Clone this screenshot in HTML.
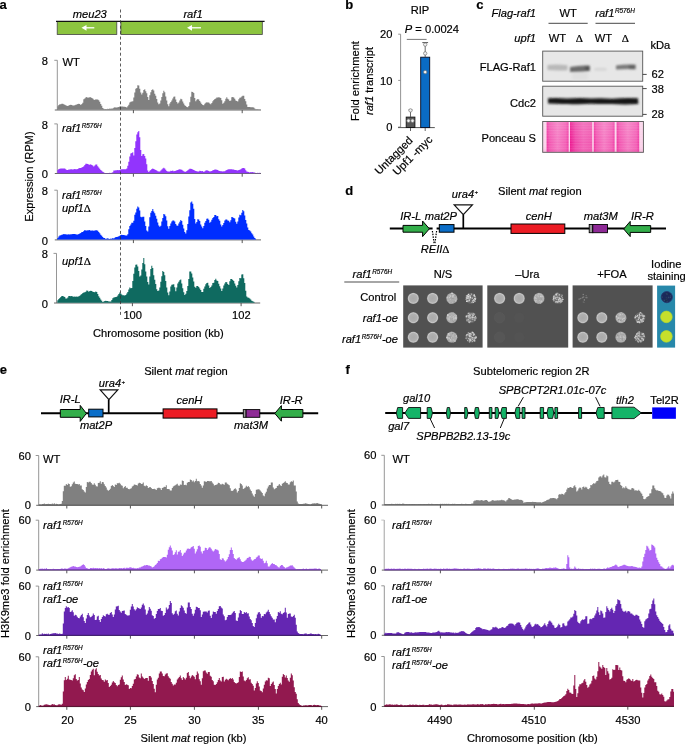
<!DOCTYPE html>
<html><head><meta charset="utf-8"><style>
html,body{margin:0;padding:0;background:#fff;width:685px;height:744px;overflow:hidden}
svg{display:block;font-family:"Liberation Sans", sans-serif;will-change:transform}
text{stroke:#000;stroke-width:0.18px}
</style></head><body>
<svg width="685" height="744" viewBox="0 0 685 744">
<rect width="685" height="744" fill="#fff"/>
<text x="-0.6" y="9.2" font-size="13" text-anchor="start" fill="#000" style="font-weight:bold;" >a</text>
<rect x="57.2" y="21.6" width="59.6" height="12.9" fill="#8cc43f" stroke="#444" stroke-width="0.8" />
<rect x="120.9" y="21.6" width="141.4" height="12.9" fill="#8cc43f" stroke="#444" stroke-width="0.8" />
<line x1="56" y1="21.3" x2="264.6" y2="21.3" stroke="#111" stroke-width="1.3" />
<text x="89.8" y="17.5" font-size="11.15" text-anchor="middle" fill="#000" style="font-style:italic;" >meu23</text>
<text x="193" y="17.5" font-size="11.15" text-anchor="middle" fill="#000" style="font-style:italic;" >raf1</text>
<line x1="84.5" y1="27.8" x2="94.3" y2="27.8" stroke="#fff" stroke-width="1.3" />
<path d="M81.5,27.8 L86.5,24.900000000000002 L86.5,30.7 Z" fill="#fff"/>
<line x1="190" y1="27.8" x2="201" y2="27.8" stroke="#fff" stroke-width="1.3" />
<path d="M187,27.8 L192,24.900000000000002 L192,30.7 Z" fill="#fff"/>
<line x1="57.3" y1="60.3" x2="57.3" y2="110.0" stroke="#8a8a8a" stroke-width="0.9" />
<line x1="54.3" y1="60.3" x2="57.3" y2="60.3" stroke="#8a8a8a" stroke-width="0.9" />
<line x1="54.8" y1="110.0" x2="261" y2="110.0" stroke="#666" stroke-width="1.0" />
<line x1="133.4" y1="110.0" x2="133.4" y2="113.2" stroke="#555" stroke-width="1.0" />
<line x1="242.2" y1="110.0" x2="242.2" y2="113.2" stroke="#555" stroke-width="1.0" />
<text x="48" y="64.89999999999999" font-size="11.15" text-anchor="end" fill="#000" style="" >8</text>
<path d="M57.3,109.7 L57.3,106.3 L58.3,106.3 L58.3,105.0 L59.3,105.0 L59.3,104.3 L60.3,104.3 L60.3,104.2 L61.3,104.2 L61.3,103.7 L62.3,103.7 L62.3,103.8 L63.3,103.8 L63.3,104.2 L64.3,104.2 L64.3,104.7 L65.3,104.7 L65.3,105.3 L66.3,105.3 L66.3,105.8 L67.3,105.8 L67.3,105.9 L68.3,105.9 L68.3,105.4 L69.3,105.4 L69.3,105.1 L70.3,105.1 L70.3,104.8 L71.3,104.8 L71.3,104.9 L72.3,104.9 L72.3,105.4 L73.3,105.4 L73.3,105.4 L74.3,105.4 L74.3,105.2 L75.3,105.2 L75.3,104.8 L76.3,104.8 L76.3,104.5 L77.3,104.5 L77.3,103.9 L78.3,103.9 L78.3,103.8 L79.3,103.8 L79.3,104.1 L80.3,104.1 L80.3,105.0 L81.3,105.0 L81.3,104.1 L82.3,104.1 L82.3,102.7 L83.3,102.7 L83.3,99.3 L84.3,99.3 L84.3,98.5 L85.3,98.5 L85.3,97.4 L86.3,97.4 L86.3,97.1 L87.3,97.1 L87.3,97.7 L88.3,97.7 L88.3,97.5 L89.3,97.5 L89.3,97.3 L90.3,97.3 L90.3,97.2 L91.3,97.2 L91.3,98.0 L92.3,98.0 L92.3,98.4 L93.3,98.4 L93.3,99.6 L94.3,99.6 L94.3,100.0 L95.3,100.0 L95.3,99.2 L96.3,99.2 L96.3,99.5 L97.3,99.5 L97.3,99.5 L98.3,99.5 L98.3,100.3 L99.3,100.3 L99.3,101.8 L100.3,101.8 L100.3,104.0 L101.3,104.0 L101.3,105.7 L102.3,105.7 L102.3,108.1 L103.3,108.1 L103.3,108.7 L104.3,108.7 L104.3,109.2 L105.3,109.2 L105.3,108.9 L106.3,108.9 L106.3,109.3 L107.3,109.3 L107.3,108.8 L108.3,108.8 L108.3,109.1 L109.3,109.1 L109.3,108.4 L110.3,108.4 L110.3,108.7 L111.3,108.7 L111.3,108.5 L112.3,108.5 L112.3,108.5 L113.3,108.5 L113.3,107.8 L114.3,107.8 L114.3,107.2 L115.3,107.2 L115.3,107.6 L116.3,107.6 L116.3,107.5 L117.3,107.5 L117.3,107.3 L118.3,107.3 L118.3,106.9 L119.3,106.9 L119.3,106.6 L120.3,106.6 L120.3,106.4 L121.3,106.4 L121.3,106.6 L122.3,106.6 L122.3,106.6 L123.3,106.6 L123.3,106.7 L124.3,106.7 L124.3,106.7 L125.3,106.7 L125.3,107.0 L126.3,107.0 L126.3,107.4 L127.3,107.4 L127.3,106.2 L128.3,106.2 L128.3,104.8 L129.3,104.8 L129.3,102.4 L130.3,102.4 L130.3,101.8 L131.3,101.8 L131.3,101.6 L132.3,101.6 L132.3,101.3 L133.3,101.3 L133.3,97.6 L134.3,97.6 L134.3,92.4 L135.3,92.4 L135.3,88.7 L136.3,88.7 L136.3,87.9 L137.3,87.9 L137.3,85.2 L138.3,85.2 L138.3,85.6 L139.3,85.6 L139.3,88.8 L140.3,88.8 L140.3,92.6 L141.3,92.6 L141.3,94.6 L142.3,94.6 L142.3,92.8 L143.3,92.8 L143.3,90.0 L144.3,90.0 L144.3,89.3 L145.3,89.3 L145.3,91.3 L146.3,91.3 L146.3,93.3 L147.3,93.3 L147.3,97.0 L148.3,97.0 L148.3,99.9 L149.3,99.9 L149.3,95.2 L150.3,95.2 L150.3,92.3 L151.3,92.3 L151.3,90.1 L152.3,90.1 L152.3,89.3 L153.3,89.3 L153.3,90.6 L154.3,90.6 L154.3,93.7 L155.3,93.7 L155.3,95.7 L156.3,95.7 L156.3,99.0 L157.3,99.0 L157.3,102.4 L158.3,102.4 L158.3,104.3 L159.3,104.3 L159.3,103.5 L160.3,103.5 L160.3,100.6 L161.3,100.6 L161.3,97.1 L162.3,97.1 L162.3,93.2 L163.3,93.2 L163.3,90.8 L164.3,90.8 L164.3,92.3 L165.3,92.3 L165.3,96.5 L166.3,96.5 L166.3,100.4 L167.3,100.4 L167.3,104.3 L168.3,104.3 L168.3,106.2 L169.3,106.2 L169.3,103.6 L170.3,103.6 L170.3,101.9 L171.3,101.9 L171.3,100.6 L172.3,100.6 L172.3,98.4 L173.3,98.4 L173.3,96.8 L174.3,96.8 L174.3,96.4 L175.3,96.4 L175.3,99.6 L176.3,99.6 L176.3,102.1 L177.3,102.1 L177.3,103.4 L178.3,103.4 L178.3,102.6 L179.3,102.6 L179.3,100.6 L180.3,100.6 L180.3,98.8 L181.3,98.8 L181.3,99.2 L182.3,99.2 L182.3,101.4 L183.3,101.4 L183.3,103.4 L184.3,103.4 L184.3,105.3 L185.3,105.3 L185.3,106.0 L186.3,106.0 L186.3,106.9 L187.3,106.9 L187.3,107.2 L188.3,107.2 L188.3,106.1 L189.3,106.1 L189.3,102.2 L190.3,102.2 L190.3,96.8 L191.3,96.8 L191.3,91.8 L192.3,91.8 L192.3,91.9 L193.3,91.9 L193.3,93.0 L194.3,93.0 L194.3,98.0 L195.3,98.0 L195.3,101.2 L196.3,101.2 L196.3,99.7 L197.3,99.7 L197.3,99.1 L198.3,99.1 L198.3,99.4 L199.3,99.4 L199.3,101.1 L200.3,101.1 L200.3,102.5 L201.3,102.5 L201.3,104.0 L202.3,104.0 L202.3,105.0 L203.3,105.0 L203.3,105.2 L204.3,105.2 L204.3,103.7 L205.3,103.7 L205.3,102.7 L206.3,102.7 L206.3,102.3 L207.3,102.3 L207.3,102.4 L208.3,102.4 L208.3,102.5 L209.3,102.5 L209.3,103.5 L210.3,103.5 L210.3,104.2 L211.3,104.2 L211.3,103.1 L212.3,103.1 L212.3,101.2 L213.3,101.2 L213.3,100.0 L214.3,100.0 L214.3,99.0 L215.3,99.0 L215.3,98.5 L216.3,98.5 L216.3,97.5 L217.3,97.5 L217.3,97.5 L218.3,97.5 L218.3,97.3 L219.3,97.3 L219.3,97.5 L220.3,97.5 L220.3,98.0 L221.3,98.0 L221.3,100.2 L222.3,100.2 L222.3,103.7 L223.3,103.7 L223.3,102.8 L224.3,102.8 L224.3,101.3 L225.3,101.3 L225.3,98.8 L226.3,98.8 L226.3,97.3 L227.3,97.3 L227.3,98.7 L228.3,98.7 L228.3,99.4 L229.3,99.4 L229.3,101.0 L230.3,101.0 L230.3,100.4 L231.3,100.4 L231.3,97.3 L232.3,97.3 L232.3,96.9 L233.3,96.9 L233.3,97.5 L234.3,97.5 L234.3,98.8 L235.3,98.8 L235.3,100.5 L236.3,100.5 L236.3,101.1 L237.3,101.1 L237.3,101.4 L238.3,101.4 L238.3,99.3 L239.3,99.3 L239.3,97.8 L240.3,97.8 L240.3,97.5 L241.3,97.5 L241.3,96.6 L242.3,96.6 L242.3,95.8 L243.3,95.8 L243.3,95.8 L244.3,95.8 L244.3,98.9 L245.3,98.9 L245.3,101.2 L246.3,101.2 L246.3,104.5 L247.3,104.5 L247.3,106.9 L248.3,106.9 L248.3,106.9 L249.3,106.9 L249.3,107.0 L250.3,107.0 L250.3,107.2 L251.3,107.2 L251.3,107.2 L252.3,107.2 L252.3,107.2 L253.3,107.2 L253.3,107.5 L254.3,107.5 L254.3,108.4 L255.3,108.4 L255.3,109.2 L256.3,109.2 L256.3,109.3 L257.3,109.3 L257.3,109.3 L258.3,109.3 L258.3,109.4 L259.3,109.4 L259.3,109.4 L260.3,109.4 L260.3,109.3 L260.4,109.3 L260.4,109.7 Z" fill="#808080" stroke="none"/>
<line x1="57.3" y1="123.9" x2="57.3" y2="173.5" stroke="#8a8a8a" stroke-width="0.9" />
<line x1="54.3" y1="123.9" x2="57.3" y2="123.9" stroke="#8a8a8a" stroke-width="0.9" />
<line x1="54.8" y1="173.5" x2="261" y2="173.5" stroke="#666" stroke-width="1.0" />
<line x1="133.4" y1="173.5" x2="133.4" y2="176.7" stroke="#555" stroke-width="1.0" />
<line x1="242.2" y1="173.5" x2="242.2" y2="176.7" stroke="#555" stroke-width="1.0" />
<text x="48" y="128.5" font-size="11.15" text-anchor="end" fill="#000" style="" >8</text>
<text x="48" y="178.1" font-size="11.15" text-anchor="end" fill="#000" style="" >0</text>
<path d="M57.3,173.2 L57.3,169.9 L58.3,169.9 L58.3,169.0 L59.3,169.0 L59.3,168.7 L60.3,168.7 L60.3,168.5 L61.3,168.5 L61.3,168.6 L62.3,168.6 L62.3,168.4 L63.3,168.4 L63.3,168.4 L64.3,168.4 L64.3,168.6 L65.3,168.6 L65.3,169.2 L66.3,169.2 L66.3,169.9 L67.3,169.9 L67.3,169.9 L68.3,169.9 L68.3,169.5 L69.3,169.5 L69.3,169.4 L70.3,169.4 L70.3,169.2 L71.3,169.2 L71.3,169.3 L72.3,169.3 L72.3,169.4 L73.3,169.4 L73.3,169.2 L74.3,169.2 L74.3,169.1 L75.3,169.1 L75.3,169.2 L76.3,169.2 L76.3,169.2 L77.3,169.2 L77.3,168.9 L78.3,168.9 L78.3,168.3 L79.3,168.3 L79.3,168.1 L80.3,168.1 L80.3,167.9 L81.3,167.9 L81.3,167.6 L82.3,167.6 L82.3,167.0 L83.3,167.0 L83.3,166.2 L84.3,166.2 L84.3,164.9 L85.3,164.9 L85.3,163.8 L86.3,163.8 L86.3,163.8 L87.3,163.8 L87.3,164.0 L88.3,164.0 L88.3,164.4 L89.3,164.4 L89.3,164.8 L90.3,164.8 L90.3,164.3 L91.3,164.3 L91.3,165.0 L92.3,165.0 L92.3,165.5 L93.3,165.5 L93.3,166.4 L94.3,166.4 L94.3,165.6 L95.3,165.6 L95.3,164.6 L96.3,164.6 L96.3,164.5 L97.3,164.5 L97.3,166.2 L98.3,166.2 L98.3,167.6 L99.3,167.6 L99.3,168.8 L100.3,168.8 L100.3,169.9 L101.3,169.9 L101.3,170.7 L102.3,170.7 L102.3,171.7 L103.3,171.7 L103.3,172.3 L104.3,172.3 L104.3,172.9 L105.3,172.9 L105.3,172.9 L106.3,172.9 L106.3,172.9 L107.3,172.9 L107.3,172.9 L108.3,172.9 L108.3,172.9 L109.3,172.9 L109.3,172.7 L110.3,172.7 L110.3,172.9 L111.3,172.9 L111.3,172.7 L112.3,172.7 L112.3,172.2 L113.3,172.2 L113.3,170.6 L114.3,170.6 L114.3,170.4 L115.3,170.4 L115.3,170.2 L116.3,170.2 L116.3,170.3 L117.3,170.3 L117.3,170.1 L118.3,170.1 L118.3,170.2 L119.3,170.2 L119.3,170.1 L120.3,170.1 L120.3,169.6 L121.3,169.6 L121.3,169.2 L122.3,169.2 L122.3,169.3 L123.3,169.3 L123.3,169.2 L124.3,169.2 L124.3,169.2 L125.3,169.2 L125.3,169.2 L126.3,169.2 L126.3,168.6 L127.3,168.6 L127.3,165.8 L128.3,165.8 L128.3,161.7 L129.3,161.7 L129.3,156.5 L130.3,156.5 L130.3,153.6 L131.3,153.6 L131.3,153.1 L132.3,153.1 L132.3,152.3 L133.3,152.3 L133.3,155.5 L134.3,155.5 L134.3,148.0 L135.3,148.0 L135.3,141.2 L136.3,141.2 L136.3,134.4 L137.3,134.4 L137.3,132.2 L138.3,132.2 L138.3,131.1 L139.3,131.1 L139.3,137.3 L140.3,137.3 L140.3,149.9 L141.3,149.9 L141.3,156.1 L142.3,156.1 L142.3,154.2 L143.3,154.2 L143.3,153.9 L144.3,153.9 L144.3,155.9 L145.3,155.9 L145.3,158.4 L146.3,158.4 L146.3,164.3 L147.3,164.3 L147.3,170.4 L148.3,170.4 L148.3,171.9 L149.3,171.9 L149.3,170.8 L150.3,170.8 L150.3,169.9 L151.3,169.9 L151.3,169.1 L152.3,169.1 L152.3,168.6 L153.3,168.6 L153.3,169.0 L154.3,169.0 L154.3,169.4 L155.3,169.4 L155.3,169.9 L156.3,169.9 L156.3,170.5 L157.3,170.5 L157.3,171.3 L158.3,171.3 L158.3,171.4 L159.3,171.4 L159.3,171.4 L160.3,171.4 L160.3,170.6 L161.3,170.6 L161.3,169.6 L162.3,169.6 L162.3,168.4 L163.3,168.4 L163.3,167.8 L164.3,167.8 L164.3,168.5 L165.3,168.5 L165.3,169.8 L166.3,169.8 L166.3,170.9 L167.3,170.9 L167.3,171.4 L168.3,171.4 L168.3,171.5 L169.3,171.5 L169.3,171.4 L170.3,171.4 L170.3,170.8 L171.3,170.8 L171.3,171.0 L172.3,171.0 L172.3,170.5 L173.3,170.5 L173.3,171.2 L174.3,171.2 L174.3,170.9 L175.3,170.9 L175.3,170.7 L176.3,170.7 L176.3,170.3 L177.3,170.3 L177.3,170.0 L178.3,170.0 L178.3,169.6 L179.3,169.6 L179.3,169.2 L180.3,169.2 L180.3,169.4 L181.3,169.4 L181.3,169.8 L182.3,169.8 L182.3,170.5 L183.3,170.5 L183.3,171.3 L184.3,171.3 L184.3,171.8 L185.3,171.8 L185.3,171.8 L186.3,171.8 L186.3,171.0 L187.3,171.0 L187.3,170.3 L188.3,170.3 L188.3,169.6 L189.3,169.6 L189.3,168.8 L190.3,168.8 L190.3,168.7 L191.3,168.7 L191.3,169.1 L192.3,169.1 L192.3,169.6 L193.3,169.6 L193.3,170.1 L194.3,170.1 L194.3,170.6 L195.3,170.6 L195.3,171.1 L196.3,171.1 L196.3,171.3 L197.3,171.3 L197.3,171.4 L198.3,171.4 L198.3,171.5 L199.3,171.5 L199.3,170.7 L200.3,170.7 L200.3,170.9 L201.3,170.9 L201.3,171.2 L202.3,171.2 L202.3,171.1 L203.3,171.1 L203.3,172.1 L204.3,172.1 L204.3,171.2 L205.3,171.2 L205.3,170.5 L206.3,170.5 L206.3,170.3 L207.3,170.3 L207.3,170.6 L208.3,170.6 L208.3,171.1 L209.3,171.1 L209.3,171.4 L210.3,171.4 L210.3,171.2 L211.3,171.2 L211.3,171.1 L212.3,171.1 L212.3,170.2 L213.3,170.2 L213.3,169.9 L214.3,169.9 L214.3,169.4 L215.3,169.4 L215.3,169.4 L216.3,169.4 L216.3,169.7 L217.3,169.7 L217.3,170.1 L218.3,170.1 L218.3,170.8 L219.3,170.8 L219.3,171.1 L220.3,171.1 L220.3,171.2 L221.3,171.2 L221.3,171.3 L222.3,171.3 L222.3,171.5 L223.3,171.5 L223.3,171.3 L224.3,171.3 L224.3,171.2 L225.3,171.2 L225.3,170.5 L226.3,170.5 L226.3,170.0 L227.3,170.0 L227.3,169.6 L228.3,169.6 L228.3,169.2 L229.3,169.2 L229.3,169.2 L230.3,169.2 L230.3,169.3 L231.3,169.3 L231.3,169.3 L232.3,169.3 L232.3,169.6 L233.3,169.6 L233.3,169.5 L234.3,169.5 L234.3,169.9 L235.3,169.9 L235.3,170.1 L236.3,170.1 L236.3,170.3 L237.3,170.3 L237.3,170.5 L238.3,170.5 L238.3,170.1 L239.3,170.1 L239.3,169.7 L240.3,169.7 L240.3,169.3 L241.3,169.3 L241.3,168.6 L242.3,168.6 L242.3,168.0 L243.3,168.0 L243.3,167.9 L244.3,167.9 L244.3,168.6 L245.3,168.6 L245.3,170.2 L246.3,170.2 L246.3,171.5 L247.3,171.5 L247.3,171.8 L248.3,171.8 L248.3,172.1 L249.3,172.1 L249.3,172.5 L250.3,172.5 L250.3,172.1 L251.3,172.1 L251.3,172.3 L252.3,172.3 L252.3,171.9 L253.3,171.9 L253.3,172.6 L254.3,172.6 L254.3,172.6 L255.3,172.6 L255.3,173.2 L256.3,173.2 L256.3,172.9 L257.3,172.9 L257.3,172.8 L258.3,172.8 L258.3,172.9 L259.3,172.9 L259.3,172.8 L260.3,172.8 L260.3,172.9 L260.4,172.9 L260.4,173.2 Z" fill="#9234fd" stroke="none"/>
<line x1="57.3" y1="190.2" x2="57.3" y2="239.9" stroke="#8a8a8a" stroke-width="0.9" />
<line x1="54.3" y1="190.2" x2="57.3" y2="190.2" stroke="#8a8a8a" stroke-width="0.9" />
<line x1="54.8" y1="239.9" x2="261" y2="239.9" stroke="#666" stroke-width="1.0" />
<line x1="133.4" y1="239.9" x2="133.4" y2="243.1" stroke="#555" stroke-width="1.0" />
<line x1="242.2" y1="239.9" x2="242.2" y2="243.1" stroke="#555" stroke-width="1.0" />
<text x="48" y="194.79999999999998" font-size="11.15" text-anchor="end" fill="#000" style="" >8</text>
<text x="48" y="244.5" font-size="11.15" text-anchor="end" fill="#000" style="" >0</text>
<path d="M57.3,239.6 L57.3,237.9 L58.3,237.9 L58.3,236.4 L59.3,236.4 L59.3,235.6 L60.3,235.6 L60.3,235.2 L61.3,235.2 L61.3,234.7 L62.3,234.7 L62.3,234.5 L63.3,234.5 L63.3,234.0 L64.3,234.0 L64.3,234.2 L65.3,234.2 L65.3,234.3 L66.3,234.3 L66.3,234.5 L67.3,234.5 L67.3,234.4 L68.3,234.4 L68.3,234.2 L69.3,234.2 L69.3,234.4 L70.3,234.4 L70.3,234.2 L71.3,234.2 L71.3,234.2 L72.3,234.2 L72.3,234.1 L73.3,234.1 L73.3,234.0 L74.3,234.0 L74.3,234.1 L75.3,234.1 L75.3,234.2 L76.3,234.2 L76.3,234.4 L77.3,234.4 L77.3,234.5 L78.3,234.5 L78.3,234.1 L79.3,234.1 L79.3,233.6 L80.3,233.6 L80.3,233.1 L81.3,233.1 L81.3,232.1 L82.3,232.1 L82.3,231.9 L83.3,231.9 L83.3,231.1 L84.3,231.1 L84.3,230.0 L85.3,230.0 L85.3,230.5 L86.3,230.5 L86.3,230.5 L87.3,230.5 L87.3,230.2 L88.3,230.2 L88.3,230.3 L89.3,230.3 L89.3,230.0 L90.3,230.0 L90.3,230.8 L91.3,230.8 L91.3,230.6 L92.3,230.6 L92.3,230.6 L93.3,230.6 L93.3,230.7 L94.3,230.7 L94.3,230.4 L95.3,230.4 L95.3,230.2 L96.3,230.2 L96.3,230.3 L97.3,230.3 L97.3,230.8 L98.3,230.8 L98.3,231.9 L99.3,231.9 L99.3,233.3 L100.3,233.3 L100.3,234.7 L101.3,234.7 L101.3,235.7 L102.3,235.7 L102.3,236.9 L103.3,236.9 L103.3,237.9 L104.3,237.9 L104.3,238.0 L105.3,238.0 L105.3,238.9 L106.3,238.9 L106.3,238.4 L107.3,238.4 L107.3,238.2 L108.3,238.2 L108.3,238.8 L109.3,238.8 L109.3,238.9 L110.3,238.9 L110.3,238.6 L111.3,238.6 L111.3,238.8 L112.3,238.8 L112.3,238.0 L113.3,238.0 L113.3,238.4 L114.3,238.4 L114.3,237.7 L115.3,237.7 L115.3,237.0 L116.3,237.0 L116.3,237.0 L117.3,237.0 L117.3,236.8 L118.3,236.8 L118.3,236.3 L119.3,236.3 L119.3,235.7 L120.3,235.7 L120.3,235.0 L121.3,235.0 L121.3,234.8 L122.3,234.8 L122.3,235.1 L123.3,235.1 L123.3,235.1 L124.3,235.1 L124.3,235.3 L125.3,235.3 L125.3,235.6 L126.3,235.6 L126.3,235.5 L127.3,235.5 L127.3,234.3 L128.3,234.3 L128.3,229.3 L129.3,229.3 L129.3,225.9 L130.3,225.9 L130.3,224.4 L131.3,224.4 L131.3,222.7 L132.3,222.7 L132.3,222.7 L133.3,222.7 L133.3,220.7 L134.3,220.7 L134.3,214.7 L135.3,214.7 L135.3,212.5 L136.3,212.5 L136.3,208.7 L137.3,208.7 L137.3,206.6 L138.3,206.6 L138.3,207.6 L139.3,207.6 L139.3,210.4 L140.3,210.4 L140.3,216.7 L141.3,216.7 L141.3,217.2 L142.3,217.2 L142.3,216.8 L143.3,216.8 L143.3,216.8 L144.3,216.8 L144.3,221.4 L145.3,221.4 L145.3,226.0 L146.3,226.0 L146.3,230.6 L147.3,230.6 L147.3,231.6 L148.3,231.6 L148.3,226.6 L149.3,226.6 L149.3,217.2 L150.3,217.2 L150.3,212.8 L151.3,212.8 L151.3,211.1 L152.3,211.1 L152.3,209.0 L153.3,209.0 L153.3,211.5 L154.3,211.5 L154.3,213.2 L155.3,213.2 L155.3,215.7 L156.3,215.7 L156.3,218.8 L157.3,218.8 L157.3,222.6 L158.3,222.6 L158.3,225.4 L159.3,225.4 L159.3,226.7 L160.3,226.7 L160.3,225.7 L161.3,225.7 L161.3,221.5 L162.3,221.5 L162.3,218.0 L163.3,218.0 L163.3,213.9 L164.3,213.9 L164.3,214.5 L165.3,214.5 L165.3,216.3 L166.3,216.3 L166.3,220.4 L167.3,220.4 L167.3,226.3 L168.3,226.3 L168.3,228.7 L169.3,228.7 L169.3,226.0 L170.3,226.0 L170.3,223.6 L171.3,223.6 L171.3,221.4 L172.3,221.4 L172.3,220.4 L173.3,220.4 L173.3,220.6 L174.3,220.6 L174.3,221.5 L175.3,221.5 L175.3,223.9 L176.3,223.9 L176.3,225.6 L177.3,225.6 L177.3,225.8 L178.3,225.8 L178.3,223.4 L179.3,223.4 L179.3,221.8 L180.3,221.8 L180.3,219.9 L181.3,219.9 L181.3,221.0 L182.3,221.0 L182.3,224.7 L183.3,224.7 L183.3,228.5 L184.3,228.5 L184.3,232.0 L185.3,232.0 L185.3,233.6 L186.3,233.6 L186.3,230.2 L187.3,230.2 L187.3,224.0 L188.3,224.0 L188.3,216.5 L189.3,216.5 L189.3,210.3 L190.3,210.3 L190.3,202.6 L191.3,202.6 L191.3,201.4 L192.3,201.4 L192.3,203.7 L193.3,203.7 L193.3,208.7 L194.3,208.7 L194.3,218.9 L195.3,218.9 L195.3,223.4 L196.3,223.4 L196.3,222.0 L197.3,222.0 L197.3,219.3 L198.3,219.3 L198.3,219.5 L199.3,219.5 L199.3,221.1 L200.3,221.1 L200.3,224.6 L201.3,224.6 L201.3,226.6 L202.3,226.6 L202.3,228.2 L203.3,228.2 L203.3,226.1 L204.3,226.1 L204.3,222.8 L205.3,222.8 L205.3,220.9 L206.3,220.9 L206.3,218.8 L207.3,218.8 L207.3,218.4 L208.3,218.4 L208.3,219.8 L209.3,219.8 L209.3,222.8 L210.3,222.8 L210.3,221.8 L211.3,221.8 L211.3,219.8 L212.3,219.8 L212.3,218.0 L213.3,218.0 L213.3,217.0 L214.3,217.0 L214.3,215.1 L215.3,215.1 L215.3,214.9 L216.3,214.9 L216.3,216.2 L217.3,216.2 L217.3,216.1 L218.3,216.1 L218.3,219.3 L219.3,219.3 L219.3,220.8 L220.3,220.8 L220.3,224.4 L221.3,224.4 L221.3,226.4 L222.3,226.4 L222.3,224.9 L223.3,224.9 L223.3,223.0 L224.3,223.0 L224.3,220.4 L225.3,220.4 L225.3,219.6 L226.3,219.6 L226.3,219.6 L227.3,219.6 L227.3,220.6 L228.3,220.6 L228.3,220.8 L229.3,220.8 L229.3,222.2 L230.3,222.2 L230.3,220.2 L231.3,220.2 L231.3,216.9 L232.3,216.9 L232.3,217.3 L233.3,217.3 L233.3,217.9 L234.3,217.9 L234.3,218.6 L235.3,218.6 L235.3,221.7 L236.3,221.7 L236.3,223.7 L237.3,223.7 L237.3,221.4 L238.3,221.4 L238.3,217.6 L239.3,217.6 L239.3,214.8 L240.3,214.8 L240.3,215.2 L241.3,215.2 L241.3,212.7 L242.3,212.7 L242.3,209.9 L243.3,209.9 L243.3,211.2 L244.3,211.2 L244.3,215.4 L245.3,215.4 L245.3,220.1 L246.3,220.1 L246.3,223.4 L247.3,223.4 L247.3,227.4 L248.3,227.4 L248.3,230.1 L249.3,230.1 L249.3,230.6 L250.3,230.6 L250.3,231.4 L251.3,231.4 L251.3,233.2 L252.3,233.2 L252.3,234.6 L253.3,234.6 L253.3,236.4 L254.3,236.4 L254.3,237.9 L255.3,237.9 L255.3,238.8 L256.0,238.8 L256.0,239.6 Z" fill="#002dff" stroke="none"/>
<line x1="56.5" y1="253.4" x2="56.5" y2="303.0" stroke="#8a8a8a" stroke-width="0.9" />
<line x1="53.5" y1="253.4" x2="56.5" y2="253.4" stroke="#8a8a8a" stroke-width="0.9" />
<line x1="54.0" y1="303.0" x2="260.2" y2="303.0" stroke="#666" stroke-width="1.0" />
<line x1="132.4" y1="303.0" x2="132.4" y2="306.2" stroke="#555" stroke-width="1.0" />
<line x1="241.1" y1="303.0" x2="241.1" y2="306.2" stroke="#555" stroke-width="1.0" />
<text x="48" y="258.0" font-size="11.15" text-anchor="end" fill="#000" style="" >8</text>
<text x="48" y="307.6" font-size="11.15" text-anchor="end" fill="#000" style="" >0</text>
<path d="M57.3,302.7 L57.3,300.2 L58.3,300.2 L58.3,298.9 L59.3,298.9 L59.3,297.9 L60.3,297.9 L60.3,296.9 L61.3,296.9 L61.3,296.1 L62.3,296.1 L62.3,295.9 L63.3,295.9 L63.3,296.6 L64.3,296.6 L64.3,297.0 L65.3,297.0 L65.3,298.4 L66.3,298.4 L66.3,298.5 L67.3,298.5 L67.3,297.5 L68.3,297.5 L68.3,296.0 L69.3,296.0 L69.3,296.1 L70.3,296.1 L70.3,296.3 L71.3,296.3 L71.3,296.1 L72.3,296.1 L72.3,296.4 L73.3,296.4 L73.3,296.7 L74.3,296.7 L74.3,296.6 L75.3,296.6 L75.3,296.7 L76.3,296.7 L76.3,296.6 L77.3,296.6 L77.3,296.7 L78.3,296.7 L78.3,296.3 L79.3,296.3 L79.3,295.7 L80.3,295.7 L80.3,294.8 L81.3,294.8 L81.3,294.0 L82.3,294.0 L82.3,292.9 L83.3,292.9 L83.3,292.4 L84.3,292.4 L84.3,292.3 L85.3,292.3 L85.3,291.7 L86.3,291.7 L86.3,290.4 L87.3,290.4 L87.3,290.7 L88.3,290.7 L88.3,291.7 L89.3,291.7 L89.3,291.1 L90.3,291.1 L90.3,290.8 L91.3,290.8 L91.3,291.1 L92.3,291.1 L92.3,291.7 L93.3,291.7 L93.3,292.0 L94.3,292.0 L94.3,292.2 L95.3,292.2 L95.3,291.6 L96.3,291.6 L96.3,292.0 L97.3,292.0 L97.3,293.9 L98.3,293.9 L98.3,296.2 L99.3,296.2 L99.3,297.8 L100.3,297.8 L100.3,299.6 L101.3,299.6 L101.3,300.8 L102.3,300.8 L102.3,302.1 L103.3,302.1 L103.3,301.4 L104.3,301.4 L104.3,301.1 L105.3,301.1 L105.3,300.8 L106.3,300.8 L106.3,301.0 L107.3,301.0 L107.3,301.1 L108.3,301.1 L108.3,301.4 L109.3,301.4 L109.3,301.5 L110.3,301.5 L110.3,301.4 L111.3,301.4 L111.3,300.1 L112.3,300.1 L112.3,298.3 L113.3,298.3 L113.3,297.6 L114.3,297.6 L114.3,297.3 L115.3,297.3 L115.3,297.0 L116.3,297.0 L116.3,296.7 L117.3,296.7 L117.3,295.5 L118.3,295.5 L118.3,293.9 L119.3,293.9 L119.3,292.6 L120.3,292.6 L120.3,293.6 L121.3,293.6 L121.3,294.6 L122.3,294.6 L122.3,295.3 L123.3,295.3 L123.3,295.3 L124.3,295.3 L124.3,295.4 L125.3,295.4 L125.3,294.9 L126.3,294.9 L126.3,293.6 L127.3,293.6 L127.3,292.1 L128.3,292.1 L128.3,289.4 L129.3,289.4 L129.3,287.4 L130.3,287.4 L130.3,288.2 L131.3,288.2 L131.3,288.1 L132.3,288.1 L132.3,281.0 L133.3,281.0 L133.3,273.7 L134.3,273.7 L134.3,267.5 L135.3,267.5 L135.3,264.8 L136.3,264.8 L136.3,264.5 L137.3,264.5 L137.3,266.5 L138.3,266.5 L138.3,271.1 L139.3,271.1 L139.3,276.4 L140.3,276.4 L140.3,275.5 L141.3,275.5 L141.3,269.4 L142.3,269.4 L142.3,263.0 L143.3,263.0 L143.3,257.9 L144.3,257.9 L144.3,264.3 L145.3,264.3 L145.3,271.4 L146.3,271.4 L146.3,276.5 L147.3,276.5 L147.3,282.1 L148.3,282.1 L148.3,284.5 L149.3,284.5 L149.3,276.4 L150.3,276.4 L150.3,269.0 L151.3,269.0 L151.3,265.8 L152.3,265.8 L152.3,268.0 L153.3,268.0 L153.3,275.3 L154.3,275.3 L154.3,279.7 L155.3,279.7 L155.3,284.1 L156.3,284.1 L156.3,289.3 L157.3,289.3 L157.3,291.1 L158.3,291.1 L158.3,290.5 L159.3,290.5 L159.3,287.5 L160.3,287.5 L160.3,281.8 L161.3,281.8 L161.3,276.2 L162.3,276.2 L162.3,271.0 L163.3,271.0 L163.3,271.9 L164.3,271.9 L164.3,275.3 L165.3,275.3 L165.3,281.0 L166.3,281.0 L166.3,287.5 L167.3,287.5 L167.3,292.5 L168.3,292.5 L168.3,295.2 L169.3,295.2 L169.3,291.5 L170.3,291.5 L170.3,286.5 L171.3,286.5 L171.3,284.7 L172.3,284.7 L172.3,284.5 L173.3,284.5 L173.3,284.3 L174.3,284.3 L174.3,287.2 L175.3,287.2 L175.3,291.2 L176.3,291.2 L176.3,287.6 L177.3,287.6 L177.3,283.5 L178.3,283.5 L178.3,281.8 L179.3,281.8 L179.3,280.3 L180.3,280.3 L180.3,279.6 L181.3,279.6 L181.3,283.5 L182.3,283.5 L182.3,288.3 L183.3,288.3 L183.3,292.3 L184.3,292.3 L184.3,294.9 L185.3,294.9 L185.3,293.8 L186.3,293.8 L186.3,290.9 L187.3,290.9 L187.3,285.9 L188.3,285.9 L188.3,279.1 L189.3,279.1 L189.3,271.4 L190.3,271.4 L190.3,271.5 L191.3,271.5 L191.3,273.6 L192.3,273.6 L192.3,277.4 L193.3,277.4 L193.3,281.6 L194.3,281.6 L194.3,286.7 L195.3,286.7 L195.3,287.8 L196.3,287.8 L196.3,286.1 L197.3,286.1 L197.3,286.1 L198.3,286.1 L198.3,286.9 L199.3,286.9 L199.3,288.5 L200.3,288.5 L200.3,290.1 L201.3,290.1 L201.3,292.0 L202.3,292.0 L202.3,292.1 L203.3,292.1 L203.3,288.8 L204.3,288.8 L204.3,286.4 L205.3,286.4 L205.3,284.3 L206.3,284.3 L206.3,282.9 L207.3,282.9 L207.3,282.8 L208.3,282.8 L208.3,285.4 L209.3,285.4 L209.3,288.1 L210.3,288.1 L210.3,287.0 L211.3,287.0 L211.3,285.4 L212.3,285.4 L212.3,283.1 L213.3,283.1 L213.3,282.8 L214.3,282.8 L214.3,279.9 L215.3,279.9 L215.3,278.8 L216.3,278.8 L216.3,280.5 L217.3,280.5 L217.3,281.0 L218.3,281.0 L218.3,283.7 L219.3,283.7 L219.3,286.3 L220.3,286.3 L220.3,288.4 L221.3,288.4 L221.3,291.0 L222.3,291.0 L222.3,288.4 L223.3,288.4 L223.3,285.4 L224.3,285.4 L224.3,283.5 L225.3,283.5 L225.3,282.0 L226.3,282.0 L226.3,282.3 L227.3,282.3 L227.3,284.1 L228.3,284.1 L228.3,284.9 L229.3,284.9 L229.3,281.3 L230.3,281.3 L230.3,279.0 L231.3,279.0 L231.3,279.0 L232.3,279.0 L232.3,280.1 L233.3,280.1 L233.3,280.9 L234.3,280.9 L234.3,283.4 L235.3,283.4 L235.3,285.8 L236.3,285.8 L236.3,287.4 L237.3,287.4 L237.3,284.9 L238.3,284.9 L238.3,281.2 L239.3,281.2 L239.3,277.9 L240.3,277.9 L240.3,278.2 L241.3,278.2 L241.3,274.6 L242.3,274.6 L242.3,274.3 L243.3,274.3 L243.3,278.3 L244.3,278.3 L244.3,283.1 L245.3,283.1 L245.3,290.7 L246.3,290.7 L246.3,296.6 L247.3,296.6 L247.3,297.4 L248.3,297.4 L248.3,297.7 L249.3,297.7 L249.3,298.5 L250.3,298.5 L250.3,299.5 L251.3,299.5 L251.3,300.7 L252.3,300.7 L252.3,301.2 L253.3,301.2 L253.3,301.8 L254.3,301.8 L254.3,302.4 L255.1,302.4 L255.1,302.7 Z" fill="#0f6a60" stroke="none"/>
<line x1="120.5" y1="9.5" x2="120.5" y2="316" stroke="#333" stroke-width="0.8" stroke-dasharray="3,2.4"/>
<text x="62.5" y="66.2" font-size="11.15" text-anchor="start" fill="#000" style="" >WT</text>
<text x="62" y="131.6" font-size="11.15" text-anchor="start" fill="#000" style="font-style:italic;">raf1<tspan font-size="6.4" dx="0.5" dy="-3.8">R576H</tspan></text>
<text x="62" y="198.6" font-size="11.15" text-anchor="start" fill="#000" style="font-style:italic;">raf1<tspan font-size="6.4" dx="0.5" dy="-3.8">R576H</tspan></text>
<text x="62" y="211.8" font-size="11.15" text-anchor="start" fill="#000" style="font-style:italic;" >upf1<tspan style="font-family:&quot;Liberation Serif&quot;,serif;font-style:normal">Δ</tspan></text>
<text x="62" y="264.9" font-size="11.15" text-anchor="start" fill="#000" style="font-style:italic;" >upf1<tspan style="font-family:&quot;Liberation Serif&quot;,serif;font-style:normal">Δ</tspan></text>
<text x="132.7" y="318.9" font-size="11.15" text-anchor="middle" fill="#000" style="" >100</text>
<text x="241.3" y="318.9" font-size="11.15" text-anchor="middle" fill="#000" style="" >102</text>
<text x="158.4" y="337.0" font-size="11.15" text-anchor="middle" fill="#000" style="" >Chromosome position (kb)</text>
<text x="0" y="0" font-size="11.15" text-anchor="middle" fill="#000" style="" transform="translate(32.8,176.6) rotate(-90)">Expression (RPM)</text>
<text x="345.2" y="9.0" font-size="13" text-anchor="start" fill="#000" style="font-weight:bold;" >b</text>
<text x="420" y="14.3" font-size="11.15" text-anchor="middle" fill="#000" style="" >RIP</text>
<text x="404.8" y="33.2" font-size="11.15" fill="#000"><tspan style="font-style:italic">P</tspan> = 0.0024</text>
<line x1="406.8" y1="39.4" x2="426.6" y2="39.4" stroke="#555" stroke-width="0.8" />
<line x1="400.6" y1="34.2" x2="400.6" y2="127.5" stroke="#888" stroke-width="0.9" />
<line x1="398.2" y1="34.2" x2="400.6" y2="34.2" stroke="#888" stroke-width="0.9" />
<text x="392.5" y="38.300000000000004" font-size="11.15" text-anchor="end" fill="#000" style="" >20</text>
<line x1="398.2" y1="80.4" x2="400.6" y2="80.4" stroke="#888" stroke-width="0.9" />
<text x="392.5" y="84.5" font-size="11.15" text-anchor="end" fill="#000" style="" >10</text>
<line x1="398.2" y1="127.0" x2="400.6" y2="127.0" stroke="#888" stroke-width="0.9" />
<text x="392.5" y="131.1" font-size="11.15" text-anchor="end" fill="#000" style="" >0</text>
<line x1="398" y1="127.6" x2="434.8" y2="127.6" stroke="#555" stroke-width="1.0" />
<line x1="410.5" y1="127.6" x2="410.5" y2="131.0" stroke="#555" stroke-width="0.9" />
<line x1="425.2" y1="127.6" x2="425.2" y2="131.0" stroke="#555" stroke-width="0.9" />
<rect x="406.2" y="117.1" width="8.7" height="10.4" fill="#575757" stroke="#111" stroke-width="0.9" />
<rect x="420.7" y="57.2" width="9.0" height="70.4" fill="#0a6bc4" stroke="#050a20" stroke-width="0.9" />
<line x1="410.5" y1="117.1" x2="410.5" y2="110" stroke="#444" stroke-width="0.8" />
<line x1="408.6" y1="109.9" x2="412.4" y2="109.9" stroke="#444" stroke-width="0.8" />
<line x1="425.2" y1="57.2" x2="425.2" y2="42.6" stroke="#444" stroke-width="0.8" />
<line x1="422.3" y1="42.6" x2="428.1" y2="42.6" stroke="#444" stroke-width="0.9" />
<circle cx="410.5" cy="110.4" r="1.7" fill="#f2f2f2" stroke="#777" stroke-width="0.7"/>
<circle cx="408.5" cy="120.8" r="1.7" fill="#f2f2f2" stroke="#777" stroke-width="0.7"/>
<circle cx="412.5" cy="120.8" r="1.7" fill="#f2f2f2" stroke="#777" stroke-width="0.7"/>
<circle cx="425.2" cy="44.6" r="1.7" fill="#f2f2f2" stroke="#777" stroke-width="0.7"/>
<circle cx="425.2" cy="53.4" r="1.7" fill="#f2f2f2" stroke="#777" stroke-width="0.7"/>
<circle cx="425.2" cy="72.1" r="1.7" fill="#f2f2f2" stroke="#777" stroke-width="0.7"/>
<text x="0" y="0" font-size="11.15" text-anchor="middle" fill="#000" style="" transform="translate(359.3,81) rotate(-90)">Fold enrichment</text>
<text font-size="11.15" text-anchor="middle" fill="#000" transform="translate(373.4,81) rotate(-90)"><tspan style="font-style:italic">raf1</tspan> transcript</text>
<text x="0" y="0" font-size="11.15" text-anchor="end" fill="#000" style="" transform="translate(413.5,141.2) rotate(-45)">Untagged</text>
<text x="0" y="0" font-size="11.15" text-anchor="end" fill="#000" style="" transform="translate(433.2,140.2) rotate(-45)">Upf1 -myc</text>
<text x="476.2" y="9.2" font-size="13" text-anchor="start" fill="#000" style="font-weight:bold;" >c</text>
<text x="536" y="17" font-size="11.15" text-anchor="end" fill="#000" style="font-style:italic;" >Flag-raf1</text>
<text x="568.2" y="17" font-size="11.15" text-anchor="middle" fill="#000" style="" >WT</text>
<line x1="548.5" y1="23.3" x2="587.7" y2="23.3" stroke="#333" stroke-width="0.9" />
<text x="615" y="17" font-size="11.15" text-anchor="middle" fill="#000" style="font-style:italic;">raf1<tspan font-size="6.4" dx="0.5" dy="-3.8">R576H</tspan></text>
<line x1="595.5" y1="23.3" x2="635" y2="23.3" stroke="#333" stroke-width="0.9" />
<text x="536" y="41.5" font-size="11.15" text-anchor="end" fill="#000" style="font-style:italic;" >upf1</text>
<text x="557.3" y="41.5" font-size="11.15" text-anchor="middle" fill="#000" style="" >WT</text>
<text x="579.4" y="41.5" font-size="11.15" text-anchor="middle" fill="#000" style="" ><tspan style="font-family:&quot;Liberation Serif&quot;,serif;font-style:normal">Δ</tspan></text>
<text x="603.4" y="41.5" font-size="11.15" text-anchor="middle" fill="#000" style="" >WT</text>
<text x="625.3" y="41.5" font-size="11.15" text-anchor="middle" fill="#000" style="" ><tspan style="font-family:&quot;Liberation Serif&quot;,serif;font-style:normal">Δ</tspan></text>
<text x="650.5" y="48.9" font-size="11.15" text-anchor="start" fill="#000" style="" >kDa</text>
<defs>
<linearGradient id="b1" x1="0" y1="0" x2="0" y2="1"><stop offset="0" stop-color="#e9e9e9"/><stop offset="1" stop-color="#e2e2e2"/></linearGradient>
<filter id="blur1" x="-20%" y="-50%" width="140%" height="200%"><feGaussianBlur stdDeviation="1.1"/></filter>
<filter id="blur2" x="-20%" y="-50%" width="140%" height="200%"><feGaussianBlur stdDeviation="0.95"/></filter>
</defs>
<rect x="542.7" y="51.1" width="100" height="30.1" fill="#e7e7e7" stroke="#555" stroke-width="0.9" />
<g filter="url(#blur1)">
<path d="M547.5,65 Q557,63.8 567.5,65.2 L567.5,70.2 Q557,70.8 547.5,70 Z" fill="#b0b0b0" opacity="0.85"/>
<path d="M570,67 Q580,65 589.5,65.6 L589.5,71 Q580,72.4 570,72 Z" fill="#666" opacity="0.95"/>
<path d="M585,66 L590,66 L590,70.5 L585,70.5 Z" fill="#444" opacity="0.6"/>
<rect x="594.5" y="67.8" width="12" height="3" fill="#d2d2d2" opacity="0.8"/>
<path d="M616,65.6 Q626,63.8 635.5,64.8 L635.5,69.2 Q626,68.8 616,69.6 Z" fill="#747474" opacity="0.95"/>
<path d="M629,64.8 L635.5,64.8 L635.5,69.2 L629,69.2 Z" fill="#505050" opacity="0.6"/>
<rect x="572" y="72.5" width="16" height="7" fill="#dcdcdc" opacity="0.6"/>
</g>
<text x="536" y="70.8" font-size="11.15" text-anchor="end" fill="#000" style="" >FLAG-Raf1</text>
<line x1="642.7" y1="74.4" x2="646.7" y2="74.4" stroke="#333" stroke-width="0.9" />
<text x="651.6" y="78.3" font-size="11.15" text-anchor="start" fill="#000" style="" >62</text>
<rect x="542.7" y="86.2" width="100" height="30.0" fill="#e6e6e6" stroke="#555" stroke-width="0.9" />
<g filter="url(#blur2)">
<path d="M548,98.3 Q558,97.6 567,98.6 Q580,97.4 591,98.5 Q602,97.8 612,98.7 Q625,97.5 638,98.2 L638.3,104 Q625,104.8 612,104 Q602,104.3 591,103.8 Q580,104.6 567,104 Q558,104.2 548,103.6 Z" fill="#141414"/>
</g>
<text x="536" y="107" font-size="11.15" text-anchor="end" fill="#000" style="" >Cdc2</text>
<line x1="642.7" y1="88.6" x2="646.7" y2="88.6" stroke="#333" stroke-width="0.9" />
<line x1="642.7" y1="114.4" x2="646.7" y2="114.4" stroke="#333" stroke-width="0.9" />
<text x="651.6" y="92.5" font-size="11.15" text-anchor="start" fill="#000" style="" >38</text>
<text x="651.6" y="118.3" font-size="11.15" text-anchor="start" fill="#000" style="" >28</text>
<defs>
<linearGradient id="lane" x1="0" y1="0" x2="1" y2="0">
<stop offset="0" stop-color="#ee2f9e"/><stop offset="0.12" stop-color="#f254b0"/><stop offset="0.5" stop-color="#f57ac2"/><stop offset="0.88" stop-color="#f35cb4"/><stop offset="1" stop-color="#ee38a3"/></linearGradient>
<linearGradient id="lane2" x1="0" y1="0" x2="1" y2="0">
<stop offset="0" stop-color="#ec168f"/><stop offset="0.25" stop-color="#f046a9"/><stop offset="0.6" stop-color="#f262b6"/><stop offset="1" stop-color="#f054ae"/></linearGradient>
<linearGradient id="vfade" x1="0" y1="0" x2="0" y2="1"><stop offset="0" stop-color="#fff" stop-opacity="0.12"/><stop offset="0.75" stop-color="#fff" stop-opacity="0"/><stop offset="1" stop-color="#d00070" stop-opacity="0.12"/></linearGradient>
<pattern id="stri" width="4" height="2.6" patternUnits="userSpaceOnUse"><rect width="4" height="1.1" fill="#fff" opacity="0.10"/></pattern>
</defs>
<rect x="542.7" y="121.5" width="100.7" height="30.8" fill="#fbd3ea" stroke="none" stroke-width="0.8" />
<rect x="546.6" y="121.9" width="22.0" height="30.0" fill="url(#lane)" stroke="none" stroke-width="0.8" />
<rect x="570.0" y="121.9" width="22.200000000000045" height="30.0" fill="url(#lane2)" stroke="none" stroke-width="0.8" />
<rect x="593.8" y="121.9" width="20.800000000000068" height="30.0" fill="url(#lane)" stroke="none" stroke-width="0.8" />
<rect x="616.6" y="121.9" width="22.600000000000023" height="30.0" fill="url(#lane)" stroke="none" stroke-width="0.8" />
<rect x="542.7" y="121.5" width="100.7" height="30.8" fill="url(#stri)" stroke="none" stroke-width="0.8" />
<rect x="542.7" y="121.5" width="100.7" height="30.8" fill="url(#vfade)" stroke="none" stroke-width="0.8" />
<rect x="542.7" y="121.5" width="100.7" height="30.8" fill="none" stroke="#555" stroke-width="0.9" />
<text x="536" y="142" font-size="11.15" text-anchor="end" fill="#000" style="" >Ponceau S</text>
<text x="345.2" y="194.7" font-size="13" text-anchor="start" fill="#000" style="font-weight:bold;" >d</text>
<text x="498" y="194.8" font-size="11.15" fill="#000">Silent <tspan style="font-style:italic">mat</tspan> region</text>
<line x1="389.8" y1="228.4" x2="432.6" y2="228.4" stroke="#000" stroke-width="2.0" />
<line x1="436.6" y1="228.4" x2="666" y2="228.4" stroke="#000" stroke-width="2.0" />
<path d="M403,225.4 L422.6,225.4 L422.6,221.0 L429.4,228.8 L422.6,236.60000000000002 L422.6,232.20000000000002 L403,232.20000000000002 Z" fill="#33ae4a" stroke="#000" stroke-width="1.0"/>
<rect x="439.3" y="224.6" width="14.7" height="7.6" fill="#0b6ec8" stroke="#000" stroke-width="1.0" />
<path d="M454.2,204.8 L472.4,204.8 L463.3,214.6 Z" fill="#fff" stroke="#111" stroke-width="1.2"/>
<line x1="463.3" y1="214.6" x2="463.3" y2="228.4" stroke="#000" stroke-width="1.7" />
<rect x="511" y="224" width="53.8" height="9.4" fill="#ec1c24" stroke="#000" stroke-width="1.0" />
<rect x="589.2" y="224.5" width="3.6" height="8.2" fill="#999" stroke="#000" stroke-width="0.9" />
<rect x="592.8" y="224.5" width="14.7" height="8.2" fill="#8e2a96" stroke="#000" stroke-width="0.9" />
<path d="M650.7,225.6 L630.2,225.6 L630.2,221.4 L623.7,229 L630.2,236.6 L630.2,232.4 L650.7,232.4 Z" fill="#33ae4a" stroke="#000" stroke-width="1.0"/>
<line x1="432.4" y1="231" x2="434.1" y2="243.5" stroke="#000" stroke-width="1.2" stroke-dasharray="1.5,1.2"/>
<line x1="436.6" y1="231" x2="434.9" y2="243.5" stroke="#000" stroke-width="1.2" stroke-dasharray="1.5,1.2"/>
<text x="451.8" y="198.1" font-size="11.15" text-anchor="start" fill="#000" style="font-style:italic;">ura4<tspan font-size="6" dx="0.5" dy="-3.8">+</tspan></text>
<text x="410.7" y="219.6" font-size="11.15" text-anchor="middle" fill="#000" style="font-style:italic;" >IR-L</text>
<text x="440.9" y="219.6" font-size="11.15" text-anchor="middle" fill="#000" style="font-style:italic;" >mat2P</text>
<text x="538.7" y="219.6" font-size="11.15" text-anchor="middle" fill="#000" style="font-style:italic;" >cenH</text>
<text x="600.8" y="219.6" font-size="11.15" text-anchor="middle" fill="#000" style="font-style:italic;" >mat3M</text>
<text x="642.4" y="219.6" font-size="11.15" text-anchor="middle" fill="#000" style="font-style:italic;" >IR-R</text>
<text x="435.1" y="253.1" font-size="11.15" text-anchor="middle" fill="#000" style="font-style:italic;" >REII<tspan style="font-family:&quot;Liberation Serif&quot;,serif;font-style:normal">Δ</tspan></text>
<text x="352.5" y="277.7" font-size="11.15" text-anchor="start" fill="#000" style="font-style:italic;">raf1<tspan font-size="6.4" dx="0.5" dy="-3.8">R576H</tspan></text>
<line x1="344.3" y1="282" x2="399.2" y2="282" stroke="#888" stroke-width="1.4" />
<text x="443" y="277.7" font-size="11.15" text-anchor="middle" fill="#000" style="" >N/S</text>
<text x="527.4" y="277.7" font-size="11.15" text-anchor="middle" fill="#000" style="" >–Ura</text>
<text x="612" y="277.7" font-size="11.15" text-anchor="middle" fill="#000" style="" >+FOA</text>
<text x="666.3" y="267.7" font-size="11.15" text-anchor="middle" fill="#000" style="" >Iodine</text>
<text x="666.6" y="279.8" font-size="11.15" text-anchor="middle" fill="#000" style="" >staining</text>
<text x="396.2" y="301" font-size="11.15" text-anchor="end" fill="#000" style="" >Control</text>
<text x="398.0" y="321.6" font-size="11.15" text-anchor="end" fill="#000" style="font-style:italic;" >raf1-oe</text>
<text x="398.0" y="342.9" font-size="11.15" text-anchor="end" fill="#000" style="font-style:italic;">raf1<tspan font-size="6.4" dx="0.5" dy="-3.8">R576H</tspan><tspan dx="0.3" dy="3.8">-oe</tspan></text>
<defs>
<radialGradient id="spot" cx="0.5" cy="0.5" r="0.5"><stop offset="0" stop-color="#a9a9a9"/><stop offset="0.65" stop-color="#b0b0b0"/><stop offset="0.86" stop-color="#c5c5c5"/><stop offset="1" stop-color="#8a8a8a"/></radialGradient>
<radialGradient id="spot2" cx="0.5" cy="0.5" r="0.5"><stop offset="0" stop-color="#a9a9a9"/><stop offset="0.85" stop-color="#b1b1b1"/><stop offset="1" stop-color="#8a8a8a"/></radialGradient>
<radialGradient id="spotf" cx="0.5" cy="0.5" r="0.5"><stop offset="0" stop-color="#5a5a5a"/><stop offset="1" stop-color="#525252"/></radialGradient>
<pattern id="speck" width="3" height="3" patternUnits="userSpaceOnUse"><rect width="3" height="3" fill="#bdbdbd"/><rect x="0" y="0" width="1.4" height="1.4" fill="#e0e0e0"/><rect x="1.6" y="1.6" width="1.2" height="1.2" fill="#8a8a8a"/></pattern>
</defs>
<rect x="403.2" y="285.4" width="79.40000000000003" height="62.200000000000045" fill="#515151" stroke="none" stroke-width="0.8" />
<circle cx="413.3" cy="298.4" r="5.7" fill="url(#spot)"/>
<circle cx="432.6" cy="298.4" r="5.7" fill="url(#spot)"/>
<circle cx="451.8" cy="298.4" r="5.6" fill="url(#spot2)"/>
<circle cx="451.8" cy="298.4" r="5.2" fill="#9a9a9a" opacity="0.0"/>
<rect x="452.21" y="295.19" width="0.94" height="0.94" fill="rgb(180,180,180)"/>
<rect x="453.88" y="296.94" width="0.90" height="0.90" fill="rgb(180,180,180)"/>
<rect x="448.96" y="295.38" width="0.82" height="0.82" fill="rgb(185,185,185)"/>
<rect x="453.24" y="297.27" width="1.16" height="1.16" fill="rgb(174,174,174)"/>
<rect x="452.47" y="296.11" width="0.88" height="0.88" fill="rgb(191,191,191)"/>
<rect x="448.89" y="297.12" width="0.94" height="0.94" fill="rgb(210,210,210)"/>
<rect x="451.67" y="299.10" width="1.29" height="1.29" fill="rgb(175,175,175)"/>
<rect x="454.53" y="295.70" width="0.87" height="0.87" fill="rgb(159,159,159)"/>
<rect x="452.49" y="293.72" width="1.32" height="1.32" fill="rgb(177,177,177)"/>
<rect x="452.02" y="296.45" width="1.38" height="1.38" fill="rgb(209,209,209)"/>
<rect x="455.18" y="295.68" width="0.99" height="0.99" fill="rgb(163,163,163)"/>
<rect x="447.90" y="294.41" width="1.05" height="1.05" fill="rgb(165,165,165)"/>
<rect x="446.63" y="296.88" width="1.33" height="1.33" fill="rgb(201,201,201)"/>
<rect x="454.66" y="296.57" width="1.20" height="1.20" fill="rgb(178,178,178)"/>
<rect x="449.86" y="299.07" width="0.81" height="0.81" fill="rgb(199,199,199)"/>
<rect x="452.29" y="297.63" width="1.32" height="1.32" fill="rgb(155,155,155)"/>
<rect x="451.27" y="294.34" width="1.49" height="1.49" fill="rgb(182,182,182)"/>
<rect x="454.64" y="295.42" width="1.26" height="1.26" fill="rgb(157,157,157)"/>
<rect x="453.09" y="294.23" width="1.01" height="1.01" fill="rgb(168,168,168)"/>
<rect x="454.96" y="300.20" width="1.45" height="1.45" fill="rgb(195,195,195)"/>
<rect x="451.14" y="293.90" width="1.36" height="1.36" fill="rgb(157,157,157)"/>
<rect x="453.94" y="301.41" width="1.29" height="1.29" fill="rgb(153,153,153)"/>
<rect x="451.62" y="302.07" width="0.88" height="0.88" fill="rgb(209,209,209)"/>
<rect x="448.63" y="300.13" width="0.97" height="0.97" fill="rgb(167,167,167)"/>
<rect x="452.49" y="302.41" width="0.91" height="0.91" fill="rgb(170,170,170)"/>
<rect x="456.04" y="298.54" width="1.27" height="1.27" fill="rgb(179,179,179)"/>
<rect x="451.84" y="292.91" width="1.14" height="1.14" fill="rgb(203,203,203)"/>
<rect x="450.72" y="302.43" width="1.13" height="1.13" fill="rgb(163,163,163)"/>
<rect x="448.05" y="299.73" width="1.12" height="1.12" fill="rgb(186,186,186)"/>
<rect x="452.84" y="301.59" width="0.82" height="0.82" fill="rgb(159,159,159)"/>
<rect x="451.18" y="297.35" width="1.16" height="1.16" fill="rgb(163,163,163)"/>
<rect x="449.43" y="293.95" width="0.88" height="0.88" fill="rgb(171,171,171)"/>
<rect x="449.83" y="295.51" width="1.17" height="1.17" fill="rgb(212,212,212)"/>
<rect x="452.43" y="294.79" width="1.39" height="1.39" fill="rgb(204,204,204)"/>
<rect x="450.10" y="302.38" width="1.40" height="1.40" fill="rgb(161,161,161)"/>
<rect x="448.91" y="301.98" width="1.48" height="1.48" fill="rgb(185,185,185)"/>
<rect x="451.21" y="292.61" width="1.49" height="1.49" fill="rgb(211,211,211)"/>
<circle cx="471" cy="298.4" r="5.4" fill="#9a9a9a" opacity="0.35"/>
<rect x="470.89" y="293.61" width="1.15" height="1.15" fill="rgb(190,190,190)"/>
<rect x="466.30" y="300.52" width="1.48" height="1.48" fill="rgb(189,189,189)"/>
<rect x="473.90" y="294.50" width="1.02" height="1.02" fill="rgb(207,207,207)"/>
<rect x="474.34" y="300.00" width="0.90" height="0.90" fill="rgb(174,174,174)"/>
<rect x="474.23" y="295.81" width="1.44" height="1.44" fill="rgb(178,178,178)"/>
<rect x="467.07" y="295.72" width="1.21" height="1.21" fill="rgb(208,208,208)"/>
<rect x="465.79" y="297.12" width="0.88" height="0.88" fill="rgb(202,202,202)"/>
<rect x="469.87" y="296.19" width="0.91" height="0.91" fill="rgb(215,215,215)"/>
<rect x="471.61" y="297.49" width="1.31" height="1.31" fill="rgb(198,198,198)"/>
<rect x="467.56" y="296.15" width="1.29" height="1.29" fill="rgb(221,221,221)"/>
<rect x="473.45" y="299.42" width="1.32" height="1.32" fill="rgb(204,204,204)"/>
<rect x="474.06" y="298.06" width="0.90" height="0.90" fill="rgb(218,218,218)"/>
<rect x="466.03" y="300.64" width="1.37" height="1.37" fill="rgb(219,219,219)"/>
<rect x="468.76" y="298.47" width="1.35" height="1.35" fill="rgb(189,189,189)"/>
<rect x="475.02" y="299.02" width="0.98" height="0.98" fill="rgb(216,216,216)"/>
<rect x="468.16" y="296.17" width="1.38" height="1.38" fill="rgb(223,223,223)"/>
<rect x="466.46" y="296.84" width="0.83" height="0.83" fill="rgb(169,169,169)"/>
<rect x="474.82" y="297.72" width="1.30" height="1.30" fill="rgb(197,197,197)"/>
<rect x="471.98" y="301.07" width="1.20" height="1.20" fill="rgb(199,199,199)"/>
<rect x="470.30" y="294.96" width="0.93" height="0.93" fill="rgb(179,179,179)"/>
<rect x="465.85" y="295.37" width="1.32" height="1.32" fill="rgb(189,189,189)"/>
<rect x="473.56" y="294.40" width="1.29" height="1.29" fill="rgb(190,190,190)"/>
<rect x="471.47" y="301.88" width="1.01" height="1.01" fill="rgb(206,206,206)"/>
<rect x="468.96" y="295.19" width="1.10" height="1.10" fill="rgb(206,206,206)"/>
<rect x="467.41" y="297.86" width="0.95" height="0.95" fill="rgb(206,206,206)"/>
<rect x="468.96" y="299.85" width="1.04" height="1.04" fill="rgb(175,175,175)"/>
<rect x="472.14" y="300.03" width="1.00" height="1.00" fill="rgb(193,193,193)"/>
<rect x="466.07" y="298.03" width="1.14" height="1.14" fill="rgb(171,171,171)"/>
<rect x="469.11" y="295.15" width="1.48" height="1.48" fill="rgb(176,176,176)"/>
<rect x="473.79" y="295.67" width="1.16" height="1.16" fill="rgb(192,192,192)"/>
<rect x="467.08" y="294.80" width="1.37" height="1.37" fill="rgb(221,221,221)"/>
<rect x="473.19" y="299.89" width="1.18" height="1.18" fill="rgb(220,220,220)"/>
<rect x="465.60" y="298.79" width="0.92" height="0.92" fill="rgb(222,222,222)"/>
<rect x="467.36" y="300.25" width="1.33" height="1.33" fill="rgb(204,204,204)"/>
<rect x="474.49" y="298.51" width="1.00" height="1.00" fill="rgb(225,225,225)"/>
<rect x="467.12" y="297.75" width="0.81" height="0.81" fill="rgb(201,201,201)"/>
<rect x="473.04" y="299.16" width="1.26" height="1.26" fill="rgb(188,188,188)"/>
<rect x="466.51" y="295.08" width="1.05" height="1.05" fill="rgb(187,187,187)"/>
<rect x="473.67" y="301.00" width="0.92" height="0.92" fill="rgb(174,174,174)"/>
<rect x="467.43" y="297.80" width="1.46" height="1.46" fill="rgb(187,187,187)"/>
<rect x="473.48" y="294.86" width="1.35" height="1.35" fill="rgb(214,214,214)"/>
<rect x="472.03" y="300.86" width="1.13" height="1.13" fill="rgb(166,166,166)"/>
<rect x="473.89" y="300.40" width="0.94" height="0.94" fill="rgb(179,179,179)"/>
<rect x="469.64" y="296.92" width="1.45" height="1.45" fill="rgb(224,224,224)"/>
<rect x="474.68" y="301.25" width="0.82" height="0.82" fill="rgb(223,223,223)"/>
<rect x="474.82" y="298.67" width="1.13" height="1.13" fill="rgb(196,196,196)"/>
<rect x="469.22" y="298.63" width="1.16" height="1.16" fill="rgb(177,177,177)"/>
<rect x="466.38" y="297.29" width="1.29" height="1.29" fill="rgb(220,220,220)"/>
<rect x="467.92" y="293.77" width="1.30" height="1.30" fill="rgb(225,225,225)"/>
<rect x="472.96" y="302.03" width="0.95" height="0.95" fill="rgb(215,215,215)"/>
<rect x="468.70" y="300.14" width="1.18" height="1.18" fill="rgb(212,212,212)"/>
<circle cx="413.3" cy="317.7" r="5.7" fill="url(#spot)"/>
<circle cx="432.6" cy="317.7" r="5.7" fill="url(#spot)"/>
<circle cx="451.8" cy="317.7" r="5.6" fill="url(#spot2)"/>
<circle cx="451.8" cy="317.7" r="5.2" fill="#9a9a9a" opacity="0.0"/>
<rect x="453.03" y="318.19" width="1.29" height="1.29" fill="rgb(207,207,207)"/>
<rect x="448.77" y="317.47" width="1.11" height="1.11" fill="rgb(211,211,211)"/>
<rect x="448.96" y="319.42" width="0.87" height="0.87" fill="rgb(209,209,209)"/>
<rect x="453.29" y="320.71" width="1.00" height="1.00" fill="rgb(179,179,179)"/>
<rect x="452.60" y="312.43" width="1.03" height="1.03" fill="rgb(183,183,183)"/>
<rect x="446.79" y="317.62" width="1.43" height="1.43" fill="rgb(179,179,179)"/>
<rect x="451.94" y="317.18" width="1.34" height="1.34" fill="rgb(181,181,181)"/>
<rect x="447.35" y="314.25" width="1.40" height="1.40" fill="rgb(204,204,204)"/>
<rect x="455.41" y="315.86" width="0.96" height="0.96" fill="rgb(204,204,204)"/>
<rect x="446.84" y="317.55" width="1.03" height="1.03" fill="rgb(189,189,189)"/>
<rect x="455.70" y="314.85" width="1.14" height="1.14" fill="rgb(192,192,192)"/>
<rect x="449.33" y="316.13" width="1.14" height="1.14" fill="rgb(201,201,201)"/>
<rect x="449.55" y="318.46" width="0.83" height="0.83" fill="rgb(154,154,154)"/>
<rect x="454.34" y="317.52" width="0.98" height="0.98" fill="rgb(212,212,212)"/>
<rect x="449.76" y="317.46" width="1.10" height="1.10" fill="rgb(185,185,185)"/>
<rect x="454.43" y="315.14" width="0.83" height="0.83" fill="rgb(209,209,209)"/>
<rect x="454.42" y="315.72" width="0.87" height="0.87" fill="rgb(173,173,173)"/>
<rect x="453.10" y="320.26" width="1.33" height="1.33" fill="rgb(184,184,184)"/>
<rect x="452.58" y="316.17" width="1.47" height="1.47" fill="rgb(197,197,197)"/>
<rect x="450.69" y="317.12" width="0.99" height="0.99" fill="rgb(187,187,187)"/>
<rect x="451.77" y="319.74" width="0.92" height="0.92" fill="rgb(193,193,193)"/>
<rect x="455.19" y="317.17" width="1.40" height="1.40" fill="rgb(211,211,211)"/>
<rect x="452.88" y="321.19" width="1.36" height="1.36" fill="rgb(154,154,154)"/>
<rect x="455.33" y="317.87" width="1.25" height="1.25" fill="rgb(205,205,205)"/>
<rect x="451.84" y="320.06" width="1.44" height="1.44" fill="rgb(165,165,165)"/>
<rect x="453.07" y="312.96" width="0.95" height="0.95" fill="rgb(189,189,189)"/>
<rect x="447.17" y="314.40" width="1.28" height="1.28" fill="rgb(184,184,184)"/>
<rect x="454.62" y="319.78" width="0.88" height="0.88" fill="rgb(153,153,153)"/>
<rect x="449.75" y="316.31" width="0.88" height="0.88" fill="rgb(203,203,203)"/>
<rect x="450.85" y="318.82" width="1.34" height="1.34" fill="rgb(169,169,169)"/>
<rect x="452.72" y="313.09" width="1.34" height="1.34" fill="rgb(178,178,178)"/>
<rect x="448.23" y="318.25" width="1.49" height="1.49" fill="rgb(200,200,200)"/>
<rect x="451.56" y="318.09" width="1.07" height="1.07" fill="rgb(176,176,176)"/>
<rect x="449.82" y="317.81" width="1.17" height="1.17" fill="rgb(169,169,169)"/>
<rect x="447.03" y="314.57" width="1.20" height="1.20" fill="rgb(214,214,214)"/>
<rect x="451.23" y="315.17" width="1.12" height="1.12" fill="rgb(188,188,188)"/>
<rect x="452.22" y="318.27" width="0.85" height="0.85" fill="rgb(158,158,158)"/>
<circle cx="471" cy="317.7" r="5.4" fill="#9a9a9a" opacity="0.35"/>
<rect x="466.46" y="319.58" width="0.99" height="0.99" fill="rgb(224,224,224)"/>
<rect x="468.95" y="321.85" width="1.31" height="1.31" fill="rgb(179,179,179)"/>
<rect x="469.80" y="317.33" width="1.12" height="1.12" fill="rgb(219,219,219)"/>
<rect x="467.70" y="318.77" width="1.42" height="1.42" fill="rgb(210,210,210)"/>
<rect x="475.12" y="318.39" width="1.02" height="1.02" fill="rgb(179,179,179)"/>
<rect x="465.73" y="316.17" width="1.37" height="1.37" fill="rgb(184,184,184)"/>
<rect x="474.10" y="319.56" width="1.39" height="1.39" fill="rgb(178,178,178)"/>
<rect x="468.39" y="321.73" width="1.10" height="1.10" fill="rgb(183,183,183)"/>
<rect x="472.53" y="315.24" width="1.01" height="1.01" fill="rgb(166,166,166)"/>
<rect x="468.51" y="314.38" width="1.45" height="1.45" fill="rgb(177,177,177)"/>
<rect x="469.92" y="316.62" width="1.13" height="1.13" fill="rgb(197,197,197)"/>
<rect x="469.16" y="314.11" width="1.45" height="1.45" fill="rgb(189,189,189)"/>
<rect x="471.53" y="316.45" width="1.20" height="1.20" fill="rgb(212,212,212)"/>
<rect x="472.57" y="312.82" width="1.27" height="1.27" fill="rgb(180,180,180)"/>
<rect x="473.47" y="313.95" width="0.95" height="0.95" fill="rgb(202,202,202)"/>
<rect x="466.49" y="320.36" width="1.10" height="1.10" fill="rgb(167,167,167)"/>
<rect x="467.68" y="312.78" width="1.24" height="1.24" fill="rgb(188,188,188)"/>
<rect x="470.06" y="318.13" width="1.17" height="1.17" fill="rgb(166,166,166)"/>
<rect x="472.74" y="314.86" width="1.00" height="1.00" fill="rgb(220,220,220)"/>
<rect x="473.64" y="317.26" width="1.28" height="1.28" fill="rgb(194,194,194)"/>
<rect x="472.00" y="314.51" width="1.08" height="1.08" fill="rgb(212,212,212)"/>
<rect x="472.54" y="314.02" width="1.09" height="1.09" fill="rgb(166,166,166)"/>
<rect x="468.50" y="312.67" width="1.11" height="1.11" fill="rgb(192,192,192)"/>
<rect x="475.16" y="317.23" width="1.46" height="1.46" fill="rgb(168,168,168)"/>
<rect x="473.49" y="319.17" width="1.04" height="1.04" fill="rgb(177,177,177)"/>
<rect x="470.02" y="320.78" width="0.92" height="0.92" fill="rgb(215,215,215)"/>
<rect x="475.02" y="316.35" width="1.05" height="1.05" fill="rgb(188,188,188)"/>
<rect x="471.59" y="316.45" width="0.89" height="0.89" fill="rgb(191,191,191)"/>
<rect x="467.90" y="319.30" width="1.35" height="1.35" fill="rgb(167,167,167)"/>
<rect x="465.75" y="315.46" width="1.45" height="1.45" fill="rgb(216,216,216)"/>
<rect x="467.49" y="315.16" width="1.33" height="1.33" fill="rgb(215,215,215)"/>
<rect x="471.48" y="321.06" width="0.89" height="0.89" fill="rgb(175,175,175)"/>
<rect x="472.24" y="317.03" width="1.16" height="1.16" fill="rgb(174,174,174)"/>
<rect x="469.66" y="315.07" width="0.97" height="0.97" fill="rgb(214,214,214)"/>
<rect x="471.55" y="317.22" width="1.26" height="1.26" fill="rgb(219,219,219)"/>
<rect x="470.54" y="313.46" width="1.16" height="1.16" fill="rgb(195,195,195)"/>
<rect x="468.75" y="317.29" width="1.02" height="1.02" fill="rgb(201,201,201)"/>
<rect x="469.67" y="317.14" width="1.32" height="1.32" fill="rgb(171,171,171)"/>
<rect x="472.09" y="313.94" width="1.06" height="1.06" fill="rgb(172,172,172)"/>
<rect x="474.92" y="316.27" width="0.81" height="0.81" fill="rgb(223,223,223)"/>
<rect x="468.95" y="315.87" width="1.14" height="1.14" fill="rgb(172,172,172)"/>
<rect x="468.05" y="315.52" width="1.46" height="1.46" fill="rgb(191,191,191)"/>
<rect x="468.52" y="321.02" width="1.32" height="1.32" fill="rgb(207,207,207)"/>
<rect x="474.23" y="313.52" width="0.88" height="0.88" fill="rgb(206,206,206)"/>
<rect x="472.09" y="314.85" width="0.82" height="0.82" fill="rgb(165,165,165)"/>
<rect x="468.97" y="317.57" width="0.97" height="0.97" fill="rgb(193,193,193)"/>
<rect x="473.27" y="316.88" width="1.16" height="1.16" fill="rgb(193,193,193)"/>
<rect x="468.79" y="320.51" width="1.32" height="1.32" fill="rgb(167,167,167)"/>
<rect x="471.71" y="318.94" width="1.19" height="1.19" fill="rgb(173,173,173)"/>
<rect x="467.87" y="316.54" width="1.47" height="1.47" fill="rgb(170,170,170)"/>
<rect x="471.91" y="315.31" width="1.42" height="1.42" fill="rgb(185,185,185)"/>
<circle cx="413.3" cy="337.2" r="5.7" fill="url(#spot)"/>
<circle cx="432.6" cy="337.2" r="5.7" fill="url(#spot)"/>
<circle cx="451.8" cy="337.2" r="5.6" fill="url(#spot2)"/>
<circle cx="451.8" cy="337.2" r="5.2" fill="#9a9a9a" opacity="0.0"/>
<rect x="450.29" y="339.81" width="1.06" height="1.06" fill="rgb(199,199,199)"/>
<rect x="452.71" y="336.21" width="1.34" height="1.34" fill="rgb(179,179,179)"/>
<rect x="447.89" y="333.10" width="1.11" height="1.11" fill="rgb(197,197,197)"/>
<rect x="453.06" y="341.33" width="1.06" height="1.06" fill="rgb(159,159,159)"/>
<rect x="452.39" y="336.15" width="0.83" height="0.83" fill="rgb(150,150,150)"/>
<rect x="448.23" y="335.60" width="1.41" height="1.41" fill="rgb(156,156,156)"/>
<rect x="452.71" y="339.12" width="1.47" height="1.47" fill="rgb(188,188,188)"/>
<rect x="456.09" y="336.54" width="0.98" height="0.98" fill="rgb(163,163,163)"/>
<rect x="446.25" y="336.78" width="1.49" height="1.49" fill="rgb(211,211,211)"/>
<rect x="449.29" y="335.79" width="1.40" height="1.40" fill="rgb(154,154,154)"/>
<rect x="447.93" y="339.42" width="1.44" height="1.44" fill="rgb(162,162,162)"/>
<rect x="446.56" y="337.25" width="0.92" height="0.92" fill="rgb(209,209,209)"/>
<rect x="448.42" y="337.19" width="1.05" height="1.05" fill="rgb(185,185,185)"/>
<rect x="448.53" y="334.77" width="1.27" height="1.27" fill="rgb(206,206,206)"/>
<rect x="453.88" y="334.06" width="1.11" height="1.11" fill="rgb(172,172,172)"/>
<rect x="447.58" y="333.45" width="1.20" height="1.20" fill="rgb(166,166,166)"/>
<rect x="450.16" y="339.12" width="0.92" height="0.92" fill="rgb(207,207,207)"/>
<rect x="448.83" y="335.48" width="0.87" height="0.87" fill="rgb(152,152,152)"/>
<rect x="448.63" y="333.99" width="1.22" height="1.22" fill="rgb(179,179,179)"/>
<rect x="454.66" y="335.03" width="1.13" height="1.13" fill="rgb(161,161,161)"/>
<rect x="455.64" y="337.19" width="0.81" height="0.81" fill="rgb(166,166,166)"/>
<rect x="452.18" y="333.78" width="1.46" height="1.46" fill="rgb(209,209,209)"/>
<rect x="448.50" y="337.81" width="1.43" height="1.43" fill="rgb(196,196,196)"/>
<rect x="452.02" y="333.24" width="1.39" height="1.39" fill="rgb(207,207,207)"/>
<rect x="456.38" y="336.96" width="0.81" height="0.81" fill="rgb(193,193,193)"/>
<rect x="447.93" y="333.24" width="1.46" height="1.46" fill="rgb(210,210,210)"/>
<rect x="450.87" y="331.87" width="1.16" height="1.16" fill="rgb(183,183,183)"/>
<rect x="451.77" y="340.79" width="0.84" height="0.84" fill="rgb(158,158,158)"/>
<rect x="452.27" y="333.51" width="1.28" height="1.28" fill="rgb(176,176,176)"/>
<rect x="451.98" y="333.00" width="1.43" height="1.43" fill="rgb(154,154,154)"/>
<rect x="454.47" y="340.68" width="0.91" height="0.91" fill="rgb(208,208,208)"/>
<rect x="450.10" y="337.45" width="0.93" height="0.93" fill="rgb(151,151,151)"/>
<rect x="449.28" y="335.11" width="0.89" height="0.89" fill="rgb(194,194,194)"/>
<rect x="455.55" y="335.38" width="1.46" height="1.46" fill="rgb(199,199,199)"/>
<rect x="454.15" y="340.27" width="1.46" height="1.46" fill="rgb(191,191,191)"/>
<rect x="451.03" y="337.46" width="0.85" height="0.85" fill="rgb(212,212,212)"/>
<rect x="452.18" y="335.53" width="1.48" height="1.48" fill="rgb(187,187,187)"/>
<circle cx="471" cy="337.2" r="5.4" fill="#9a9a9a" opacity="0.35"/>
<rect x="469.54" y="340.11" width="1.46" height="1.46" fill="rgb(171,171,171)"/>
<rect x="469.83" y="338.29" width="0.81" height="0.81" fill="rgb(180,180,180)"/>
<rect x="474.08" y="340.23" width="1.27" height="1.27" fill="rgb(224,224,224)"/>
<rect x="468.78" y="333.27" width="1.24" height="1.24" fill="rgb(200,200,200)"/>
<rect x="473.47" y="334.81" width="0.87" height="0.87" fill="rgb(189,189,189)"/>
<rect x="472.85" y="334.76" width="0.96" height="0.96" fill="rgb(213,213,213)"/>
<rect x="472.08" y="338.70" width="0.89" height="0.89" fill="rgb(172,172,172)"/>
<rect x="469.20" y="335.42" width="1.08" height="1.08" fill="rgb(187,187,187)"/>
<rect x="468.82" y="333.34" width="1.08" height="1.08" fill="rgb(199,199,199)"/>
<rect x="469.42" y="333.02" width="1.01" height="1.01" fill="rgb(218,218,218)"/>
<rect x="468.97" y="340.59" width="0.82" height="0.82" fill="rgb(204,204,204)"/>
<rect x="468.85" y="341.35" width="1.20" height="1.20" fill="rgb(176,176,176)"/>
<rect x="471.69" y="340.81" width="1.29" height="1.29" fill="rgb(169,169,169)"/>
<rect x="473.39" y="333.64" width="1.26" height="1.26" fill="rgb(210,210,210)"/>
<rect x="469.06" y="339.84" width="0.96" height="0.96" fill="rgb(181,181,181)"/>
<rect x="468.78" y="335.41" width="0.87" height="0.87" fill="rgb(218,218,218)"/>
<rect x="469.16" y="338.68" width="1.48" height="1.48" fill="rgb(198,198,198)"/>
<rect x="471.81" y="339.03" width="0.92" height="0.92" fill="rgb(203,203,203)"/>
<rect x="471.21" y="337.47" width="1.27" height="1.27" fill="rgb(175,175,175)"/>
<rect x="471.63" y="331.67" width="1.42" height="1.42" fill="rgb(210,210,210)"/>
<rect x="465.75" y="335.02" width="1.25" height="1.25" fill="rgb(187,187,187)"/>
<rect x="473.51" y="339.27" width="1.46" height="1.46" fill="rgb(183,183,183)"/>
<rect x="466.32" y="334.86" width="1.01" height="1.01" fill="rgb(171,171,171)"/>
<rect x="475.61" y="336.13" width="0.94" height="0.94" fill="rgb(181,181,181)"/>
<rect x="467.08" y="340.06" width="1.10" height="1.10" fill="rgb(182,182,182)"/>
<rect x="467.70" y="332.26" width="1.29" height="1.29" fill="rgb(167,167,167)"/>
<rect x="474.49" y="337.24" width="1.44" height="1.44" fill="rgb(210,210,210)"/>
<rect x="467.06" y="333.97" width="0.82" height="0.82" fill="rgb(220,220,220)"/>
<rect x="470.32" y="335.57" width="1.39" height="1.39" fill="rgb(172,172,172)"/>
<rect x="466.44" y="337.47" width="0.91" height="0.91" fill="rgb(167,167,167)"/>
<rect x="470.73" y="337.57" width="1.01" height="1.01" fill="rgb(168,168,168)"/>
<rect x="470.22" y="339.80" width="1.22" height="1.22" fill="rgb(193,193,193)"/>
<rect x="472.21" y="336.98" width="1.20" height="1.20" fill="rgb(220,220,220)"/>
<rect x="470.61" y="333.54" width="1.25" height="1.25" fill="rgb(186,186,186)"/>
<rect x="473.46" y="333.85" width="1.26" height="1.26" fill="rgb(203,203,203)"/>
<rect x="475.64" y="337.50" width="0.82" height="0.82" fill="rgb(206,206,206)"/>
<rect x="465.45" y="337.71" width="1.11" height="1.11" fill="rgb(182,182,182)"/>
<rect x="472.58" y="332.32" width="1.37" height="1.37" fill="rgb(203,203,203)"/>
<rect x="469.17" y="335.25" width="1.47" height="1.47" fill="rgb(223,223,223)"/>
<rect x="473.45" y="339.73" width="1.47" height="1.47" fill="rgb(197,197,197)"/>
<rect x="469.73" y="333.21" width="1.42" height="1.42" fill="rgb(207,207,207)"/>
<rect x="470.05" y="339.37" width="1.18" height="1.18" fill="rgb(219,219,219)"/>
<rect x="468.13" y="337.96" width="1.32" height="1.32" fill="rgb(190,190,190)"/>
<rect x="475.47" y="336.78" width="1.43" height="1.43" fill="rgb(194,194,194)"/>
<rect x="472.54" y="337.75" width="1.05" height="1.05" fill="rgb(181,181,181)"/>
<rect x="468.86" y="335.85" width="1.45" height="1.45" fill="rgb(206,206,206)"/>
<rect x="466.19" y="334.21" width="1.02" height="1.02" fill="rgb(214,214,214)"/>
<rect x="475.31" y="336.59" width="0.87" height="0.87" fill="rgb(204,204,204)"/>
<rect x="467.75" y="334.42" width="1.10" height="1.10" fill="rgb(204,204,204)"/>
<rect x="470.62" y="336.44" width="0.98" height="0.98" fill="rgb(202,202,202)"/>
<rect x="474.30" y="337.45" width="1.07" height="1.07" fill="rgb(218,218,218)"/>
<rect x="487.3" y="285.4" width="80.90000000000003" height="62.200000000000045" fill="#515151" stroke="none" stroke-width="0.8" />
<circle cx="499.6" cy="298.4" r="5.7" fill="url(#spot)"/>
<circle cx="519.2" cy="298.4" r="5.7" fill="url(#spot)"/>
<circle cx="539" cy="298.4" r="5.6" fill="url(#spot2)"/>
<circle cx="539" cy="298.4" r="5.2" fill="#9a9a9a" opacity="0.0"/>
<rect x="541.03" y="298.90" width="1.00" height="1.00" fill="rgb(165,165,165)"/>
<rect x="535.07" y="301.38" width="1.06" height="1.06" fill="rgb(186,186,186)"/>
<rect x="540.31" y="297.88" width="0.89" height="0.89" fill="rgb(165,165,165)"/>
<rect x="537.65" y="295.72" width="1.48" height="1.48" fill="rgb(197,197,197)"/>
<rect x="537.22" y="299.37" width="0.89" height="0.89" fill="rgb(165,165,165)"/>
<rect x="540.78" y="296.36" width="1.26" height="1.26" fill="rgb(199,199,199)"/>
<rect x="535.18" y="294.66" width="0.89" height="0.89" fill="rgb(211,211,211)"/>
<rect x="540.26" y="297.72" width="1.38" height="1.38" fill="rgb(158,158,158)"/>
<rect x="537.16" y="294.98" width="1.29" height="1.29" fill="rgb(185,185,185)"/>
<rect x="537.60" y="301.25" width="0.92" height="0.92" fill="rgb(178,178,178)"/>
<rect x="540.18" y="294.22" width="1.29" height="1.29" fill="rgb(207,207,207)"/>
<rect x="542.15" y="295.85" width="0.86" height="0.86" fill="rgb(208,208,208)"/>
<rect x="536.82" y="297.23" width="1.26" height="1.26" fill="rgb(168,168,168)"/>
<rect x="540.19" y="293.11" width="1.18" height="1.18" fill="rgb(153,153,153)"/>
<rect x="538.03" y="293.48" width="1.16" height="1.16" fill="rgb(197,197,197)"/>
<rect x="539.47" y="294.57" width="0.91" height="0.91" fill="rgb(157,157,157)"/>
<rect x="538.76" y="295.22" width="1.09" height="1.09" fill="rgb(176,176,176)"/>
<rect x="539.69" y="297.38" width="1.09" height="1.09" fill="rgb(178,178,178)"/>
<rect x="538.86" y="299.97" width="1.07" height="1.07" fill="rgb(190,190,190)"/>
<rect x="539.30" y="293.68" width="1.15" height="1.15" fill="rgb(193,193,193)"/>
<rect x="535.76" y="297.92" width="0.98" height="0.98" fill="rgb(203,203,203)"/>
<rect x="535.90" y="300.00" width="1.27" height="1.27" fill="rgb(175,175,175)"/>
<rect x="540.57" y="296.52" width="1.05" height="1.05" fill="rgb(154,154,154)"/>
<rect x="540.28" y="296.04" width="1.13" height="1.13" fill="rgb(215,215,215)"/>
<rect x="540.31" y="298.05" width="1.02" height="1.02" fill="rgb(168,168,168)"/>
<rect x="537.60" y="302.50" width="1.14" height="1.14" fill="rgb(163,163,163)"/>
<rect x="535.91" y="299.87" width="0.98" height="0.98" fill="rgb(198,198,198)"/>
<rect x="540.22" y="302.66" width="0.97" height="0.97" fill="rgb(206,206,206)"/>
<rect x="537.40" y="296.59" width="1.33" height="1.33" fill="rgb(179,179,179)"/>
<rect x="534.62" y="299.66" width="1.44" height="1.44" fill="rgb(191,191,191)"/>
<rect x="534.53" y="297.35" width="1.24" height="1.24" fill="rgb(214,214,214)"/>
<rect x="535.78" y="301.33" width="1.21" height="1.21" fill="rgb(167,167,167)"/>
<rect x="540.57" y="300.65" width="1.44" height="1.44" fill="rgb(199,199,199)"/>
<rect x="535.20" y="300.70" width="1.26" height="1.26" fill="rgb(195,195,195)"/>
<rect x="538.25" y="299.25" width="1.02" height="1.02" fill="rgb(163,163,163)"/>
<rect x="536.96" y="296.73" width="1.30" height="1.30" fill="rgb(171,171,171)"/>
<rect x="535.30" y="298.75" width="1.36" height="1.36" fill="rgb(172,172,172)"/>
<circle cx="558" cy="298.4" r="5.4" fill="#9a9a9a" opacity="0.35"/>
<rect x="557.53" y="292.78" width="0.86" height="0.86" fill="rgb(167,167,167)"/>
<rect x="557.13" y="301.07" width="1.45" height="1.45" fill="rgb(221,221,221)"/>
<rect x="552.67" y="299.09" width="0.96" height="0.96" fill="rgb(208,208,208)"/>
<rect x="552.95" y="297.07" width="0.91" height="0.91" fill="rgb(192,192,192)"/>
<rect x="558.68" y="295.23" width="0.97" height="0.97" fill="rgb(181,181,181)"/>
<rect x="561.73" y="297.24" width="1.06" height="1.06" fill="rgb(179,179,179)"/>
<rect x="556.57" y="296.78" width="1.38" height="1.38" fill="rgb(172,172,172)"/>
<rect x="561.58" y="300.74" width="0.82" height="0.82" fill="rgb(177,177,177)"/>
<rect x="560.43" y="301.51" width="1.04" height="1.04" fill="rgb(225,225,225)"/>
<rect x="555.99" y="296.84" width="1.49" height="1.49" fill="rgb(171,171,171)"/>
<rect x="558.72" y="294.15" width="1.00" height="1.00" fill="rgb(222,222,222)"/>
<rect x="556.83" y="296.54" width="1.31" height="1.31" fill="rgb(169,169,169)"/>
<rect x="561.67" y="298.64" width="1.27" height="1.27" fill="rgb(176,176,176)"/>
<rect x="558.59" y="300.54" width="0.98" height="0.98" fill="rgb(218,218,218)"/>
<rect x="559.22" y="300.83" width="1.26" height="1.26" fill="rgb(212,212,212)"/>
<rect x="559.77" y="302.15" width="1.06" height="1.06" fill="rgb(172,172,172)"/>
<rect x="554.56" y="298.09" width="1.22" height="1.22" fill="rgb(211,211,211)"/>
<rect x="555.46" y="300.92" width="1.38" height="1.38" fill="rgb(223,223,223)"/>
<rect x="556.16" y="299.11" width="0.91" height="0.91" fill="rgb(183,183,183)"/>
<rect x="555.23" y="302.05" width="1.04" height="1.04" fill="rgb(167,167,167)"/>
<rect x="561.30" y="301.52" width="0.81" height="0.81" fill="rgb(171,171,171)"/>
<rect x="559.12" y="298.46" width="1.14" height="1.14" fill="rgb(197,197,197)"/>
<rect x="556.42" y="292.74" width="1.24" height="1.24" fill="rgb(183,183,183)"/>
<rect x="561.35" y="300.79" width="1.11" height="1.11" fill="rgb(197,197,197)"/>
<rect x="560.26" y="299.96" width="1.32" height="1.32" fill="rgb(216,216,216)"/>
<rect x="562.56" y="299.02" width="1.00" height="1.00" fill="rgb(212,212,212)"/>
<rect x="553.29" y="295.63" width="0.91" height="0.91" fill="rgb(205,205,205)"/>
<rect x="556.19" y="294.38" width="1.07" height="1.07" fill="rgb(224,224,224)"/>
<rect x="558.37" y="299.23" width="1.09" height="1.09" fill="rgb(182,182,182)"/>
<rect x="555.43" y="293.57" width="1.24" height="1.24" fill="rgb(207,207,207)"/>
<rect x="557.89" y="299.72" width="1.40" height="1.40" fill="rgb(166,166,166)"/>
<rect x="553.05" y="298.02" width="1.29" height="1.29" fill="rgb(216,216,216)"/>
<rect x="554.58" y="295.35" width="0.90" height="0.90" fill="rgb(187,187,187)"/>
<rect x="556.32" y="301.30" width="1.27" height="1.27" fill="rgb(168,168,168)"/>
<rect x="562.15" y="299.00" width="0.92" height="0.92" fill="rgb(206,206,206)"/>
<rect x="558.58" y="297.11" width="1.01" height="1.01" fill="rgb(219,219,219)"/>
<rect x="558.32" y="300.79" width="0.84" height="0.84" fill="rgb(202,202,202)"/>
<rect x="561.44" y="299.05" width="1.36" height="1.36" fill="rgb(197,197,197)"/>
<rect x="561.56" y="294.67" width="1.13" height="1.13" fill="rgb(181,181,181)"/>
<rect x="553.63" y="299.93" width="0.85" height="0.85" fill="rgb(190,190,190)"/>
<rect x="555.54" y="293.90" width="1.36" height="1.36" fill="rgb(211,211,211)"/>
<rect x="554.02" y="295.78" width="1.21" height="1.21" fill="rgb(168,168,168)"/>
<rect x="554.70" y="297.11" width="1.38" height="1.38" fill="rgb(187,187,187)"/>
<rect x="553.89" y="296.84" width="1.01" height="1.01" fill="rgb(167,167,167)"/>
<rect x="557.72" y="298.78" width="1.45" height="1.45" fill="rgb(203,203,203)"/>
<rect x="558.81" y="297.66" width="1.23" height="1.23" fill="rgb(208,208,208)"/>
<rect x="561.08" y="296.06" width="0.82" height="0.82" fill="rgb(195,195,195)"/>
<rect x="559.78" y="298.29" width="1.24" height="1.24" fill="rgb(223,223,223)"/>
<rect x="552.94" y="296.14" width="1.38" height="1.38" fill="rgb(193,193,193)"/>
<rect x="556.81" y="301.74" width="1.31" height="1.31" fill="rgb(179,179,179)"/>
<rect x="552.95" y="300.32" width="0.91" height="0.91" fill="rgb(168,168,168)"/>
<circle cx="499.6" cy="317.7" r="5.2" fill="#565656" stroke="#5b5b5b" stroke-width="0.6"/>
<circle cx="519.2" cy="317.7" r="5.2" fill="#535353"/>
<circle cx="499.6" cy="337.2" r="5.2" fill="#565656" stroke="#5b5b5b" stroke-width="0.6"/>
<circle cx="519.2" cy="337.2" r="5.2" fill="#535353"/>
<rect x="572.6" y="285.4" width="80.0" height="62.200000000000045" fill="#515151" stroke="none" stroke-width="0.8" />
<circle cx="582.8" cy="298.4" r="4.6" fill="#9a9a9a" opacity="0.0"/>
<rect x="582.77" y="301.50" width="0.98" height="0.98" fill="rgb(123,123,123)"/>
<rect x="583.69" y="301.91" width="0.80" height="0.80" fill="rgb(125,125,125)"/>
<rect x="578.59" y="298.60" width="1.03" height="1.03" fill="rgb(155,155,155)"/>
<rect x="582.21" y="296.79" width="1.29" height="1.29" fill="rgb(142,142,142)"/>
<rect x="586.03" y="296.87" width="1.45" height="1.45" fill="rgb(123,123,123)"/>
<rect x="583.77" y="299.37" width="1.13" height="1.13" fill="rgb(157,157,157)"/>
<rect x="583.24" y="296.39" width="0.99" height="0.99" fill="rgb(138,138,138)"/>
<rect x="579.76" y="297.91" width="1.33" height="1.33" fill="rgb(122,122,122)"/>
<rect x="585.68" y="295.18" width="1.00" height="1.00" fill="rgb(132,132,132)"/>
<rect x="582.63" y="293.88" width="1.24" height="1.24" fill="rgb(135,135,135)"/>
<rect x="584.91" y="297.25" width="0.92" height="0.92" fill="rgb(122,122,122)"/>
<rect x="581.36" y="297.57" width="1.21" height="1.21" fill="rgb(110,110,110)"/>
<circle cx="582.8" cy="317.7" r="5.7" fill="url(#spot)"/>
<circle cx="601.8" cy="317.7" r="5.7" fill="url(#spot)"/>
<circle cx="620.9" cy="317.7" r="5.6" fill="url(#spot2)"/>
<circle cx="620.9" cy="317.7" r="5.2" fill="#9a9a9a" opacity="0.0"/>
<rect x="619.33" y="321.25" width="0.92" height="0.92" fill="rgb(194,194,194)"/>
<rect x="617.04" y="318.50" width="0.98" height="0.98" fill="rgb(197,197,197)"/>
<rect x="621.81" y="317.63" width="0.93" height="0.93" fill="rgb(166,166,166)"/>
<rect x="622.20" y="318.47" width="1.41" height="1.41" fill="rgb(207,207,207)"/>
<rect x="617.04" y="315.81" width="0.91" height="0.91" fill="rgb(212,212,212)"/>
<rect x="618.80" y="320.88" width="1.18" height="1.18" fill="rgb(193,193,193)"/>
<rect x="616.19" y="318.26" width="0.89" height="0.89" fill="rgb(167,167,167)"/>
<rect x="624.15" y="317.65" width="1.20" height="1.20" fill="rgb(203,203,203)"/>
<rect x="618.75" y="315.09" width="1.06" height="1.06" fill="rgb(200,200,200)"/>
<rect x="615.81" y="315.76" width="1.46" height="1.46" fill="rgb(209,209,209)"/>
<rect x="619.35" y="320.43" width="1.15" height="1.15" fill="rgb(207,207,207)"/>
<rect x="618.40" y="317.45" width="1.17" height="1.17" fill="rgb(197,197,197)"/>
<rect x="622.37" y="316.06" width="1.46" height="1.46" fill="rgb(169,169,169)"/>
<rect x="620.95" y="312.43" width="1.02" height="1.02" fill="rgb(179,179,179)"/>
<rect x="620.02" y="319.37" width="1.21" height="1.21" fill="rgb(194,194,194)"/>
<rect x="621.44" y="317.12" width="0.86" height="0.86" fill="rgb(177,177,177)"/>
<rect x="623.16" y="320.30" width="1.12" height="1.12" fill="rgb(161,161,161)"/>
<rect x="623.36" y="318.28" width="0.96" height="0.96" fill="rgb(210,210,210)"/>
<rect x="623.18" y="319.16" width="1.06" height="1.06" fill="rgb(166,166,166)"/>
<rect x="623.92" y="315.85" width="0.82" height="0.82" fill="rgb(163,163,163)"/>
<rect x="619.43" y="313.67" width="1.44" height="1.44" fill="rgb(204,204,204)"/>
<rect x="620.03" y="319.46" width="1.41" height="1.41" fill="rgb(150,150,150)"/>
<rect x="617.71" y="317.47" width="1.48" height="1.48" fill="rgb(205,205,205)"/>
<rect x="619.74" y="314.98" width="1.06" height="1.06" fill="rgb(185,185,185)"/>
<rect x="617.08" y="318.88" width="0.98" height="0.98" fill="rgb(196,196,196)"/>
<rect x="616.98" y="315.25" width="1.25" height="1.25" fill="rgb(155,155,155)"/>
<rect x="623.47" y="320.07" width="1.49" height="1.49" fill="rgb(193,193,193)"/>
<rect x="620.40" y="318.23" width="0.94" height="0.94" fill="rgb(213,213,213)"/>
<rect x="620.68" y="312.04" width="1.47" height="1.47" fill="rgb(170,170,170)"/>
<rect x="618.09" y="314.35" width="1.45" height="1.45" fill="rgb(177,177,177)"/>
<rect x="620.47" y="312.35" width="1.29" height="1.29" fill="rgb(166,166,166)"/>
<rect x="624.92" y="317.72" width="1.32" height="1.32" fill="rgb(167,167,167)"/>
<rect x="617.84" y="318.89" width="1.28" height="1.28" fill="rgb(150,150,150)"/>
<rect x="622.36" y="314.41" width="1.13" height="1.13" fill="rgb(162,162,162)"/>
<rect x="622.32" y="313.94" width="0.86" height="0.86" fill="rgb(205,205,205)"/>
<rect x="620.02" y="317.11" width="1.40" height="1.40" fill="rgb(182,182,182)"/>
<rect x="617.38" y="315.76" width="1.09" height="1.09" fill="rgb(167,167,167)"/>
<circle cx="640.0" cy="317.7" r="5.4" fill="#9a9a9a" opacity="0.35"/>
<rect x="641.36" y="314.89" width="0.99" height="0.99" fill="rgb(206,206,206)"/>
<rect x="641.10" y="321.16" width="1.08" height="1.08" fill="rgb(196,196,196)"/>
<rect x="642.29" y="319.40" width="1.01" height="1.01" fill="rgb(199,199,199)"/>
<rect x="640.03" y="318.85" width="1.21" height="1.21" fill="rgb(206,206,206)"/>
<rect x="640.26" y="319.66" width="1.22" height="1.22" fill="rgb(196,196,196)"/>
<rect x="637.36" y="321.43" width="1.30" height="1.30" fill="rgb(222,222,222)"/>
<rect x="642.20" y="317.77" width="1.46" height="1.46" fill="rgb(189,189,189)"/>
<rect x="641.83" y="315.35" width="1.16" height="1.16" fill="rgb(194,194,194)"/>
<rect x="641.48" y="321.73" width="1.05" height="1.05" fill="rgb(172,172,172)"/>
<rect x="639.48" y="320.59" width="0.94" height="0.94" fill="rgb(192,192,192)"/>
<rect x="637.22" y="315.82" width="0.97" height="0.97" fill="rgb(197,197,197)"/>
<rect x="644.07" y="315.51" width="1.10" height="1.10" fill="rgb(189,189,189)"/>
<rect x="638.31" y="317.34" width="1.41" height="1.41" fill="rgb(216,216,216)"/>
<rect x="640.12" y="311.97" width="1.12" height="1.12" fill="rgb(204,204,204)"/>
<rect x="642.68" y="320.65" width="1.33" height="1.33" fill="rgb(186,186,186)"/>
<rect x="641.38" y="319.51" width="1.36" height="1.36" fill="rgb(215,215,215)"/>
<rect x="635.03" y="315.42" width="1.01" height="1.01" fill="rgb(192,192,192)"/>
<rect x="640.70" y="320.16" width="1.42" height="1.42" fill="rgb(175,175,175)"/>
<rect x="642.27" y="315.40" width="1.10" height="1.10" fill="rgb(171,171,171)"/>
<rect x="636.68" y="321.47" width="1.23" height="1.23" fill="rgb(212,212,212)"/>
<rect x="639.01" y="322.06" width="0.88" height="0.88" fill="rgb(209,209,209)"/>
<rect x="640.47" y="319.77" width="0.91" height="0.91" fill="rgb(169,169,169)"/>
<rect x="638.72" y="314.83" width="1.47" height="1.47" fill="rgb(172,172,172)"/>
<rect x="643.10" y="315.48" width="1.33" height="1.33" fill="rgb(223,223,223)"/>
<rect x="643.14" y="317.25" width="0.92" height="0.92" fill="rgb(180,180,180)"/>
<rect x="636.86" y="314.88" width="0.84" height="0.84" fill="rgb(220,220,220)"/>
<rect x="637.30" y="321.09" width="1.43" height="1.43" fill="rgb(204,204,204)"/>
<rect x="639.92" y="315.00" width="1.14" height="1.14" fill="rgb(170,170,170)"/>
<rect x="642.48" y="315.34" width="1.07" height="1.07" fill="rgb(196,196,196)"/>
<rect x="643.08" y="318.02" width="1.26" height="1.26" fill="rgb(204,204,204)"/>
<rect x="636.63" y="321.26" width="0.82" height="0.82" fill="rgb(183,183,183)"/>
<rect x="638.76" y="314.11" width="1.28" height="1.28" fill="rgb(212,212,212)"/>
<rect x="634.42" y="317.42" width="1.21" height="1.21" fill="rgb(174,174,174)"/>
<rect x="641.19" y="319.50" width="1.43" height="1.43" fill="rgb(209,209,209)"/>
<rect x="641.75" y="320.09" width="1.43" height="1.43" fill="rgb(211,211,211)"/>
<rect x="638.94" y="321.81" width="1.45" height="1.45" fill="rgb(211,211,211)"/>
<rect x="639.71" y="312.92" width="0.92" height="0.92" fill="rgb(167,167,167)"/>
<rect x="636.99" y="315.01" width="1.06" height="1.06" fill="rgb(205,205,205)"/>
<rect x="638.46" y="321.04" width="1.20" height="1.20" fill="rgb(198,198,198)"/>
<rect x="638.94" y="316.35" width="1.16" height="1.16" fill="rgb(202,202,202)"/>
<rect x="637.86" y="317.03" width="1.16" height="1.16" fill="rgb(178,178,178)"/>
<rect x="641.54" y="319.66" width="1.36" height="1.36" fill="rgb(172,172,172)"/>
<rect x="637.68" y="319.18" width="1.16" height="1.16" fill="rgb(169,169,169)"/>
<rect x="640.89" y="313.20" width="1.02" height="1.02" fill="rgb(169,169,169)"/>
<rect x="634.60" y="316.50" width="1.47" height="1.47" fill="rgb(208,208,208)"/>
<rect x="636.18" y="319.59" width="1.23" height="1.23" fill="rgb(166,166,166)"/>
<rect x="637.83" y="318.84" width="1.05" height="1.05" fill="rgb(206,206,206)"/>
<rect x="639.27" y="312.66" width="0.91" height="0.91" fill="rgb(216,216,216)"/>
<rect x="636.21" y="316.07" width="1.06" height="1.06" fill="rgb(211,211,211)"/>
<rect x="642.56" y="315.14" width="0.90" height="0.90" fill="rgb(190,190,190)"/>
<rect x="641.74" y="313.78" width="0.86" height="0.86" fill="rgb(209,209,209)"/>
<circle cx="582.8" cy="337.2" r="5.7" fill="url(#spot)"/>
<circle cx="601.8" cy="337.2" r="5.7" fill="url(#spot)"/>
<circle cx="620.9" cy="337.2" r="5.6" fill="url(#spot2)"/>
<circle cx="620.9" cy="337.2" r="5.2" fill="#9a9a9a" opacity="0.0"/>
<rect x="620.29" y="331.87" width="0.81" height="0.81" fill="rgb(161,161,161)"/>
<rect x="621.54" y="338.92" width="0.88" height="0.88" fill="rgb(193,193,193)"/>
<rect x="620.54" y="337.31" width="1.34" height="1.34" fill="rgb(188,188,188)"/>
<rect x="619.21" y="339.48" width="0.82" height="0.82" fill="rgb(173,173,173)"/>
<rect x="624.23" y="337.51" width="1.36" height="1.36" fill="rgb(191,191,191)"/>
<rect x="616.53" y="337.27" width="0.83" height="0.83" fill="rgb(191,191,191)"/>
<rect x="616.50" y="335.60" width="1.12" height="1.12" fill="rgb(198,198,198)"/>
<rect x="622.63" y="337.18" width="0.82" height="0.82" fill="rgb(176,176,176)"/>
<rect x="615.85" y="335.63" width="1.01" height="1.01" fill="rgb(166,166,166)"/>
<rect x="617.60" y="336.99" width="1.02" height="1.02" fill="rgb(160,160,160)"/>
<rect x="620.00" y="338.04" width="1.00" height="1.00" fill="rgb(164,164,164)"/>
<rect x="617.26" y="335.06" width="1.40" height="1.40" fill="rgb(161,161,161)"/>
<rect x="618.29" y="333.53" width="1.03" height="1.03" fill="rgb(169,169,169)"/>
<rect x="623.14" y="334.26" width="0.88" height="0.88" fill="rgb(164,164,164)"/>
<rect x="620.00" y="334.70" width="1.14" height="1.14" fill="rgb(183,183,183)"/>
<rect x="624.72" y="338.18" width="1.24" height="1.24" fill="rgb(198,198,198)"/>
<rect x="623.42" y="338.56" width="1.32" height="1.32" fill="rgb(183,183,183)"/>
<rect x="619.74" y="336.43" width="1.22" height="1.22" fill="rgb(206,206,206)"/>
<rect x="618.65" y="333.13" width="0.92" height="0.92" fill="rgb(164,164,164)"/>
<rect x="615.89" y="338.03" width="1.37" height="1.37" fill="rgb(172,172,172)"/>
<rect x="620.97" y="332.63" width="1.25" height="1.25" fill="rgb(205,205,205)"/>
<rect x="622.33" y="340.26" width="0.81" height="0.81" fill="rgb(150,150,150)"/>
<rect x="623.32" y="336.71" width="1.24" height="1.24" fill="rgb(201,201,201)"/>
<rect x="616.84" y="334.56" width="1.20" height="1.20" fill="rgb(152,152,152)"/>
<rect x="622.96" y="335.90" width="0.93" height="0.93" fill="rgb(196,196,196)"/>
<rect x="620.54" y="333.46" width="1.25" height="1.25" fill="rgb(157,157,157)"/>
<rect x="621.68" y="333.47" width="1.11" height="1.11" fill="rgb(205,205,205)"/>
<rect x="624.23" y="338.40" width="1.45" height="1.45" fill="rgb(169,169,169)"/>
<rect x="621.63" y="337.66" width="0.97" height="0.97" fill="rgb(172,172,172)"/>
<rect x="622.24" y="334.10" width="1.03" height="1.03" fill="rgb(166,166,166)"/>
<rect x="617.32" y="336.88" width="1.01" height="1.01" fill="rgb(204,204,204)"/>
<rect x="619.81" y="338.90" width="1.28" height="1.28" fill="rgb(187,187,187)"/>
<rect x="621.65" y="338.65" width="0.85" height="0.85" fill="rgb(157,157,157)"/>
<rect x="618.59" y="333.24" width="1.15" height="1.15" fill="rgb(191,191,191)"/>
<rect x="621.51" y="333.47" width="1.12" height="1.12" fill="rgb(156,156,156)"/>
<rect x="621.78" y="338.75" width="1.21" height="1.21" fill="rgb(167,167,167)"/>
<rect x="621.60" y="338.26" width="1.21" height="1.21" fill="rgb(150,150,150)"/>
<circle cx="640.0" cy="337.2" r="5.4" fill="#9a9a9a" opacity="0.35"/>
<rect x="638.38" y="331.38" width="1.45" height="1.45" fill="rgb(189,189,189)"/>
<rect x="639.39" y="336.51" width="1.25" height="1.25" fill="rgb(167,167,167)"/>
<rect x="634.41" y="336.99" width="0.96" height="0.96" fill="rgb(223,223,223)"/>
<rect x="637.40" y="335.09" width="1.49" height="1.49" fill="rgb(196,196,196)"/>
<rect x="636.11" y="333.35" width="1.49" height="1.49" fill="rgb(214,214,214)"/>
<rect x="638.44" y="333.40" width="1.11" height="1.11" fill="rgb(177,177,177)"/>
<rect x="639.84" y="340.31" width="1.48" height="1.48" fill="rgb(199,199,199)"/>
<rect x="636.31" y="339.17" width="0.82" height="0.82" fill="rgb(196,196,196)"/>
<rect x="641.98" y="333.65" width="1.09" height="1.09" fill="rgb(220,220,220)"/>
<rect x="642.91" y="333.19" width="1.21" height="1.21" fill="rgb(190,190,190)"/>
<rect x="637.09" y="337.22" width="1.02" height="1.02" fill="rgb(186,186,186)"/>
<rect x="634.67" y="337.60" width="1.14" height="1.14" fill="rgb(214,214,214)"/>
<rect x="639.43" y="339.96" width="0.88" height="0.88" fill="rgb(221,221,221)"/>
<rect x="640.84" y="333.55" width="1.10" height="1.10" fill="rgb(167,167,167)"/>
<rect x="639.98" y="335.85" width="1.00" height="1.00" fill="rgb(170,170,170)"/>
<rect x="639.22" y="331.67" width="0.85" height="0.85" fill="rgb(176,176,176)"/>
<rect x="641.38" y="336.20" width="1.10" height="1.10" fill="rgb(185,185,185)"/>
<rect x="641.85" y="333.59" width="1.09" height="1.09" fill="rgb(187,187,187)"/>
<rect x="643.36" y="335.63" width="1.44" height="1.44" fill="rgb(199,199,199)"/>
<rect x="638.33" y="332.78" width="0.93" height="0.93" fill="rgb(179,179,179)"/>
<rect x="641.02" y="337.66" width="1.43" height="1.43" fill="rgb(208,208,208)"/>
<rect x="637.61" y="341.16" width="1.41" height="1.41" fill="rgb(175,175,175)"/>
<rect x="642.61" y="333.67" width="0.93" height="0.93" fill="rgb(202,202,202)"/>
<rect x="638.47" y="338.91" width="0.92" height="0.92" fill="rgb(214,214,214)"/>
<rect x="638.28" y="335.21" width="0.94" height="0.94" fill="rgb(202,202,202)"/>
<rect x="635.01" y="335.87" width="1.04" height="1.04" fill="rgb(187,187,187)"/>
<rect x="636.64" y="338.17" width="1.08" height="1.08" fill="rgb(184,184,184)"/>
<rect x="634.67" y="336.50" width="1.13" height="1.13" fill="rgb(194,194,194)"/>
<rect x="641.78" y="337.92" width="1.04" height="1.04" fill="rgb(204,204,204)"/>
<rect x="641.17" y="340.56" width="0.95" height="0.95" fill="rgb(191,191,191)"/>
<rect x="638.26" y="338.58" width="1.05" height="1.05" fill="rgb(210,210,210)"/>
<rect x="642.68" y="332.89" width="0.91" height="0.91" fill="rgb(199,199,199)"/>
<rect x="643.56" y="334.56" width="0.88" height="0.88" fill="rgb(213,213,213)"/>
<rect x="642.49" y="338.10" width="0.98" height="0.98" fill="rgb(208,208,208)"/>
<rect x="635.45" y="337.44" width="1.21" height="1.21" fill="rgb(178,178,178)"/>
<rect x="635.19" y="335.40" width="1.46" height="1.46" fill="rgb(215,215,215)"/>
<rect x="637.14" y="340.48" width="1.01" height="1.01" fill="rgb(205,205,205)"/>
<rect x="641.18" y="338.27" width="1.17" height="1.17" fill="rgb(171,171,171)"/>
<rect x="639.70" y="340.26" width="0.91" height="0.91" fill="rgb(185,185,185)"/>
<rect x="638.45" y="333.08" width="1.30" height="1.30" fill="rgb(186,186,186)"/>
<rect x="640.40" y="341.70" width="0.89" height="0.89" fill="rgb(180,180,180)"/>
<rect x="642.50" y="339.22" width="1.44" height="1.44" fill="rgb(225,225,225)"/>
<rect x="639.03" y="335.73" width="0.99" height="0.99" fill="rgb(193,193,193)"/>
<rect x="635.36" y="339.63" width="0.93" height="0.93" fill="rgb(195,195,195)"/>
<rect x="636.36" y="336.05" width="1.07" height="1.07" fill="rgb(203,203,203)"/>
<rect x="636.58" y="332.95" width="1.06" height="1.06" fill="rgb(171,171,171)"/>
<rect x="638.91" y="334.63" width="0.83" height="0.83" fill="rgb(217,217,217)"/>
<rect x="638.83" y="340.13" width="1.11" height="1.11" fill="rgb(173,173,173)"/>
<rect x="642.70" y="335.56" width="1.15" height="1.15" fill="rgb(176,176,176)"/>
<rect x="637.20" y="332.55" width="0.90" height="0.90" fill="rgb(218,218,218)"/>
<rect x="637.71" y="337.83" width="0.98" height="0.98" fill="rgb(223,223,223)"/>
<rect x="657.1" y="285.6" width="18.0" height="62.0" fill="#2788aa" stroke="none" stroke-width="0.8" />
<circle cx="666.8" cy="297.1" r="5.6" fill="#1b2a5a" stroke="#24386e" stroke-width="0.8"/>
<circle cx="666.8" cy="297.1" r="4.6" fill="#9a9a9a" opacity="0.0"/>
<rect x="670.03" y="295.42" width="1.08" height="1.08" fill="rgb(48,70,108)"/>
<rect x="665.72" y="298.61" width="1.44" height="1.44" fill="rgb(40,59,91)"/>
<rect x="663.37" y="299.48" width="1.46" height="1.46" fill="rgb(31,44,69)"/>
<rect x="668.32" y="293.71" width="1.13" height="1.13" fill="rgb(30,44,68)"/>
<rect x="666.16" y="299.70" width="0.89" height="0.89" fill="rgb(31,45,70)"/>
<rect x="667.14" y="298.10" width="1.02" height="1.02" fill="rgb(35,51,79)"/>
<rect x="665.21" y="300.30" width="0.83" height="0.83" fill="rgb(27,39,60)"/>
<rect x="665.98" y="293.09" width="1.44" height="1.44" fill="rgb(45,65,100)"/>
<rect x="663.55" y="299.65" width="1.49" height="1.49" fill="rgb(48,69,107)"/>
<rect x="665.72" y="296.82" width="1.25" height="1.25" fill="rgb(40,58,90)"/>
<rect x="664.95" y="299.73" width="0.95" height="0.95" fill="rgb(35,51,79)"/>
<rect x="669.87" y="296.92" width="1.09" height="1.09" fill="rgb(48,69,107)"/>
<rect x="661.76" y="296.46" width="1.25" height="1.25" fill="rgb(44,64,99)"/>
<rect x="667.90" y="296.71" width="1.46" height="1.46" fill="rgb(48,70,108)"/>
<rect x="666.45" y="300.75" width="1.48" height="1.48" fill="rgb(42,61,95)"/>
<rect x="666.59" y="293.88" width="0.93" height="0.93" fill="rgb(35,50,78)"/>
<rect x="665.57" y="292.80" width="0.96" height="0.96" fill="rgb(40,58,90)"/>
<rect x="666.48" y="293.73" width="1.14" height="1.14" fill="rgb(45,65,101)"/>
<circle cx="666.4" cy="316.9" r="5.8" fill="#c6df2c" stroke="#b5dc2a" stroke-width="0.7"/>
<circle cx="666.4" cy="336.4" r="5.8" fill="#c6df2c" stroke="#b5dc2a" stroke-width="0.7"/>
<text x="-0.3" y="374.3" font-size="13" text-anchor="start" fill="#000" style="font-weight:bold;" >e</text>
<text x="186" y="374.8" font-size="11.15" text-anchor="middle" fill="#000">Silent <tspan style="font-style:italic">mat</tspan> region</text>
<line x1="41" y1="413.3" x2="318.2" y2="413.3" stroke="#000" stroke-width="2.0" />
<path d="M60.3,409.5 L80.2,409.5 L80.2,405.4 L86.4,413.4 L80.2,421.4 L80.2,417.29999999999995 L60.3,417.29999999999995 Z" fill="#33ae4a" stroke="#000" stroke-width="1.0"/>
<rect x="88.7" y="409.2" width="14.3" height="7.7" fill="#0b6ec8" stroke="#000" stroke-width="1.0" />
<path d="M100.2,389.8 L117.8,389.8 L108.9,399.7 Z" fill="#fff" stroke="#111" stroke-width="1.2"/>
<line x1="108.7" y1="399.7" x2="108.7" y2="413.3" stroke="#000" stroke-width="1.7" />
<rect x="163.1" y="408.9" width="53.9" height="9.2" fill="#ec1c24" stroke="#000" stroke-width="1.0" />
<rect x="243.3" y="409.6" width="2.8" height="7.7" fill="#999" stroke="#000" stroke-width="0.9" />
<rect x="246.1" y="409.6" width="13.7" height="7.7" fill="#8e2a96" stroke="#000" stroke-width="0.9" />
<path d="M302.9,409.5 L281.4,409.5 L281.4,405.59999999999997 L274.8,413.4 L281.4,421.2 L281.4,417.29999999999995 L302.9,417.29999999999995 Z" fill="#33ae4a" stroke="#000" stroke-width="1.0"/>
<text x="98.8" y="387.3" font-size="11.15" text-anchor="start" fill="#000" style="font-style:italic;">ura4<tspan font-size="6" dx="0.5" dy="-3.8">+</tspan></text>
<text x="70.2" y="402.7" font-size="11.15" text-anchor="middle" fill="#000" style="font-style:italic;" >IR-L</text>
<text x="96" y="428.7" font-size="11.15" text-anchor="middle" fill="#000" style="font-style:italic;" >mat2P</text>
<text x="189.4" y="404.4" font-size="11.15" text-anchor="middle" fill="#000" style="font-style:italic;" >cenH</text>
<text x="251" y="428.6" font-size="11.15" text-anchor="middle" fill="#000" style="font-style:italic;" >mat3M</text>
<text x="291.2" y="403.6" font-size="11.15" text-anchor="middle" fill="#000" style="font-style:italic;" >IR-R</text>
<line x1="38.7" y1="455.5" x2="38.7" y2="505.3" stroke="#8a8a8a" stroke-width="0.9" />
<line x1="35.7" y1="455.5" x2="38.7" y2="455.5" stroke="#8a8a8a" stroke-width="0.9" />
<line x1="36.2" y1="505.3" x2="328" y2="505.3" stroke="#666" stroke-width="1.0" />
<line x1="66.8" y1="505.3" x2="66.8" y2="508.5" stroke="#555" stroke-width="1.0" />
<line x1="130.4" y1="505.3" x2="130.4" y2="508.5" stroke="#555" stroke-width="1.0" />
<line x1="194.4" y1="505.3" x2="194.4" y2="508.5" stroke="#555" stroke-width="1.0" />
<line x1="258.4" y1="505.3" x2="258.4" y2="508.5" stroke="#555" stroke-width="1.0" />
<line x1="321.7" y1="505.3" x2="321.7" y2="508.5" stroke="#555" stroke-width="1.0" />
<text x="31" y="459.6" font-size="11.15" text-anchor="end" fill="#000" style="" >60</text>
<text x="31" y="509.40000000000003" font-size="11.15" text-anchor="end" fill="#000" style="" >0</text>
<path d="M38.8,505.1 L38.8,504.6 L39.8,504.6 L39.8,504.6 L40.8,504.6 L40.8,504.7 L41.8,504.7 L41.8,503.9 L42.8,503.9 L42.8,504.0 L43.8,504.0 L43.8,503.6 L44.8,503.6 L44.8,504.3 L45.8,504.3 L45.8,503.9 L46.8,503.9 L46.8,504.0 L47.8,504.0 L47.8,503.8 L48.8,503.8 L48.8,503.9 L49.8,503.9 L49.8,504.0 L50.8,504.0 L50.8,504.2 L51.8,504.2 L51.8,503.6 L52.8,503.6 L52.8,504.2 L53.8,504.2 L53.8,503.3 L54.8,503.3 L54.8,504.4 L55.8,504.4 L55.8,503.8 L56.8,503.8 L56.8,504.1 L57.8,504.1 L57.8,504.6 L58.8,504.6 L58.8,504.2 L59.8,504.2 L59.8,504.1 L60.8,504.1 L60.8,503.7 L61.8,503.7 L61.8,501.1 L62.8,501.1 L62.8,491.3 L63.8,491.3 L63.8,485.7 L64.8,485.7 L64.8,485.7 L65.8,485.7 L65.8,484.1 L66.8,484.1 L66.8,485.1 L67.8,485.1 L67.8,483.5 L68.8,483.5 L68.8,484.0 L69.8,484.0 L69.8,486.8 L70.8,486.8 L70.8,486.2 L71.8,486.2 L71.8,484.3 L72.8,484.3 L72.8,482.6 L73.8,482.6 L73.8,481.6 L74.8,481.6 L74.8,483.8 L75.8,483.8 L75.8,484.0 L76.8,484.0 L76.8,484.0 L77.8,484.0 L77.8,484.5 L78.8,484.5 L78.8,484.0 L79.8,484.0 L79.8,485.5 L80.8,485.5 L80.8,485.4 L81.8,485.4 L81.8,489.3 L82.8,489.3 L82.8,489.9 L83.8,489.9 L83.8,491.6 L84.8,491.6 L84.8,492.4 L85.8,492.4 L85.8,487.0 L86.8,487.0 L86.8,481.9 L87.8,481.9 L87.8,482.5 L88.8,482.5 L88.8,481.7 L89.8,481.7 L89.8,481.8 L90.8,481.8 L90.8,483.0 L91.8,483.0 L91.8,484.4 L92.8,484.4 L92.8,484.7 L93.8,484.7 L93.8,483.3 L94.8,483.3 L94.8,484.8 L95.8,484.8 L95.8,486.2 L96.8,486.2 L96.8,486.4 L97.8,486.4 L97.8,483.1 L98.8,483.1 L98.8,482.7 L99.8,482.7 L99.8,481.2 L100.8,481.2 L100.8,483.8 L101.8,483.8 L101.8,482.0 L102.8,482.0 L102.8,482.3 L103.8,482.3 L103.8,484.3 L104.8,484.3 L104.8,486.0 L105.8,486.0 L105.8,487.6 L106.8,487.6 L106.8,489.7 L107.8,489.7 L107.8,490.8 L108.8,490.8 L108.8,490.0 L109.8,490.0 L109.8,488.7 L110.8,488.7 L110.8,486.0 L111.8,486.0 L111.8,485.1 L112.8,485.1 L112.8,486.0 L113.8,486.0 L113.8,487.0 L114.8,487.0 L114.8,484.6 L115.8,484.6 L115.8,485.0 L116.8,485.0 L116.8,483.2 L117.8,483.2 L117.8,483.3 L118.8,483.3 L118.8,482.7 L119.8,482.7 L119.8,483.7 L120.8,483.7 L120.8,485.3 L121.8,485.3 L121.8,485.7 L122.8,485.7 L122.8,488.3 L123.8,488.3 L123.8,486.9 L124.8,486.9 L124.8,486.0 L125.8,486.0 L125.8,487.7 L126.8,487.7 L126.8,487.8 L127.8,487.8 L127.8,489.1 L128.8,489.1 L128.8,489.2 L129.8,489.2 L129.8,488.7 L130.8,488.7 L130.8,488.2 L131.8,488.2 L131.8,486.5 L132.8,486.5 L132.8,485.7 L133.8,485.7 L133.8,484.4 L134.8,484.4 L134.8,484.7 L135.8,484.7 L135.8,485.1 L136.8,485.1 L136.8,485.4 L137.8,485.4 L137.8,483.4 L138.8,483.4 L138.8,482.7 L139.8,482.7 L139.8,483.1 L140.8,483.1 L140.8,484.0 L141.8,484.0 L141.8,483.8 L142.8,483.8 L142.8,482.5 L143.8,482.5 L143.8,485.7 L144.8,485.7 L144.8,486.2 L145.8,486.2 L145.8,485.3 L146.8,485.3 L146.8,485.9 L147.8,485.9 L147.8,487.9 L148.8,487.9 L148.8,487.3 L149.8,487.3 L149.8,487.0 L150.8,487.0 L150.8,488.0 L151.8,488.0 L151.8,488.9 L152.8,488.9 L152.8,489.0 L153.8,489.0 L153.8,488.8 L154.8,488.8 L154.8,489.3 L155.8,489.3 L155.8,489.9 L156.8,489.9 L156.8,488.3 L157.8,488.3 L157.8,487.8 L158.8,487.8 L158.8,487.7 L159.8,487.7 L159.8,488.3 L160.8,488.3 L160.8,490.0 L161.8,490.0 L161.8,488.1 L162.8,488.1 L162.8,487.4 L163.8,487.4 L163.8,486.7 L164.8,486.7 L164.8,486.9 L165.8,486.9 L165.8,485.3 L166.8,485.3 L166.8,488.9 L167.8,488.9 L167.8,488.9 L168.8,488.9 L168.8,489.2 L169.8,489.2 L169.8,490.4 L170.8,490.4 L170.8,490.5 L171.8,490.5 L171.8,488.0 L172.8,488.0 L172.8,486.5 L173.8,486.5 L173.8,485.7 L174.8,485.7 L174.8,485.3 L175.8,485.3 L175.8,484.6 L176.8,484.6 L176.8,483.8 L177.8,483.8 L177.8,485.4 L178.8,485.4 L178.8,485.7 L179.8,485.7 L179.8,484.4 L180.8,484.4 L180.8,484.8 L181.8,484.8 L181.8,480.4 L182.8,480.4 L182.8,481.1 L183.8,481.1 L183.8,484.9 L184.8,484.9 L184.8,484.8 L185.8,484.8 L185.8,485.2 L186.8,485.2 L186.8,482.8 L187.8,482.8 L187.8,481.9 L188.8,481.9 L188.8,481.9 L189.8,481.9 L189.8,479.5 L190.8,479.5 L190.8,480.0 L191.8,480.0 L191.8,481.5 L192.8,481.5 L192.8,480.4 L193.8,480.4 L193.8,482.2 L194.8,482.2 L194.8,480.9 L195.8,480.9 L195.8,478.7 L196.8,478.7 L196.8,481.2 L197.8,481.2 L197.8,481.1 L198.8,481.1 L198.8,481.5 L199.8,481.5 L199.8,484.0 L200.8,484.0 L200.8,485.6 L201.8,485.6 L201.8,487.8 L202.8,487.8 L202.8,485.6 L203.8,485.6 L203.8,481.2 L204.8,481.2 L204.8,481.4 L205.8,481.4 L205.8,481.9 L206.8,481.9 L206.8,481.0 L207.8,481.0 L207.8,481.1 L208.8,481.1 L208.8,481.3 L209.8,481.3 L209.8,481.2 L210.8,481.2 L210.8,480.9 L211.8,480.9 L211.8,482.4 L212.8,482.4 L212.8,483.8 L213.8,483.8 L213.8,485.5 L214.8,485.5 L214.8,485.1 L215.8,485.1 L215.8,484.8 L216.8,484.8 L216.8,484.2 L217.8,484.2 L217.8,482.8 L218.8,482.8 L218.8,482.9 L219.8,482.9 L219.8,484.2 L220.8,484.2 L220.8,484.4 L221.8,484.4 L221.8,483.8 L222.8,483.8 L222.8,484.3 L223.8,484.3 L223.8,484.7 L224.8,484.7 L224.8,482.4 L225.8,482.4 L225.8,482.5 L226.8,482.5 L226.8,483.7 L227.8,483.7 L227.8,484.4 L228.8,484.4 L228.8,485.3 L229.8,485.3 L229.8,488.3 L230.8,488.3 L230.8,490.7 L231.8,490.7 L231.8,491.0 L232.8,491.0 L232.8,490.2 L233.8,490.2 L233.8,489.1 L234.8,489.1 L234.8,488.2 L235.8,488.2 L235.8,489.4 L236.8,489.4 L236.8,492.5 L237.8,492.5 L237.8,491.1 L238.8,491.1 L238.8,488.1 L239.8,488.1 L239.8,483.2 L240.8,483.2 L240.8,484.1 L241.8,484.1 L241.8,485.5 L242.8,485.5 L242.8,488.9 L243.8,488.9 L243.8,488.2 L244.8,488.2 L244.8,487.6 L245.8,487.6 L245.8,485.8 L246.8,485.8 L246.8,487.1 L247.8,487.1 L247.8,485.9 L248.8,485.9 L248.8,487.3 L249.8,487.3 L249.8,489.6 L250.8,489.6 L250.8,491.0 L251.8,491.0 L251.8,493.4 L252.8,493.4 L252.8,495.5 L253.8,495.5 L253.8,496.8 L254.8,496.8 L254.8,493.9 L255.8,493.9 L255.8,489.7 L256.8,489.7 L256.8,489.5 L257.8,489.5 L257.8,489.2 L258.8,489.2 L258.8,489.4 L259.8,489.4 L259.8,490.6 L260.8,490.6 L260.8,491.8 L261.8,491.8 L261.8,493.0 L262.8,493.0 L262.8,495.5 L263.8,495.5 L263.8,496.2 L264.8,496.2 L264.8,493.4 L265.8,493.4 L265.8,491.7 L266.8,491.7 L266.8,488.6 L267.8,488.6 L267.8,486.4 L268.8,486.4 L268.8,485.1 L269.8,485.1 L269.8,484.9 L270.8,484.9 L270.8,482.4 L271.8,482.4 L271.8,482.4 L272.8,482.4 L272.8,487.6 L273.8,487.6 L273.8,489.3 L274.8,489.3 L274.8,488.6 L275.8,488.6 L275.8,488.0 L276.8,488.0 L276.8,486.0 L277.8,486.0 L277.8,485.6 L278.8,485.6 L278.8,484.1 L279.8,484.1 L279.8,485.2 L280.8,485.2 L280.8,486.0 L281.8,486.0 L281.8,483.8 L282.8,483.8 L282.8,483.1 L283.8,483.1 L283.8,482.3 L284.8,482.3 L284.8,481.2 L285.8,481.2 L285.8,482.7 L286.8,482.7 L286.8,483.1 L287.8,483.1 L287.8,484.4 L288.8,484.4 L288.8,484.5 L289.8,484.5 L289.8,482.2 L290.8,482.2 L290.8,481.3 L291.8,481.3 L291.8,481.7 L292.8,481.7 L292.8,480.6 L293.8,480.6 L293.8,485.4 L294.8,485.4 L294.8,485.6 L295.8,485.6 L295.8,491.5 L296.8,491.5 L296.8,501.6 L297.8,501.6 L297.8,503.6 L298.8,503.6 L298.8,504.1 L299.8,504.1 L299.8,503.9 L300.8,503.9 L300.8,504.1 L301.8,504.1 L301.8,504.1 L302.8,504.1 L302.8,503.8 L303.8,503.8 L303.8,503.8 L304.8,503.8 L304.8,503.3 L305.8,503.3 L305.8,503.4 L306.8,503.4 L306.8,503.7 L307.8,503.7 L307.8,504.1 L308.8,504.1 L308.8,504.3 L309.8,504.3 L309.8,504.4 L310.8,504.4 L310.8,503.9 L311.8,503.9 L311.8,503.5 L312.8,503.5 L312.8,503.6 L313.8,503.6 L313.8,503.2 L314.8,503.2 L314.8,503.4 L315.8,503.4 L315.8,503.3 L316.8,503.3 L316.8,502.9 L317.8,502.9 L317.8,503.5 L318.8,503.5 L318.8,503.8 L319.8,503.8 L319.8,504.0 L320.8,504.0 L320.8,504.5 L321.8,504.5 L321.8,505.1 L322.0,505.1 L322.0,505.1 Z" fill="#808080" stroke="none"/>
<line x1="38.8" y1="505.1" x2="322" y2="505.1" stroke="#5c5c5c" stroke-width="1.0" />
<line x1="38.7" y1="520.2" x2="38.7" y2="570.1" stroke="#8a8a8a" stroke-width="0.9" />
<line x1="35.7" y1="520.2" x2="38.7" y2="520.2" stroke="#8a8a8a" stroke-width="0.9" />
<line x1="36.2" y1="570.1" x2="328" y2="570.1" stroke="#666" stroke-width="1.0" />
<line x1="66.8" y1="570.1" x2="66.8" y2="573.3000000000001" stroke="#555" stroke-width="1.0" />
<line x1="130.4" y1="570.1" x2="130.4" y2="573.3000000000001" stroke="#555" stroke-width="1.0" />
<line x1="194.4" y1="570.1" x2="194.4" y2="573.3000000000001" stroke="#555" stroke-width="1.0" />
<line x1="258.4" y1="570.1" x2="258.4" y2="573.3000000000001" stroke="#555" stroke-width="1.0" />
<line x1="321.7" y1="570.1" x2="321.7" y2="573.3000000000001" stroke="#555" stroke-width="1.0" />
<text x="31" y="524.3000000000001" font-size="11.15" text-anchor="end" fill="#000" style="" >60</text>
<text x="31" y="574.2" font-size="11.15" text-anchor="end" fill="#000" style="" >0</text>
<path d="M38.8,569.9 L38.8,568.9 L39.8,568.9 L39.8,568.8 L40.8,568.8 L40.8,568.8 L41.8,568.8 L41.8,568.5 L42.8,568.5 L42.8,569.0 L43.8,569.0 L43.8,568.6 L44.8,568.6 L44.8,568.9 L45.8,568.9 L45.8,568.1 L46.8,568.1 L46.8,569.3 L47.8,569.3 L47.8,569.0 L48.8,569.0 L48.8,569.6 L49.8,569.6 L49.8,569.1 L50.8,569.1 L50.8,569.4 L51.8,569.4 L51.8,569.2 L52.8,569.2 L52.8,568.8 L53.8,568.8 L53.8,569.0 L54.8,569.0 L54.8,569.2 L55.8,569.2 L55.8,569.2 L56.8,569.2 L56.8,569.0 L57.8,569.0 L57.8,569.0 L58.8,569.0 L58.8,569.2 L59.8,569.2 L59.8,569.0 L60.8,569.0 L60.8,568.6 L61.8,568.6 L61.8,568.4 L62.8,568.4 L62.8,569.0 L63.8,569.0 L63.8,568.5 L64.8,568.5 L64.8,568.6 L65.8,568.6 L65.8,568.8 L66.8,568.8 L66.8,568.8 L67.8,568.8 L67.8,568.2 L68.8,568.2 L68.8,567.7 L69.8,567.7 L69.8,567.3 L70.8,567.3 L70.8,566.7 L71.8,566.7 L71.8,566.4 L72.8,566.4 L72.8,566.1 L73.8,566.1 L73.8,566.4 L74.8,566.4 L74.8,566.6 L75.8,566.6 L75.8,567.0 L76.8,567.0 L76.8,567.3 L77.8,567.3 L77.8,567.0 L78.8,567.0 L78.8,566.7 L79.8,566.7 L79.8,566.5 L80.8,566.5 L80.8,565.7 L81.8,565.7 L81.8,564.9 L82.8,564.9 L82.8,564.2 L83.8,564.2 L83.8,564.9 L84.8,564.9 L84.8,566.4 L85.8,566.4 L85.8,568.1 L86.8,568.1 L86.8,568.2 L87.8,568.2 L87.8,568.7 L88.8,568.7 L88.8,568.9 L89.8,568.9 L89.8,568.0 L90.8,568.0 L90.8,568.1 L91.8,568.1 L91.8,568.3 L92.8,568.3 L92.8,567.7 L93.8,567.7 L93.8,568.3 L94.8,568.3 L94.8,567.9 L95.8,567.9 L95.8,568.3 L96.8,568.3 L96.8,567.9 L97.8,567.9 L97.8,568.4 L98.8,568.4 L98.8,568.0 L99.8,568.0 L99.8,568.5 L100.8,568.5 L100.8,568.1 L101.8,568.1 L101.8,568.8 L102.8,568.8 L102.8,568.0 L103.8,568.0 L103.8,568.5 L104.8,568.5 L104.8,568.9 L105.8,568.9 L105.8,569.1 L106.8,569.1 L106.8,568.5 L107.8,568.5 L107.8,568.3 L108.8,568.3 L108.8,568.4 L109.8,568.4 L109.8,568.7 L110.8,568.7 L110.8,568.5 L111.8,568.5 L111.8,568.3 L112.8,568.3 L112.8,568.2 L113.8,568.2 L113.8,568.5 L114.8,568.5 L114.8,568.3 L115.8,568.3 L115.8,568.2 L116.8,568.2 L116.8,568.4 L117.8,568.4 L117.8,568.4 L118.8,568.4 L118.8,568.1 L119.8,568.1 L119.8,568.3 L120.8,568.3 L120.8,568.1 L121.8,568.1 L121.8,568.5 L122.8,568.5 L122.8,567.9 L123.8,567.9 L123.8,567.8 L124.8,567.8 L124.8,568.4 L125.8,568.4 L125.8,567.7 L126.8,567.7 L126.8,567.8 L127.8,567.8 L127.8,567.9 L128.8,567.9 L128.8,567.4 L129.8,567.4 L129.8,567.3 L130.8,567.3 L130.8,567.5 L131.8,567.5 L131.8,568.1 L132.8,568.1 L132.8,567.8 L133.8,567.8 L133.8,568.3 L134.8,568.3 L134.8,568.3 L135.8,568.3 L135.8,568.6 L136.8,568.6 L136.8,568.1 L137.8,568.1 L137.8,568.2 L138.8,568.2 L138.8,567.4 L139.8,567.4 L139.8,567.4 L140.8,567.4 L140.8,566.8 L141.8,566.8 L141.8,566.4 L142.8,566.4 L142.8,565.9 L143.8,565.9 L143.8,565.3 L144.8,565.3 L144.8,565.6 L145.8,565.6 L145.8,565.1 L146.8,565.1 L146.8,565.0 L147.8,565.0 L147.8,565.4 L148.8,565.4 L148.8,565.4 L149.8,565.4 L149.8,566.1 L150.8,566.1 L150.8,566.5 L151.8,566.5 L151.8,567.6 L152.8,567.6 L152.8,567.0 L153.8,567.0 L153.8,566.2 L154.8,566.2 L154.8,565.0 L155.8,565.0 L155.8,564.2 L156.8,564.2 L156.8,562.9 L157.8,562.9 L157.8,560.8 L158.8,560.8 L158.8,560.9 L159.8,560.9 L159.8,559.2 L160.8,559.2 L160.8,558.8 L161.8,558.8 L161.8,557.7 L162.8,557.7 L162.8,557.0 L163.8,557.0 L163.8,556.9 L164.8,556.9 L164.8,557.1 L165.8,557.1 L165.8,557.6 L166.8,557.6 L166.8,554.7 L167.8,554.7 L167.8,549.8 L168.8,549.8 L168.8,547.3 L169.8,547.3 L169.8,545.5 L170.8,545.5 L170.8,547.7 L171.8,547.7 L171.8,550.6 L172.8,550.6 L172.8,555.0 L173.8,555.0 L173.8,554.2 L174.8,554.2 L174.8,552.2 L175.8,552.2 L175.8,550.3 L176.8,550.3 L176.8,554.5 L177.8,554.5 L177.8,551.8 L178.8,551.8 L178.8,551.6 L179.8,551.6 L179.8,549.9 L180.8,549.9 L180.8,552.8 L181.8,552.8 L181.8,556.0 L182.8,556.0 L182.8,554.4 L183.8,554.4 L183.8,552.7 L184.8,552.7 L184.8,552.6 L185.8,552.6 L185.8,550.6 L186.8,550.6 L186.8,548.7 L187.8,548.7 L187.8,548.5 L188.8,548.5 L188.8,549.0 L189.8,549.0 L189.8,548.5 L190.8,548.5 L190.8,547.2 L191.8,547.2 L191.8,546.8 L192.8,546.8 L192.8,546.0 L193.8,546.0 L193.8,548.8 L194.8,548.8 L194.8,553.5 L195.8,553.5 L195.8,551.5 L196.8,551.5 L196.8,549.3 L197.8,549.3 L197.8,545.9 L198.8,545.9 L198.8,545.4 L199.8,545.4 L199.8,546.7 L200.8,546.7 L200.8,551.6 L201.8,551.6 L201.8,553.6 L202.8,553.6 L202.8,551.1 L203.8,551.1 L203.8,550.5 L204.8,550.5 L204.8,547.7 L205.8,547.7 L205.8,548.1 L206.8,548.1 L206.8,549.9 L207.8,549.9 L207.8,548.6 L208.8,548.6 L208.8,547.3 L209.8,547.3 L209.8,547.4 L210.8,547.4 L210.8,548.7 L211.8,548.7 L211.8,550.6 L212.8,550.6 L212.8,551.5 L213.8,551.5 L213.8,550.5 L214.8,550.5 L214.8,548.9 L215.8,548.9 L215.8,549.5 L216.8,549.5 L216.8,549.7 L217.8,549.7 L217.8,550.6 L218.8,550.6 L218.8,553.9 L219.8,553.9 L219.8,559.2 L220.8,559.2 L220.8,559.9 L221.8,559.9 L221.8,558.2 L222.8,558.2 L222.8,558.4 L223.8,558.4 L223.8,560.3 L224.8,560.3 L224.8,561.5 L225.8,561.5 L225.8,560.5 L226.8,560.5 L226.8,559.2 L227.8,559.2 L227.8,556.9 L228.8,556.9 L228.8,554.3 L229.8,554.3 L229.8,549.9 L230.8,549.9 L230.8,547.5 L231.8,547.5 L231.8,550.0 L232.8,550.0 L232.8,554.0 L233.8,554.0 L233.8,558.1 L234.8,558.1 L234.8,558.9 L235.8,558.9 L235.8,559.8 L236.8,559.8 L236.8,558.5 L237.8,558.5 L237.8,557.7 L238.8,557.7 L238.8,557.2 L239.8,557.2 L239.8,559.2 L240.8,559.2 L240.8,561.2 L241.8,561.2 L241.8,562.0 L242.8,562.0 L242.8,562.0 L243.8,562.0 L243.8,561.3 L244.8,561.3 L244.8,560.4 L245.8,560.4 L245.8,559.5 L246.8,559.5 L246.8,558.0 L247.8,558.0 L247.8,557.7 L248.8,557.7 L248.8,556.7 L249.8,556.7 L249.8,557.1 L250.8,557.1 L250.8,559.6 L251.8,559.6 L251.8,560.8 L252.8,560.8 L252.8,560.3 L253.8,560.3 L253.8,559.2 L254.8,559.2 L254.8,558.9 L255.8,558.9 L255.8,557.6 L256.8,557.6 L256.8,556.8 L257.8,556.8 L257.8,555.4 L258.8,555.4 L258.8,555.4 L259.8,555.4 L259.8,558.3 L260.8,558.3 L260.8,558.9 L261.8,558.9 L261.8,558.5 L262.8,558.5 L262.8,560.7 L263.8,560.7 L263.8,563.2 L264.8,563.2 L264.8,562.7 L265.8,562.7 L265.8,560.8 L266.8,560.8 L266.8,563.2 L267.8,563.2 L267.8,566.4 L268.8,566.4 L268.8,566.5 L269.8,566.5 L269.8,565.3 L270.8,565.3 L270.8,564.0 L271.8,564.0 L271.8,563.0 L272.8,563.0 L272.8,563.9 L273.8,563.9 L273.8,564.1 L274.8,564.1 L274.8,565.0 L275.8,565.0 L275.8,565.3 L276.8,565.3 L276.8,566.2 L277.8,566.2 L277.8,567.3 L278.8,567.3 L278.8,567.5 L279.8,567.5 L279.8,565.9 L280.8,565.9 L280.8,565.1 L281.8,565.1 L281.8,565.1 L282.8,565.1 L282.8,566.2 L283.8,566.2 L283.8,567.0 L284.8,567.0 L284.8,568.2 L285.8,568.2 L285.8,567.4 L286.8,567.4 L286.8,567.2 L287.8,567.2 L287.8,566.8 L288.8,566.8 L288.8,566.3 L289.8,566.3 L289.8,565.5 L290.8,565.5 L290.8,565.4 L291.8,565.4 L291.8,565.2 L292.8,565.2 L292.8,566.6 L293.8,566.6 L293.8,567.6 L294.8,567.6 L294.8,568.5 L295.8,568.5 L295.8,569.6 L296.8,569.6 L296.8,569.2 L297.8,569.2 L297.8,569.3 L298.8,569.3 L298.8,569.1 L299.8,569.1 L299.8,569.2 L300.8,569.2 L300.8,569.4 L301.8,569.4 L301.8,569.0 L302.8,569.0 L302.8,568.5 L303.8,568.5 L303.8,569.3 L304.8,569.3 L304.8,569.1 L305.8,569.1 L305.8,568.5 L306.8,568.5 L306.8,569.3 L307.8,569.3 L307.8,569.2 L308.8,569.2 L308.8,568.8 L309.8,568.8 L309.8,568.8 L310.8,568.8 L310.8,568.7 L311.8,568.7 L311.8,568.7 L312.8,568.7 L312.8,568.8 L313.8,568.8 L313.8,568.5 L314.8,568.5 L314.8,568.4 L315.8,568.4 L315.8,568.6 L316.8,568.6 L316.8,569.2 L317.8,569.2 L317.8,568.7 L318.8,568.7 L318.8,568.6 L319.8,568.6 L319.8,569.1 L320.8,569.1 L320.8,569.9 L321.0,569.9 L321.0,569.9 Z" fill="#b066f6" stroke="none"/>
<line x1="38.8" y1="569.9" x2="321" y2="569.9" stroke="#5d2d8e" stroke-width="1.0" />
<line x1="38.7" y1="586.1" x2="38.7" y2="635.5" stroke="#8a8a8a" stroke-width="0.9" />
<line x1="35.7" y1="586.1" x2="38.7" y2="586.1" stroke="#8a8a8a" stroke-width="0.9" />
<line x1="36.2" y1="635.5" x2="328" y2="635.5" stroke="#666" stroke-width="1.0" />
<line x1="66.8" y1="635.5" x2="66.8" y2="638.7" stroke="#555" stroke-width="1.0" />
<line x1="130.4" y1="635.5" x2="130.4" y2="638.7" stroke="#555" stroke-width="1.0" />
<line x1="194.4" y1="635.5" x2="194.4" y2="638.7" stroke="#555" stroke-width="1.0" />
<line x1="258.4" y1="635.5" x2="258.4" y2="638.7" stroke="#555" stroke-width="1.0" />
<line x1="321.7" y1="635.5" x2="321.7" y2="638.7" stroke="#555" stroke-width="1.0" />
<text x="31" y="590.2" font-size="11.15" text-anchor="end" fill="#000" style="" >60</text>
<text x="31" y="639.6" font-size="11.15" text-anchor="end" fill="#000" style="" >0</text>
<path d="M38.8,635.3 L38.8,634.8 L39.8,634.8 L39.8,634.5 L40.8,634.5 L40.8,634.6 L41.8,634.6 L41.8,633.3 L42.8,633.3 L42.8,634.2 L43.8,634.2 L43.8,633.8 L44.8,633.8 L44.8,633.9 L45.8,633.9 L45.8,633.8 L46.8,633.8 L46.8,634.2 L47.8,634.2 L47.8,633.6 L48.8,633.6 L48.8,634.4 L49.8,634.4 L49.8,634.1 L50.8,634.1 L50.8,633.7 L51.8,633.7 L51.8,633.6 L52.8,633.6 L52.8,633.2 L53.8,633.2 L53.8,633.2 L54.8,633.2 L54.8,633.1 L55.8,633.1 L55.8,633.6 L56.8,633.6 L56.8,633.4 L57.8,633.4 L57.8,633.9 L58.8,633.9 L58.8,633.4 L59.8,633.4 L59.8,633.7 L60.8,633.7 L60.8,634.1 L61.8,634.1 L61.8,633.7 L62.8,633.7 L62.8,623.5 L63.8,623.5 L63.8,611.4 L64.8,611.4 L64.8,608.0 L65.8,608.0 L65.8,606.2 L66.8,606.2 L66.8,607.5 L67.8,607.5 L67.8,606.9 L68.8,606.9 L68.8,608.1 L69.8,608.1 L69.8,612.1 L70.8,612.1 L70.8,611.5 L71.8,611.5 L71.8,610.3 L72.8,610.3 L72.8,612.3 L73.8,612.3 L73.8,615.7 L74.8,615.7 L74.8,614.8 L75.8,614.8 L75.8,615.2 L76.8,615.2 L76.8,616.8 L77.8,616.8 L77.8,618.0 L78.8,618.0 L78.8,618.2 L79.8,618.2 L79.8,616.5 L80.8,616.5 L80.8,614.9 L81.8,614.9 L81.8,613.7 L82.8,613.7 L82.8,617.2 L83.8,617.2 L83.8,621.0 L84.8,621.0 L84.8,622.9 L85.8,622.9 L85.8,618.6 L86.8,618.6 L86.8,615.0 L87.8,615.0 L87.8,613.0 L88.8,613.0 L88.8,615.4 L89.8,615.4 L89.8,617.3 L90.8,617.3 L90.8,616.8 L91.8,616.8 L91.8,615.8 L92.8,615.8 L92.8,613.4 L93.8,613.4 L93.8,615.1 L94.8,615.1 L94.8,620.0 L95.8,620.0 L95.8,619.7 L96.8,619.7 L96.8,616.6 L97.8,616.6 L97.8,615.7 L98.8,615.7 L98.8,620.1 L99.8,620.1 L99.8,621.9 L100.8,621.9 L100.8,618.9 L101.8,618.9 L101.8,617.0 L102.8,617.0 L102.8,615.2 L103.8,615.2 L103.8,616.0 L104.8,616.0 L104.8,616.5 L105.8,616.5 L105.8,614.3 L106.8,614.3 L106.8,613.7 L107.8,613.7 L107.8,614.7 L108.8,614.7 L108.8,614.7 L109.8,614.7 L109.8,612.9 L110.8,612.9 L110.8,611.9 L111.8,611.9 L111.8,614.5 L112.8,614.5 L112.8,616.9 L113.8,616.9 L113.8,614.6 L114.8,614.6 L114.8,609.6 L115.8,609.6 L115.8,606.5 L116.8,606.5 L116.8,606.2 L117.8,606.2 L117.8,605.7 L118.8,605.7 L118.8,610.0 L119.8,610.0 L119.8,611.4 L120.8,611.4 L120.8,612.8 L121.8,612.8 L121.8,611.1 L122.8,611.1 L122.8,610.8 L123.8,610.8 L123.8,610.5 L124.8,610.5 L124.8,613.9 L125.8,613.9 L125.8,614.8 L126.8,614.8 L126.8,615.5 L127.8,615.5 L127.8,615.6 L128.8,615.6 L128.8,615.3 L129.8,615.3 L129.8,609.7 L130.8,609.7 L130.8,606.5 L131.8,606.5 L131.8,604.1 L132.8,604.1 L132.8,606.5 L133.8,606.5 L133.8,609.2 L134.8,609.2 L134.8,610.4 L135.8,610.4 L135.8,609.3 L136.8,609.3 L136.8,607.2 L137.8,607.2 L137.8,608.1 L138.8,608.1 L138.8,608.4 L139.8,608.4 L139.8,608.9 L140.8,608.9 L140.8,607.6 L141.8,607.6 L141.8,604.7 L142.8,604.7 L142.8,603.6 L143.8,603.6 L143.8,605.5 L144.8,605.5 L144.8,609.4 L145.8,609.4 L145.8,614.7 L146.8,614.7 L146.8,613.5 L147.8,613.5 L147.8,610.6 L148.8,610.6 L148.8,607.1 L149.8,607.1 L149.8,608.8 L150.8,608.8 L150.8,610.8 L151.8,610.8 L151.8,615.2 L152.8,615.2 L152.8,616.0 L153.8,616.0 L153.8,618.8 L154.8,618.8 L154.8,617.9 L155.8,617.9 L155.8,614.1 L156.8,614.1 L156.8,611.0 L157.8,611.0 L157.8,608.9 L158.8,608.9 L158.8,608.9 L159.8,608.9 L159.8,607.9 L160.8,607.9 L160.8,610.8 L161.8,610.8 L161.8,610.9 L162.8,610.9 L162.8,615.8 L163.8,615.8 L163.8,615.1 L164.8,615.1 L164.8,612.9 L165.8,612.9 L165.8,607.5 L166.8,607.5 L166.8,609.6 L167.8,609.6 L167.8,608.4 L168.8,608.4 L168.8,605.0 L169.8,605.0 L169.8,601.1 L170.8,601.1 L170.8,603.0 L171.8,603.0 L171.8,613.3 L172.8,613.3 L172.8,614.7 L173.8,614.7 L173.8,613.8 L174.8,613.8 L174.8,611.3 L175.8,611.3 L175.8,610.6 L176.8,610.6 L176.8,613.7 L177.8,613.7 L177.8,615.4 L178.8,615.4 L178.8,611.4 L179.8,611.4 L179.8,607.9 L180.8,607.9 L180.8,605.3 L181.8,605.3 L181.8,606.2 L182.8,606.2 L182.8,607.8 L183.8,607.8 L183.8,610.6 L184.8,610.6 L184.8,613.0 L185.8,613.0 L185.8,613.8 L186.8,613.8 L186.8,607.5 L187.8,607.5 L187.8,602.6 L188.8,602.6 L188.8,602.6 L189.8,602.6 L189.8,606.9 L190.8,606.9 L190.8,609.1 L191.8,609.1 L191.8,613.7 L192.8,613.7 L192.8,615.8 L193.8,615.8 L193.8,613.6 L194.8,613.6 L194.8,609.8 L195.8,609.8 L195.8,606.8 L196.8,606.8 L196.8,607.1 L197.8,607.1 L197.8,608.0 L198.8,608.0 L198.8,607.9 L199.8,607.9 L199.8,610.2 L200.8,610.2 L200.8,617.0 L201.8,617.0 L201.8,614.5 L202.8,614.5 L202.8,611.8 L203.8,611.8 L203.8,611.6 L204.8,611.6 L204.8,611.5 L205.8,611.5 L205.8,611.5 L206.8,611.5 L206.8,612.4 L207.8,612.4 L207.8,610.7 L208.8,610.7 L208.8,610.5 L209.8,610.5 L209.8,615.7 L210.8,615.7 L210.8,618.1 L211.8,618.1 L211.8,614.6 L212.8,614.6 L212.8,611.6 L213.8,611.6 L213.8,612.1 L214.8,612.1 L214.8,612.1 L215.8,612.1 L215.8,613.7 L216.8,613.7 L216.8,610.9 L217.8,610.9 L217.8,609.0 L218.8,609.0 L218.8,606.2 L219.8,606.2 L219.8,606.1 L220.8,606.1 L220.8,607.6 L221.8,607.6 L221.8,608.5 L222.8,608.5 L222.8,614.6 L223.8,614.6 L223.8,616.2 L224.8,616.2 L224.8,620.3 L225.8,620.3 L225.8,619.7 L226.8,619.7 L226.8,617.1 L227.8,617.1 L227.8,615.1 L228.8,615.1 L228.8,615.1 L229.8,615.1 L229.8,615.0 L230.8,615.0 L230.8,614.6 L231.8,614.6 L231.8,613.2 L232.8,613.2 L232.8,611.8 L233.8,611.8 L233.8,611.0 L234.8,611.0 L234.8,613.0 L235.8,613.0 L235.8,620.6 L236.8,620.6 L236.8,621.1 L237.8,621.1 L237.8,617.5 L238.8,617.5 L238.8,613.2 L239.8,613.2 L239.8,610.0 L240.8,610.0 L240.8,611.1 L241.8,611.1 L241.8,614.0 L242.8,614.0 L242.8,614.0 L243.8,614.0 L243.8,612.1 L244.8,612.1 L244.8,613.0 L245.8,613.0 L245.8,612.0 L246.8,612.0 L246.8,613.6 L247.8,613.6 L247.8,613.2 L248.8,613.2 L248.8,616.4 L249.8,616.4 L249.8,618.9 L250.8,618.9 L250.8,620.3 L251.8,620.3 L251.8,622.9 L252.8,622.9 L252.8,625.9 L253.8,625.9 L253.8,627.0 L254.8,627.0 L254.8,622.9 L255.8,622.9 L255.8,618.3 L256.8,618.3 L256.8,614.4 L257.8,614.4 L257.8,612.5 L258.8,612.5 L258.8,612.0 L259.8,612.0 L259.8,613.7 L260.8,613.7 L260.8,617.7 L261.8,617.7 L261.8,616.1 L262.8,616.1 L262.8,616.3 L263.8,616.3 L263.8,614.0 L264.8,614.0 L264.8,614.3 L265.8,614.3 L265.8,612.6 L266.8,612.6 L266.8,611.4 L267.8,611.4 L267.8,609.8 L268.8,609.8 L268.8,612.1 L269.8,612.1 L269.8,614.3 L270.8,614.3 L270.8,616.2 L271.8,616.2 L271.8,617.8 L272.8,617.8 L272.8,619.5 L273.8,619.5 L273.8,619.6 L274.8,619.6 L274.8,622.3 L275.8,622.3 L275.8,618.7 L276.8,618.7 L276.8,615.9 L277.8,615.9 L277.8,612.0 L278.8,612.0 L278.8,612.8 L279.8,612.8 L279.8,611.3 L280.8,611.3 L280.8,613.8 L281.8,613.8 L281.8,614.3 L282.8,614.3 L282.8,613.1 L283.8,613.1 L283.8,612.2 L284.8,612.2 L284.8,607.8 L285.8,607.8 L285.8,612.6 L286.8,612.6 L286.8,617.7 L287.8,617.7 L287.8,614.1 L288.8,614.1 L288.8,613.4 L289.8,613.4 L289.8,613.4 L290.8,613.4 L290.8,616.6 L291.8,616.6 L291.8,616.9 L292.8,616.9 L292.8,615.9 L293.8,615.9 L293.8,614.7 L294.8,614.7 L294.8,617.7 L295.8,617.7 L295.8,624.8 L296.8,624.8 L296.8,631.4 L297.8,631.4 L297.8,632.9 L298.8,632.9 L298.8,633.8 L299.8,633.8 L299.8,634.0 L300.8,634.0 L300.8,633.9 L301.8,633.9 L301.8,633.9 L302.8,633.9 L302.8,634.3 L303.8,634.3 L303.8,633.8 L304.8,633.8 L304.8,633.5 L305.8,633.5 L305.8,633.5 L306.8,633.5 L306.8,634.3 L307.8,634.3 L307.8,634.0 L308.8,634.0 L308.8,633.9 L309.8,633.9 L309.8,633.6 L310.8,633.6 L310.8,633.6 L311.8,633.6 L311.8,634.1 L312.8,634.1 L312.8,634.0 L313.8,634.0 L313.8,634.3 L314.8,634.3 L314.8,633.9 L315.8,633.9 L315.8,634.2 L316.8,634.2 L316.8,634.2 L317.8,634.2 L317.8,633.8 L318.8,633.8 L318.8,634.1 L319.8,634.1 L319.8,634.7 L320.8,634.7 L320.8,635.0 L321.0,635.0 L321.0,635.3 Z" fill="#6426b2" stroke="none"/>
<line x1="38.8" y1="635.3" x2="321" y2="635.3" stroke="#3b1670" stroke-width="1.0" />
<line x1="38.7" y1="656.8" x2="38.7" y2="706.6" stroke="#8a8a8a" stroke-width="0.9" />
<line x1="35.7" y1="656.8" x2="38.7" y2="656.8" stroke="#8a8a8a" stroke-width="0.9" />
<line x1="36.2" y1="706.6" x2="328" y2="706.6" stroke="#666" stroke-width="1.0" />
<line x1="66.8" y1="706.6" x2="66.8" y2="709.8000000000001" stroke="#555" stroke-width="1.0" />
<line x1="130.4" y1="706.6" x2="130.4" y2="709.8000000000001" stroke="#555" stroke-width="1.0" />
<line x1="194.4" y1="706.6" x2="194.4" y2="709.8000000000001" stroke="#555" stroke-width="1.0" />
<line x1="258.4" y1="706.6" x2="258.4" y2="709.8000000000001" stroke="#555" stroke-width="1.0" />
<line x1="321.7" y1="706.6" x2="321.7" y2="709.8000000000001" stroke="#555" stroke-width="1.0" />
<text x="31" y="660.9" font-size="11.15" text-anchor="end" fill="#000" style="" >60</text>
<text x="31" y="710.7" font-size="11.15" text-anchor="end" fill="#000" style="" >0</text>
<path d="M38.8,706.4 L38.8,705.7 L39.8,705.7 L39.8,705.1 L40.8,705.1 L40.8,705.4 L41.8,705.4 L41.8,705.8 L42.8,705.8 L42.8,705.5 L43.8,705.5 L43.8,704.8 L44.8,704.8 L44.8,704.6 L45.8,704.6 L45.8,704.3 L46.8,704.3 L46.8,704.5 L47.8,704.5 L47.8,704.8 L48.8,704.8 L48.8,704.9 L49.8,704.9 L49.8,705.3 L50.8,705.3 L50.8,704.7 L51.8,704.7 L51.8,704.1 L52.8,704.1 L52.8,704.4 L53.8,704.4 L53.8,704.3 L54.8,704.3 L54.8,705.0 L55.8,705.0 L55.8,705.3 L56.8,705.3 L56.8,705.2 L57.8,705.2 L57.8,704.6 L58.8,704.6 L58.8,704.2 L59.8,704.2 L59.8,704.5 L60.8,704.5 L60.8,704.7 L61.8,704.7 L61.8,703.8 L62.8,703.8 L62.8,691.5 L63.8,691.5 L63.8,680.2 L64.8,680.2 L64.8,677.1 L65.8,677.1 L65.8,680.0 L66.8,680.0 L66.8,678.8 L67.8,678.8 L67.8,675.8 L68.8,675.8 L68.8,679.5 L69.8,679.5 L69.8,679.7 L70.8,679.7 L70.8,680.1 L71.8,680.1 L71.8,680.5 L72.8,680.5 L72.8,678.2 L73.8,678.2 L73.8,675.3 L74.8,675.3 L74.8,674.3 L75.8,674.3 L75.8,679.0 L76.8,679.0 L76.8,680.4 L77.8,680.4 L77.8,679.9 L78.8,679.9 L78.8,676.9 L79.8,676.9 L79.8,683.4 L80.8,683.4 L80.8,687.6 L81.8,687.6 L81.8,689.6 L82.8,689.6 L82.8,690.3 L83.8,690.3 L83.8,692.0 L84.8,692.0 L84.8,688.6 L85.8,688.6 L85.8,684.6 L86.8,684.6 L86.8,682.1 L87.8,682.1 L87.8,680.1 L88.8,680.1 L88.8,679.1 L89.8,679.1 L89.8,675.0 L90.8,675.0 L90.8,671.5 L91.8,671.5 L91.8,669.8 L92.8,669.8 L92.8,668.7 L93.8,668.7 L93.8,675.2 L94.8,675.2 L94.8,669.6 L95.8,669.6 L95.8,668.2 L96.8,668.2 L96.8,671.7 L97.8,671.7 L97.8,674.1 L98.8,674.1 L98.8,675.4 L99.8,675.4 L99.8,675.1 L100.8,675.1 L100.8,678.6 L101.8,678.6 L101.8,679.9 L102.8,679.9 L102.8,680.2 L103.8,680.2 L103.8,681.8 L104.8,681.8 L104.8,679.4 L105.8,679.4 L105.8,680.4 L106.8,680.4 L106.8,680.0 L107.8,680.0 L107.8,683.1 L108.8,683.1 L108.8,686.9 L109.8,686.9 L109.8,686.0 L110.8,686.0 L110.8,684.7 L111.8,684.7 L111.8,682.6 L112.8,682.6 L112.8,681.1 L113.8,681.1 L113.8,682.2 L114.8,682.2 L114.8,682.9 L115.8,682.9 L115.8,684.9 L116.8,684.9 L116.8,686.2 L117.8,686.2 L117.8,685.1 L118.8,685.1 L118.8,684.4 L119.8,684.4 L119.8,679.8 L120.8,679.8 L120.8,677.2 L121.8,677.2 L121.8,675.5 L122.8,675.5 L122.8,679.6 L123.8,679.6 L123.8,682.0 L124.8,682.0 L124.8,685.0 L125.8,685.0 L125.8,684.2 L126.8,684.2 L126.8,684.7 L127.8,684.7 L127.8,685.3 L128.8,685.3 L128.8,688.9 L129.8,688.9 L129.8,688.1 L130.8,688.1 L130.8,688.3 L131.8,688.3 L131.8,686.1 L132.8,686.1 L132.8,683.8 L133.8,683.8 L133.8,679.4 L134.8,679.4 L134.8,679.0 L135.8,679.0 L135.8,676.6 L136.8,676.6 L136.8,674.2 L137.8,674.2 L137.8,674.7 L138.8,674.7 L138.8,677.4 L139.8,677.4 L139.8,678.3 L140.8,678.3 L140.8,673.5 L141.8,673.5 L141.8,676.4 L142.8,676.4 L142.8,677.8 L143.8,677.8 L143.8,678.9 L144.8,678.9 L144.8,678.2 L145.8,678.2 L145.8,678.1 L146.8,678.1 L146.8,677.9 L147.8,677.9 L147.8,680.7 L148.8,680.7 L148.8,676.0 L149.8,676.0 L149.8,676.1 L150.8,676.1 L150.8,677.6 L151.8,677.6 L151.8,681.1 L152.8,681.1 L152.8,684.1 L153.8,684.1 L153.8,688.8 L154.8,688.8 L154.8,692.3 L155.8,692.3 L155.8,684.7 L156.8,684.7 L156.8,679.4 L157.8,679.4 L157.8,677.8 L158.8,677.8 L158.8,673.5 L159.8,673.5 L159.8,671.6 L160.8,671.6 L160.8,671.6 L161.8,671.6 L161.8,673.5 L162.8,673.5 L162.8,676.0 L163.8,676.0 L163.8,676.2 L164.8,676.2 L164.8,674.5 L165.8,674.5 L165.8,673.5 L166.8,673.5 L166.8,673.3 L167.8,673.3 L167.8,676.2 L168.8,676.2 L168.8,677.7 L169.8,677.7 L169.8,678.8 L170.8,678.8 L170.8,682.1 L171.8,682.1 L171.8,683.7 L172.8,683.7 L172.8,685.5 L173.8,685.5 L173.8,684.6 L174.8,684.6 L174.8,684.5 L175.8,684.5 L175.8,682.7 L176.8,682.7 L176.8,679.5 L177.8,679.5 L177.8,678.3 L178.8,678.3 L178.8,676.9 L179.8,676.9 L179.8,675.4 L180.8,675.4 L180.8,678.2 L181.8,678.2 L181.8,680.0 L182.8,680.0 L182.8,677.0 L183.8,677.0 L183.8,678.2 L184.8,678.2 L184.8,679.5 L185.8,679.5 L185.8,677.8 L186.8,677.8 L186.8,673.0 L187.8,673.0 L187.8,672.1 L188.8,672.1 L188.8,675.8 L189.8,675.8 L189.8,678.3 L190.8,678.3 L190.8,676.4 L191.8,676.4 L191.8,675.1 L192.8,675.1 L192.8,675.8 L193.8,675.8 L193.8,676.8 L194.8,676.8 L194.8,679.3 L195.8,679.3 L195.8,674.9 L196.8,674.9 L196.8,671.4 L197.8,671.4 L197.8,673.6 L198.8,673.6 L198.8,679.2 L199.8,679.2 L199.8,681.2 L200.8,681.2 L200.8,684.7 L201.8,684.7 L201.8,678.2 L202.8,678.2 L202.8,671.2 L203.8,671.2 L203.8,670.4 L204.8,670.4 L204.8,670.5 L205.8,670.5 L205.8,672.5 L206.8,672.5 L206.8,673.7 L207.8,673.7 L207.8,672.1 L208.8,672.1 L208.8,672.1 L209.8,672.1 L209.8,675.7 L210.8,675.7 L210.8,676.7 L211.8,676.7 L211.8,679.9 L212.8,679.9 L212.8,681.3 L213.8,681.3 L213.8,684.7 L214.8,684.7 L214.8,684.9 L215.8,684.9 L215.8,684.1 L216.8,684.1 L216.8,682.2 L217.8,682.2 L217.8,680.0 L218.8,680.0 L218.8,678.0 L219.8,678.0 L219.8,680.6 L220.8,680.6 L220.8,681.6 L221.8,681.6 L221.8,676.9 L222.8,676.9 L222.8,676.8 L223.8,676.8 L223.8,681.4 L224.8,681.4 L224.8,679.7 L225.8,679.7 L225.8,678.8 L226.8,678.8 L226.8,679.4 L227.8,679.4 L227.8,680.2 L228.8,680.2 L228.8,679.1 L229.8,679.1 L229.8,678.0 L230.8,678.0 L230.8,679.0 L231.8,679.0 L231.8,678.0 L232.8,678.0 L232.8,679.6 L233.8,679.6 L233.8,682.1 L234.8,682.1 L234.8,683.1 L235.8,683.1 L235.8,683.5 L236.8,683.5 L236.8,683.0 L237.8,683.0 L237.8,682.3 L238.8,682.3 L238.8,677.0 L239.8,677.0 L239.8,671.6 L240.8,671.6 L240.8,672.1 L241.8,672.1 L241.8,671.6 L242.8,671.6 L242.8,676.6 L243.8,676.6 L243.8,680.5 L244.8,680.5 L244.8,681.3 L245.8,681.3 L245.8,680.0 L246.8,680.0 L246.8,678.3 L247.8,678.3 L247.8,677.3 L248.8,677.3 L248.8,679.4 L249.8,679.4 L249.8,679.3 L250.8,679.3 L250.8,682.7 L251.8,682.7 L251.8,684.1 L252.8,684.1 L252.8,685.7 L253.8,685.7 L253.8,690.6 L254.8,690.6 L254.8,687.9 L255.8,687.9 L255.8,683.6 L256.8,683.6 L256.8,681.3 L257.8,681.3 L257.8,683.0 L258.8,683.0 L258.8,686.4 L259.8,686.4 L259.8,690.4 L260.8,690.4 L260.8,691.1 L261.8,691.1 L261.8,692.2 L262.8,692.2 L262.8,688.6 L263.8,688.6 L263.8,684.8 L264.8,684.8 L264.8,681.4 L265.8,681.4 L265.8,680.2 L266.8,680.2 L266.8,680.5 L267.8,680.5 L267.8,677.8 L268.8,677.8 L268.8,678.2 L269.8,678.2 L269.8,686.0 L270.8,686.0 L270.8,684.0 L271.8,684.0 L271.8,682.6 L272.8,682.6 L272.8,681.5 L273.8,681.5 L273.8,685.1 L274.8,685.1 L274.8,689.1 L275.8,689.1 L275.8,693.4 L276.8,693.4 L276.8,688.9 L277.8,688.9 L277.8,686.0 L278.8,686.0 L278.8,683.9 L279.8,683.9 L279.8,682.7 L280.8,682.7 L280.8,684.4 L281.8,684.4 L281.8,676.8 L282.8,676.8 L282.8,674.1 L283.8,674.1 L283.8,674.9 L284.8,674.9 L284.8,677.4 L285.8,677.4 L285.8,675.5 L286.8,675.5 L286.8,678.1 L287.8,678.1 L287.8,680.6 L288.8,680.6 L288.8,681.7 L289.8,681.7 L289.8,677.7 L290.8,677.7 L290.8,673.4 L291.8,673.4 L291.8,675.2 L292.8,675.2 L292.8,680.5 L293.8,680.5 L293.8,687.2 L294.8,687.2 L294.8,691.9 L295.8,691.9 L295.8,693.8 L296.8,693.8 L296.8,699.3 L297.8,699.3 L297.8,703.1 L298.8,703.1 L298.8,704.2 L299.8,704.2 L299.8,704.9 L300.8,704.9 L300.8,705.4 L301.8,705.4 L301.8,706.0 L302.8,706.0 L302.8,705.6 L303.8,705.6 L303.8,705.6 L304.8,705.6 L304.8,705.2 L305.8,705.2 L305.8,705.3 L306.8,705.3 L306.8,705.4 L307.8,705.4 L307.8,705.2 L308.8,705.2 L308.8,705.1 L309.8,705.1 L309.8,705.0 L310.8,705.0 L310.8,705.0 L311.8,705.0 L311.8,705.7 L312.8,705.7 L312.8,705.1 L313.8,705.1 L313.8,704.7 L314.8,704.7 L314.8,704.9 L315.8,704.9 L315.8,705.2 L316.8,705.2 L316.8,705.0 L317.8,705.0 L317.8,704.9 L318.8,704.9 L318.8,705.4 L319.8,705.4 L319.8,705.4 L320.8,705.4 L320.8,706.1 L321.7,706.1 L321.7,706.4 Z" fill="#92194f" stroke="none"/>
<line x1="38.8" y1="706.4" x2="321.7" y2="706.4" stroke="#55102e" stroke-width="1.0" />
<text x="43" y="463.2" font-size="11.15" text-anchor="start" fill="#000" style="" >WT</text>
<text x="43" y="528.5" font-size="11.15" text-anchor="start" fill="#000" style="font-style:italic;">raf1<tspan font-size="6.4" dx="0.5" dy="-3.8">R576H</tspan></text>
<text x="43" y="589.8" font-size="11.15" text-anchor="start" fill="#000" style="font-style:italic;">raf1<tspan font-size="6.4" dx="0.5" dy="-3.8">R576H</tspan></text>
<text x="43" y="602.9" font-size="11.15" text-anchor="start" fill="#000" style="font-style:italic;" >raf1-oe</text>
<text x="43" y="654.0" font-size="11.15" text-anchor="start" fill="#000" style="font-style:italic;">raf1<tspan font-size="6.4" dx="0.5" dy="-3.8">R576H</tspan></text>
<text x="43" y="667.0" font-size="11.15" text-anchor="start" fill="#000" style="font-style:italic;">raf1<tspan font-size="6.4" dx="0.5" dy="-3.8">R576H</tspan><tspan dx="0.3" dy="3.8">-oe</tspan></text>
<text x="67.5" y="723.5" font-size="11.15" text-anchor="middle" fill="#000" style="" >20</text>
<text x="130.5" y="723.5" font-size="11.15" text-anchor="middle" fill="#000" style="" >25</text>
<text x="194.5" y="723.5" font-size="11.15" text-anchor="middle" fill="#000" style="" >30</text>
<text x="258.3" y="723.5" font-size="11.15" text-anchor="middle" fill="#000" style="" >35</text>
<text x="321.6" y="723.5" font-size="11.15" text-anchor="middle" fill="#000" style="" >40</text>
<text x="193.5" y="741.5" font-size="11.15" text-anchor="middle" fill="#000">Silent <tspan style="font-style:italic">mat</tspan> region (kb)</text>
<text x="0" y="0" font-size="11.15" text-anchor="middle" fill="#000" style="" transform="translate(9.1,573.6) rotate(-90)">H3K9me3 fold enrichment</text>
<text x="345.5" y="374" font-size="13" text-anchor="start" fill="#000" style="font-weight:bold;" >f</text>
<text x="531.3" y="374.8" font-size="11.15" text-anchor="middle" fill="#000" style="" >Subtelomeric region 2R</text>
<line x1="385.2" y1="412.9" x2="652" y2="412.9" stroke="#000" stroke-width="2.0" />
<path d="M396.3,412.95 L397.7,407.5 L402.6,407.5 L402.6,418.4 L397.7,418.4 Z" fill="#14b468" stroke="#111" stroke-width="0.9"/>
<path d="M404.9,412.95 L408.5,407.5 L420.6,407.5 L420.6,418.4 L408.5,418.4 Z" fill="#14b468" stroke="#111" stroke-width="0.9"/>
<path d="M427.2,407.5 L431.1,407.5 L432.5,412.95 L431.1,418.4 L427.2,418.4 Z" fill="#14b468" stroke="#111" stroke-width="0.9"/>
<path d="M446.3,412.95 L447.3,407.5 L449.5,407.5 L450.5,412.95 L449.5,418.4 L447.3,418.4 Z" fill="#14b468" stroke="#111" stroke-width="0.9"/>
<path d="M464.7,407.5 L466.8,407.5 L468.0,412.95 L466.8,418.4 L464.7,418.4 Z" fill="#14b468" stroke="#111" stroke-width="0.9"/>
<path d="M474.4,412.95 L475.4,407.5 L478.4,407.5 L479.4,412.95 L478.4,418.4 L475.4,418.4 Z" fill="#14b468" stroke="#111" stroke-width="0.9"/>
<path d="M489.3,407.5 L491.9,407.5 L491.9,418.4 L489.3,418.4 Z" fill="#14b468" stroke="#111" stroke-width="0.9"/>
<path d="M495.2,407.5 L497.90000000000003,407.5 L499.1,412.95 L497.90000000000003,418.4 L495.2,418.4 Z" fill="#14b468" stroke="#111" stroke-width="0.9"/>
<path d="M500.7,412.95 L502.09999999999997,407.5 L506.4,407.5 L506.4,418.4 L502.09999999999997,418.4 Z" fill="#14b468" stroke="#111" stroke-width="0.9"/>
<path d="M514.9,412.95 L516.1999999999999,407.5 L519.8,407.5 L519.8,418.4 L516.1999999999999,418.4 Z" fill="#14b468" stroke="#111" stroke-width="0.9"/>
<path d="M522.1,407.5 L525.0,407.5 L525.0,418.4 L522.1,418.4 Z" fill="#14b468" stroke="#111" stroke-width="0.9"/>
<path d="M540.2,407.5 L543.6,407.5 L543.6,418.4 L540.2,418.4 Z" fill="#14b468" stroke="#111" stroke-width="0.9"/>
<path d="M547.0,412.95 L548.2,407.5 L552.5999999999999,407.5 L553.8,412.95 L552.5999999999999,418.4 L548.2,418.4 Z" fill="#14b468" stroke="#111" stroke-width="0.9"/>
<path d="M554.9,407.5 L557.6,407.5 L557.6,418.4 L554.9,418.4 Z" fill="#14b468" stroke="#111" stroke-width="0.9"/>
<path d="M578.6,407.5 L581.6,407.5 L581.6,418.4 L578.6,418.4 Z" fill="#14b468" stroke="#111" stroke-width="0.9"/>
<path d="M596.0,412.95 L597.8,407.5 L604.2,407.5 L604.2,418.4 L597.8,418.4 Z" fill="#14b468" stroke="#111" stroke-width="0.9"/>
<path d="M611.9,407.2 L634.1,407.2 L641.3,412.9 L634.1,418.6 L611.9,418.6 Z" fill="#14b468" stroke="#111" stroke-width="0.9"/>
<rect x="652.2" y="407.4" width="23.7" height="11.4" fill="#0000fa" stroke="none" stroke-width="0.8" />
<line x1="430.1" y1="418.6" x2="434.6" y2="428" stroke="#111" stroke-width="1.0" />
<line x1="504.2" y1="418.6" x2="500.3" y2="428" stroke="#111" stroke-width="1.0" />
<line x1="523.4" y1="397.2" x2="518.1" y2="406.4" stroke="#111" stroke-width="1.0" />
<line x1="595.6" y1="397.2" x2="600.1" y2="406.4" stroke="#111" stroke-width="1.0" />
<text x="416.6" y="402.3" font-size="11.15" text-anchor="middle" fill="#000" style="font-style:italic;" >gal10</text>
<text x="398.7" y="429.9" font-size="11.15" text-anchor="middle" fill="#000" style="font-style:italic;" >gal7</text>
<text x="463.3" y="439.6" font-size="11.15" text-anchor="middle" fill="#000" style="font-style:italic;" >SPBPB2B2.13-19c</text>
<text x="552.5" y="394.4" font-size="11.15" text-anchor="middle" fill="#000" style="font-style:italic;" >SPBCPT2R1.01c-07c</text>
<text x="624.9" y="403.6" font-size="11.15" text-anchor="middle" fill="#000" style="font-style:italic;" >tlh2</text>
<text x="664.6" y="403.6" font-size="11.15" text-anchor="middle" fill="#000" style="" >Tel2R</text>
<line x1="384.3" y1="455.3" x2="384.3" y2="505.0" stroke="#8a8a8a" stroke-width="0.9" />
<line x1="381.3" y1="455.3" x2="384.3" y2="455.3" stroke="#8a8a8a" stroke-width="0.9" />
<line x1="381.8" y1="505.0" x2="674" y2="505.0" stroke="#666" stroke-width="1.0" />
<line x1="440.4" y1="505.0" x2="440.4" y2="508.2" stroke="#555" stroke-width="1.0" />
<line x1="534.3" y1="505.0" x2="534.3" y2="508.2" stroke="#555" stroke-width="1.0" />
<line x1="627.8" y1="505.0" x2="627.8" y2="508.2" stroke="#555" stroke-width="1.0" />
<text x="376.5" y="459.40000000000003" font-size="11.15" text-anchor="end" fill="#000" style="" >60</text>
<text x="376.5" y="509.1" font-size="11.15" text-anchor="end" fill="#000" style="" >0</text>
<path d="M384.3,504.8 L384.3,504.1 L385.3,504.1 L385.3,504.0 L386.3,504.0 L386.3,504.4 L387.3,504.4 L387.3,504.2 L388.3,504.2 L388.3,504.3 L389.3,504.3 L389.3,504.0 L390.3,504.0 L390.3,504.3 L391.3,504.3 L391.3,503.8 L392.3,503.8 L392.3,504.2 L393.3,504.2 L393.3,504.1 L394.3,504.1 L394.3,504.4 L395.3,504.4 L395.3,503.8 L396.3,503.8 L396.3,503.9 L397.3,503.9 L397.3,503.8 L398.3,503.8 L398.3,504.0 L399.3,504.0 L399.3,503.7 L400.3,503.7 L400.3,504.1 L401.3,504.1 L401.3,503.9 L402.3,503.9 L402.3,503.6 L403.3,503.6 L403.3,503.8 L404.3,503.8 L404.3,504.2 L405.3,504.2 L405.3,504.5 L406.3,504.5 L406.3,504.1 L407.3,504.1 L407.3,504.5 L408.3,504.5 L408.3,504.2 L409.3,504.2 L409.3,503.9 L410.3,503.9 L410.3,504.5 L411.3,504.5 L411.3,503.9 L412.3,503.9 L412.3,504.0 L413.3,504.0 L413.3,504.3 L414.3,504.3 L414.3,503.9 L415.3,503.9 L415.3,504.5 L416.3,504.5 L416.3,504.3 L417.3,504.3 L417.3,504.4 L418.3,504.4 L418.3,503.9 L419.3,503.9 L419.3,504.3 L420.3,504.3 L420.3,504.0 L421.3,504.0 L421.3,504.2 L422.3,504.2 L422.3,504.2 L423.3,504.2 L423.3,504.1 L424.3,504.1 L424.3,504.0 L425.3,504.0 L425.3,504.3 L426.3,504.3 L426.3,504.0 L427.3,504.0 L427.3,504.0 L428.3,504.0 L428.3,503.7 L429.3,503.7 L429.3,504.1 L430.3,504.1 L430.3,504.2 L431.3,504.2 L431.3,503.7 L432.3,503.7 L432.3,504.0 L433.3,504.0 L433.3,504.2 L434.3,504.2 L434.3,504.3 L435.3,504.3 L435.3,503.9 L436.3,503.9 L436.3,503.9 L437.3,503.9 L437.3,504.1 L438.3,504.1 L438.3,504.5 L439.3,504.5 L439.3,504.0 L440.3,504.0 L440.3,503.7 L441.3,503.7 L441.3,504.0 L442.3,504.0 L442.3,503.8 L443.3,503.8 L443.3,504.2 L444.3,504.2 L444.3,503.7 L445.3,503.7 L445.3,503.9 L446.3,503.9 L446.3,503.8 L447.3,503.8 L447.3,504.3 L448.3,504.3 L448.3,503.8 L449.3,503.8 L449.3,504.4 L450.3,504.4 L450.3,504.0 L451.3,504.0 L451.3,503.9 L452.3,503.9 L452.3,503.7 L453.3,503.7 L453.3,503.9 L454.3,503.9 L454.3,503.8 L455.3,503.8 L455.3,504.5 L456.3,504.5 L456.3,504.1 L457.3,504.1 L457.3,504.0 L458.3,504.0 L458.3,503.9 L459.3,503.9 L459.3,504.1 L460.3,504.1 L460.3,503.9 L461.3,503.9 L461.3,503.7 L462.3,503.7 L462.3,504.2 L463.3,504.2 L463.3,504.0 L464.3,504.0 L464.3,504.3 L465.3,504.3 L465.3,503.8 L466.3,503.8 L466.3,504.0 L467.3,504.0 L467.3,504.0 L468.3,504.0 L468.3,503.9 L469.3,503.9 L469.3,503.9 L470.3,503.9 L470.3,504.0 L471.3,504.0 L471.3,503.6 L472.3,503.6 L472.3,503.5 L473.3,503.5 L473.3,501.2 L474.3,501.2 L474.3,500.6 L475.3,500.6 L475.3,500.4 L476.3,500.4 L476.3,500.1 L477.3,500.1 L477.3,500.2 L478.3,500.2 L478.3,500.3 L479.3,500.3 L479.3,500.4 L480.3,500.4 L480.3,500.2 L481.3,500.2 L481.3,500.1 L482.3,500.1 L482.3,500.4 L483.3,500.4 L483.3,500.8 L484.3,500.8 L484.3,500.3 L485.3,500.3 L485.3,500.1 L486.3,500.1 L486.3,500.0 L487.3,500.0 L487.3,500.9 L488.3,500.9 L488.3,502.0 L489.3,502.0 L489.3,501.4 L490.3,501.4 L490.3,501.3 L491.3,501.3 L491.3,500.4 L492.3,500.4 L492.3,500.1 L493.3,500.1 L493.3,500.4 L494.3,500.4 L494.3,500.8 L495.3,500.8 L495.3,500.5 L496.3,500.5 L496.3,500.4 L497.3,500.4 L497.3,500.3 L498.3,500.3 L498.3,500.4 L499.3,500.4 L499.3,500.2 L500.3,500.2 L500.3,500.3 L501.3,500.3 L501.3,499.8 L502.3,499.8 L502.3,500.2 L503.3,500.2 L503.3,500.3 L504.3,500.3 L504.3,500.7 L505.3,500.7 L505.3,501.5 L506.3,501.5 L506.3,500.3 L507.3,500.3 L507.3,499.6 L508.3,499.6 L508.3,498.0 L509.3,498.0 L509.3,498.3 L510.3,498.3 L510.3,498.9 L511.3,498.9 L511.3,499.4 L512.3,499.4 L512.3,500.1 L513.3,500.1 L513.3,499.7 L514.3,499.7 L514.3,499.6 L515.3,499.6 L515.3,499.4 L516.3,499.4 L516.3,499.2 L517.3,499.2 L517.3,499.2 L518.3,499.2 L518.3,499.5 L519.3,499.5 L519.3,500.1 L520.3,500.1 L520.3,499.7 L521.3,499.7 L521.3,499.9 L522.3,499.9 L522.3,500.8 L523.3,500.8 L523.3,502.7 L524.3,502.7 L524.3,502.3 L525.3,502.3 L525.3,502.2 L526.3,502.2 L526.3,502.1 L527.3,502.1 L527.3,502.0 L528.3,502.0 L528.3,501.9 L529.3,501.9 L529.3,501.9 L530.3,501.9 L530.3,502.1 L531.3,502.1 L531.3,502.0 L532.3,502.0 L532.3,501.8 L533.3,501.8 L533.3,501.9 L534.3,501.9 L534.3,501.9 L535.3,501.9 L535.3,501.9 L536.3,501.9 L536.3,502.2 L537.3,502.2 L537.3,502.3 L538.3,502.3 L538.3,502.3 L539.3,502.3 L539.3,502.3 L540.3,502.3 L540.3,502.2 L541.3,502.2 L541.3,502.7 L542.3,502.7 L542.3,502.0 L543.3,502.0 L543.3,501.7 L544.3,501.7 L544.3,501.3 L545.3,501.3 L545.3,501.0 L546.3,501.0 L546.3,500.1 L547.3,500.1 L547.3,499.8 L548.3,499.8 L548.3,499.5 L549.3,499.5 L549.3,498.8 L550.3,498.8 L550.3,498.1 L551.3,498.1 L551.3,498.3 L552.3,498.3 L552.3,497.9 L553.3,497.9 L553.3,498.0 L554.3,498.0 L554.3,498.3 L555.3,498.3 L555.3,498.5 L556.3,498.5 L556.3,499.3 L557.3,499.3 L557.3,498.0 L558.3,498.0 L558.3,494.8 L559.3,494.8 L559.3,494.1 L560.3,494.1 L560.3,494.6 L561.3,494.6 L561.3,493.8 L562.3,493.8 L562.3,493.9 L563.3,493.9 L563.3,494.8 L564.3,494.8 L564.3,493.3 L565.3,493.3 L565.3,491.9 L566.3,491.9 L566.3,489.4 L567.3,489.4 L567.3,487.8 L568.3,487.8 L568.3,487.9 L569.3,487.9 L569.3,487.2 L570.3,487.2 L570.3,486.9 L571.3,486.9 L571.3,487.8 L572.3,487.8 L572.3,488.1 L573.3,488.1 L573.3,486.2 L574.3,486.2 L574.3,485.2 L575.3,485.2 L575.3,487.2 L576.3,487.2 L576.3,491.6 L577.3,491.6 L577.3,490.4 L578.3,490.4 L578.3,488.6 L579.3,488.6 L579.3,487.4 L580.3,487.4 L580.3,487.7 L581.3,487.7 L581.3,489.6 L582.3,489.6 L582.3,487.1 L583.3,487.1 L583.3,486.5 L584.3,486.5 L584.3,487.8 L585.3,487.8 L585.3,486.7 L586.3,486.7 L586.3,487.5 L587.3,487.5 L587.3,489.0 L588.3,489.0 L588.3,489.3 L589.3,489.3 L589.3,488.1 L590.3,488.1 L590.3,485.1 L591.3,485.1 L591.3,485.3 L592.3,485.3 L592.3,483.9 L593.3,483.9 L593.3,483.0 L594.3,483.0 L594.3,483.8 L595.3,483.8 L595.3,482.4 L596.3,482.4 L596.3,481.1 L597.3,481.1 L597.3,480.7 L598.3,480.7 L598.3,477.6 L599.3,477.6 L599.3,476.4 L600.3,476.4 L600.3,476.2 L601.3,476.2 L601.3,477.5 L602.3,477.5 L602.3,475.5 L603.3,475.5 L603.3,474.5 L604.3,474.5 L604.3,477.3 L605.3,477.3 L605.3,477.6 L606.3,477.6 L606.3,475.4 L607.3,475.4 L607.3,476.2 L608.3,476.2 L608.3,481.8 L609.3,481.8 L609.3,484.1 L610.3,484.1 L610.3,484.5 L611.3,484.5 L611.3,481.8 L612.3,481.8 L612.3,481.8 L613.3,481.8 L613.3,482.4 L614.3,482.4 L614.3,481.6 L615.3,481.6 L615.3,480.1 L616.3,480.1 L616.3,479.9 L617.3,479.9 L617.3,479.7 L618.3,479.7 L618.3,481.8 L619.3,481.8 L619.3,482.1 L620.3,482.1 L620.3,485.0 L621.3,485.0 L621.3,485.9 L622.3,485.9 L622.3,488.3 L623.3,488.3 L623.3,487.3 L624.3,487.3 L624.3,488.2 L625.3,488.2 L625.3,486.2 L626.3,486.2 L626.3,487.7 L627.3,487.7 L627.3,488.8 L628.3,488.8 L628.3,489.3 L629.3,489.3 L629.3,489.5 L630.3,489.5 L630.3,489.8 L631.3,489.8 L631.3,488.2 L632.3,488.2 L632.3,488.0 L633.3,488.0 L633.3,488.8 L634.3,488.8 L634.3,490.5 L635.3,490.5 L635.3,490.3 L636.3,490.3 L636.3,490.5 L637.3,490.5 L637.3,490.7 L638.3,490.7 L638.3,489.7 L639.3,489.7 L639.3,490.9 L640.3,490.9 L640.3,492.4 L641.3,492.4 L641.3,493.8 L642.3,493.8 L642.3,496.0 L643.3,496.0 L643.3,499.0 L644.3,499.0 L644.3,499.2 L645.3,499.2 L645.3,498.4 L646.3,498.4 L646.3,497.1 L647.3,497.1 L647.3,496.4 L648.3,496.4 L648.3,496.0 L649.3,496.0 L649.3,493.5 L650.3,493.5 L650.3,493.3 L651.3,493.3 L651.3,489.2 L652.3,489.2 L652.3,485.4 L653.3,485.4 L653.3,485.4 L654.3,485.4 L654.3,488.2 L655.3,488.2 L655.3,489.8 L656.3,489.8 L656.3,490.5 L657.3,490.5 L657.3,490.2 L658.3,490.2 L658.3,491.0 L659.3,491.0 L659.3,491.1 L660.3,491.1 L660.3,491.4 L661.3,491.4 L661.3,492.4 L662.3,492.4 L662.3,493.3 L663.3,493.3 L663.3,495.2 L664.3,495.2 L664.3,497.8 L665.3,497.8 L665.3,497.9 L666.3,497.9 L666.3,495.5 L667.3,495.5 L667.3,494.5 L668.3,494.5 L668.3,494.7 L669.3,494.7 L669.3,496.2 L670.3,496.2 L670.3,498.4 L671.3,498.4 L671.3,493.7 L672.3,493.7 L672.3,491.5 L673.3,491.5 L673.3,493.5 L674.0,493.5 L674.0,504.8 Z" fill="#808080" stroke="none"/>
<line x1="384.3" y1="504.8" x2="674" y2="504.8" stroke="#5c5c5c" stroke-width="1.0" />
<line x1="384.3" y1="520.1" x2="384.3" y2="570.1" stroke="#bdbdbd" stroke-width="1.4" />
<line x1="381.3" y1="520.1" x2="384.3" y2="520.1" stroke="#bdbdbd" stroke-width="0.9" />
<line x1="381.8" y1="570.1" x2="674" y2="570.1" stroke="#666" stroke-width="1.0" />
<line x1="440.4" y1="570.1" x2="440.4" y2="573.3000000000001" stroke="#555" stroke-width="1.0" />
<line x1="534.3" y1="570.1" x2="534.3" y2="573.3000000000001" stroke="#555" stroke-width="1.0" />
<line x1="627.8" y1="570.1" x2="627.8" y2="573.3000000000001" stroke="#555" stroke-width="1.0" />
<text x="376.5" y="524.2" font-size="11.15" text-anchor="end" fill="#000" style="" >60</text>
<text x="376.5" y="574.2" font-size="11.15" text-anchor="end" fill="#000" style="" >0</text>
<path d="M384.3,569.9 L384.3,569.5 L385.3,569.5 L385.3,568.8 L386.3,568.8 L386.3,568.8 L387.3,568.8 L387.3,568.7 L388.3,568.7 L388.3,568.4 L389.3,568.4 L389.3,568.9 L390.3,568.9 L390.3,568.8 L391.3,568.8 L391.3,568.6 L392.3,568.6 L392.3,569.0 L393.3,569.0 L393.3,568.6 L394.3,568.6 L394.3,568.8 L395.3,568.8 L395.3,568.9 L396.3,568.9 L396.3,568.8 L397.3,568.8 L397.3,568.7 L398.3,568.7 L398.3,568.7 L399.3,568.7 L399.3,568.5 L400.3,568.5 L400.3,568.7 L401.3,568.7 L401.3,569.2 L402.3,569.2 L402.3,568.7 L403.3,568.7 L403.3,568.9 L404.3,568.9 L404.3,568.6 L405.3,568.6 L405.3,568.7 L406.3,568.7 L406.3,569.1 L407.3,569.1 L407.3,568.5 L408.3,568.5 L408.3,568.7 L409.3,568.7 L409.3,568.8 L410.3,568.8 L410.3,568.7 L411.3,568.7 L411.3,568.8 L412.3,568.8 L412.3,569.1 L413.3,569.1 L413.3,569.2 L414.3,569.2 L414.3,568.8 L415.3,568.8 L415.3,568.9 L416.3,568.9 L416.3,569.4 L417.3,569.4 L417.3,569.3 L418.3,569.3 L418.3,568.7 L419.3,568.7 L419.3,568.9 L420.3,568.9 L420.3,568.9 L421.3,568.9 L421.3,569.0 L422.3,569.0 L422.3,568.9 L423.3,568.9 L423.3,568.5 L424.3,568.5 L424.3,568.9 L425.3,568.9 L425.3,568.8 L426.3,568.8 L426.3,568.8 L427.3,568.8 L427.3,568.5 L428.3,568.5 L428.3,569.4 L429.3,569.4 L429.3,568.5 L430.3,568.5 L430.3,568.5 L431.3,568.5 L431.3,568.8 L432.3,568.8 L432.3,569.0 L433.3,569.0 L433.3,568.7 L434.3,568.7 L434.3,568.5 L435.3,568.5 L435.3,568.8 L436.3,568.8 L436.3,568.8 L437.3,568.8 L437.3,568.9 L438.3,568.9 L438.3,568.8 L439.3,568.8 L439.3,569.0 L440.3,569.0 L440.3,568.4 L441.3,568.4 L441.3,568.9 L442.3,568.9 L442.3,568.9 L443.3,568.9 L443.3,568.3 L444.3,568.3 L444.3,569.0 L445.3,569.0 L445.3,568.7 L446.3,568.7 L446.3,568.5 L447.3,568.5 L447.3,568.6 L448.3,568.6 L448.3,568.9 L449.3,568.9 L449.3,568.6 L450.3,568.6 L450.3,569.0 L451.3,569.0 L451.3,568.7 L452.3,568.7 L452.3,568.8 L453.3,568.8 L453.3,568.6 L454.3,568.6 L454.3,568.3 L455.3,568.3 L455.3,568.6 L456.3,568.6 L456.3,568.6 L457.3,568.6 L457.3,568.8 L458.3,568.8 L458.3,568.8 L459.3,568.8 L459.3,569.0 L460.3,569.0 L460.3,568.8 L461.3,568.8 L461.3,568.9 L462.3,568.9 L462.3,569.2 L463.3,569.2 L463.3,568.4 L464.3,568.4 L464.3,568.6 L465.3,568.6 L465.3,568.9 L466.3,568.9 L466.3,568.8 L467.3,568.8 L467.3,568.4 L468.3,568.4 L468.3,568.8 L469.3,568.8 L469.3,568.8 L470.3,568.8 L470.3,568.9 L471.3,568.9 L471.3,569.0 L472.3,569.0 L472.3,568.7 L473.3,568.7 L473.3,568.9 L474.3,568.9 L474.3,568.4 L475.3,568.4 L475.3,568.7 L476.3,568.7 L476.3,568.5 L477.3,568.5 L477.3,568.4 L478.3,568.4 L478.3,568.1 L479.3,568.1 L479.3,568.7 L480.3,568.7 L480.3,568.6 L481.3,568.6 L481.3,569.0 L482.3,569.0 L482.3,569.3 L483.3,569.3 L483.3,568.3 L484.3,568.3 L484.3,568.5 L485.3,568.5 L485.3,568.5 L486.3,568.5 L486.3,569.2 L487.3,569.2 L487.3,568.3 L488.3,568.3 L488.3,568.6 L489.3,568.6 L489.3,568.7 L490.3,568.7 L490.3,568.4 L491.3,568.4 L491.3,569.0 L492.3,569.0 L492.3,568.6 L493.3,568.6 L493.3,568.5 L494.3,568.5 L494.3,568.9 L495.3,568.9 L495.3,569.0 L496.3,569.0 L496.3,568.9 L497.3,568.9 L497.3,568.9 L498.3,568.9 L498.3,568.8 L499.3,568.8 L499.3,569.1 L500.3,569.1 L500.3,569.6 L501.3,569.6 L501.3,569.2 L502.3,569.2 L502.3,568.9 L503.3,568.9 L503.3,568.7 L504.3,568.7 L504.3,568.9 L505.3,568.9 L505.3,569.1 L506.3,569.1 L506.3,569.0 L507.3,569.0 L507.3,569.2 L508.3,569.2 L508.3,568.8 L509.3,568.8 L509.3,568.9 L510.3,568.9 L510.3,568.6 L511.3,568.6 L511.3,568.7 L512.3,568.7 L512.3,568.5 L513.3,568.5 L513.3,568.8 L514.3,568.8 L514.3,568.8 L515.3,568.8 L515.3,569.0 L516.3,569.0 L516.3,568.7 L517.3,568.7 L517.3,568.6 L518.3,568.6 L518.3,568.6 L519.3,568.6 L519.3,569.2 L520.3,569.2 L520.3,568.8 L521.3,568.8 L521.3,568.7 L522.3,568.7 L522.3,568.8 L523.3,568.8 L523.3,568.8 L524.3,568.8 L524.3,568.7 L525.3,568.7 L525.3,568.3 L526.3,568.3 L526.3,568.7 L527.3,568.7 L527.3,568.8 L528.3,568.8 L528.3,569.1 L529.3,569.1 L529.3,568.4 L530.3,568.4 L530.3,569.1 L531.3,569.1 L531.3,568.8 L532.3,568.8 L532.3,569.3 L533.3,569.3 L533.3,568.8 L534.3,568.8 L534.3,569.0 L535.3,569.0 L535.3,568.8 L536.3,568.8 L536.3,568.5 L537.3,568.5 L537.3,568.3 L538.3,568.3 L538.3,568.6 L539.3,568.6 L539.3,568.9 L540.3,568.9 L540.3,569.1 L541.3,569.1 L541.3,569.3 L542.3,569.3 L542.3,568.6 L543.3,568.6 L543.3,568.7 L544.3,568.7 L544.3,568.6 L545.3,568.6 L545.3,568.1 L546.3,568.1 L546.3,568.0 L547.3,568.0 L547.3,568.2 L548.3,568.2 L548.3,568.0 L549.3,568.0 L549.3,567.5 L550.3,567.5 L550.3,567.8 L551.3,567.8 L551.3,568.0 L552.3,568.0 L552.3,567.9 L553.3,567.9 L553.3,567.5 L554.3,567.5 L554.3,567.8 L555.3,567.8 L555.3,567.3 L556.3,567.3 L556.3,568.1 L557.3,568.1 L557.3,568.3 L558.3,568.3 L558.3,568.7 L559.3,568.7 L559.3,569.1 L560.3,569.1 L560.3,569.1 L561.3,569.1 L561.3,568.7 L562.3,568.7 L562.3,568.8 L563.3,568.8 L563.3,568.3 L564.3,568.3 L564.3,568.8 L565.3,568.8 L565.3,568.9 L566.3,568.9 L566.3,563.9 L567.3,563.9 L567.3,555.3 L568.3,555.3 L568.3,557.2 L569.3,557.2 L569.3,567.5 L570.3,567.5 L570.3,569.1 L571.3,569.1 L571.3,568.4 L572.3,568.4 L572.3,569.2 L573.3,569.2 L573.3,568.6 L574.3,568.6 L574.3,566.4 L575.3,566.4 L575.3,567.7 L576.3,567.7 L576.3,568.9 L577.3,568.9 L577.3,568.7 L578.3,568.7 L578.3,568.3 L579.3,568.3 L579.3,569.3 L580.3,569.3 L580.3,568.8 L581.3,568.8 L581.3,569.2 L582.3,569.2 L582.3,568.8 L583.3,568.8 L583.3,569.0 L584.3,569.0 L584.3,569.5 L585.3,569.5 L585.3,569.0 L586.3,569.0 L586.3,569.1 L587.3,569.1 L587.3,569.3 L588.3,569.3 L588.3,568.9 L589.3,568.9 L589.3,569.1 L590.3,569.1 L590.3,568.6 L591.3,568.6 L591.3,569.4 L592.3,569.4 L592.3,568.5 L593.3,568.5 L593.3,569.0 L594.3,569.0 L594.3,568.6 L595.3,568.6 L595.3,569.2 L596.3,569.2 L596.3,569.1 L597.3,569.1 L597.3,568.8 L598.3,568.8 L598.3,568.7 L599.3,568.7 L599.3,568.7 L600.3,568.7 L600.3,568.9 L601.3,568.9 L601.3,569.1 L602.3,569.1 L602.3,569.1 L603.3,569.1 L603.3,568.4 L604.3,568.4 L604.3,568.4 L605.3,568.4 L605.3,568.9 L606.3,568.9 L606.3,568.1 L607.3,568.1 L607.3,567.3 L608.3,567.3 L608.3,567.9 L609.3,567.9 L609.3,567.3 L610.3,567.3 L610.3,566.9 L611.3,566.9 L611.3,566.7 L612.3,566.7 L612.3,565.9 L613.3,565.9 L613.3,566.0 L614.3,566.0 L614.3,565.3 L615.3,565.3 L615.3,564.6 L616.3,564.6 L616.3,565.3 L617.3,565.3 L617.3,566.4 L618.3,566.4 L618.3,567.0 L619.3,567.0 L619.3,566.3 L620.3,566.3 L620.3,566.1 L621.3,566.1 L621.3,565.8 L622.3,565.8 L622.3,565.2 L623.3,565.2 L623.3,564.8 L624.3,564.8 L624.3,564.7 L625.3,564.7 L625.3,565.3 L626.3,565.3 L626.3,565.7 L627.3,565.7 L627.3,566.1 L628.3,566.1 L628.3,566.2 L629.3,566.2 L629.3,566.3 L630.3,566.3 L630.3,566.2 L631.3,566.2 L631.3,566.1 L632.3,566.1 L632.3,566.3 L633.3,566.3 L633.3,566.8 L634.3,566.8 L634.3,566.8 L635.3,566.8 L635.3,567.0 L636.3,567.0 L636.3,567.3 L637.3,567.3 L637.3,567.8 L638.3,567.8 L638.3,567.8 L639.3,567.8 L639.3,567.6 L640.3,567.6 L640.3,568.1 L641.3,568.1 L641.3,566.6 L642.3,566.6 L642.3,561.6 L643.3,561.6 L643.3,557.1 L644.3,557.1 L644.3,553.7 L645.3,553.7 L645.3,550.0 L646.3,550.0 L646.3,545.7 L647.3,545.7 L647.3,546.4 L648.3,546.4 L648.3,548.4 L649.3,548.4 L649.3,550.5 L650.3,550.5 L650.3,549.9 L651.3,549.9 L651.3,544.4 L652.3,544.4 L652.3,545.1 L653.3,545.1 L653.3,546.1 L654.3,546.1 L654.3,547.4 L655.3,547.4 L655.3,553.5 L656.3,553.5 L656.3,557.7 L657.3,557.7 L657.3,560.0 L658.3,560.0 L658.3,562.2 L659.3,562.2 L659.3,564.1 L660.3,564.1 L660.3,566.2 L661.3,566.2 L661.3,566.5 L662.3,566.5 L662.3,567.4 L663.3,567.4 L663.3,568.2 L664.3,568.2 L664.3,568.8 L665.3,568.8 L665.3,568.9 L666.3,568.9 L666.3,568.6 L667.3,568.6 L667.3,567.6 L668.3,567.6 L668.3,566.3 L669.3,566.3 L669.3,568.2 L670.3,568.2 L670.3,566.5 L671.3,566.5 L671.3,565.2 L672.3,565.2 L672.3,564.8 L673.3,564.8 L673.3,565.6 L674.0,565.6 L674.0,569.9 Z" fill="#b066f6" stroke="none"/>
<line x1="384.3" y1="569.9" x2="674" y2="569.9" stroke="#5d2d8e" stroke-width="1.0" />
<line x1="384.3" y1="585.8" x2="384.3" y2="635.3" stroke="#8a8a8a" stroke-width="0.9" />
<line x1="381.3" y1="585.8" x2="384.3" y2="585.8" stroke="#8a8a8a" stroke-width="0.9" />
<line x1="381.8" y1="635.3" x2="674" y2="635.3" stroke="#666" stroke-width="1.0" />
<line x1="440.4" y1="635.3" x2="440.4" y2="638.5" stroke="#555" stroke-width="1.0" />
<line x1="534.3" y1="635.3" x2="534.3" y2="638.5" stroke="#555" stroke-width="1.0" />
<line x1="627.8" y1="635.3" x2="627.8" y2="638.5" stroke="#555" stroke-width="1.0" />
<text x="376.5" y="589.9" font-size="11.15" text-anchor="end" fill="#000" style="" >60</text>
<text x="376.5" y="639.4" font-size="11.15" text-anchor="end" fill="#000" style="" >0</text>
<path d="M384.3,635.1 L384.3,633.4 L385.3,633.4 L385.3,632.8 L386.3,632.8 L386.3,633.3 L387.3,633.3 L387.3,633.0 L388.3,633.0 L388.3,632.9 L389.3,632.9 L389.3,633.1 L390.3,633.1 L390.3,633.1 L391.3,633.1 L391.3,632.9 L392.3,632.9 L392.3,633.5 L393.3,633.5 L393.3,633.4 L394.3,633.4 L394.3,633.6 L395.3,633.6 L395.3,633.4 L396.3,633.4 L396.3,632.5 L397.3,632.5 L397.3,632.3 L398.3,632.3 L398.3,632.2 L399.3,632.2 L399.3,632.9 L400.3,632.9 L400.3,633.2 L401.3,633.2 L401.3,633.8 L402.3,633.8 L402.3,634.2 L403.3,634.2 L403.3,634.2 L404.3,634.2 L404.3,632.7 L405.3,632.7 L405.3,632.3 L406.3,632.3 L406.3,632.1 L407.3,632.1 L407.3,632.0 L408.3,632.0 L408.3,632.1 L409.3,632.1 L409.3,632.4 L410.3,632.4 L410.3,632.6 L411.3,632.6 L411.3,632.2 L412.3,632.2 L412.3,632.9 L413.3,632.9 L413.3,632.8 L414.3,632.8 L414.3,632.5 L415.3,632.5 L415.3,632.2 L416.3,632.2 L416.3,632.4 L417.3,632.4 L417.3,632.2 L418.3,632.2 L418.3,632.2 L419.3,632.2 L419.3,632.0 L420.3,632.0 L420.3,632.1 L421.3,632.1 L421.3,632.0 L422.3,632.0 L422.3,632.0 L423.3,632.0 L423.3,632.1 L424.3,632.1 L424.3,631.9 L425.3,631.9 L425.3,632.1 L426.3,632.1 L426.3,632.4 L427.3,632.4 L427.3,632.6 L428.3,632.6 L428.3,632.6 L429.3,632.6 L429.3,632.7 L430.3,632.7 L430.3,633.1 L431.3,633.1 L431.3,633.0 L432.3,633.0 L432.3,632.5 L433.3,632.5 L433.3,632.4 L434.3,632.4 L434.3,632.4 L435.3,632.4 L435.3,632.3 L436.3,632.3 L436.3,631.9 L437.3,631.9 L437.3,631.3 L438.3,631.3 L438.3,630.7 L439.3,630.7 L439.3,631.7 L440.3,631.7 L440.3,632.5 L441.3,632.5 L441.3,632.3 L442.3,632.3 L442.3,632.5 L443.3,632.5 L443.3,632.5 L444.3,632.5 L444.3,632.5 L445.3,632.5 L445.3,632.2 L446.3,632.2 L446.3,632.0 L447.3,632.0 L447.3,632.2 L448.3,632.2 L448.3,632.1 L449.3,632.1 L449.3,632.3 L450.3,632.3 L450.3,632.4 L451.3,632.4 L451.3,632.5 L452.3,632.5 L452.3,632.8 L453.3,632.8 L453.3,632.5 L454.3,632.5 L454.3,633.2 L455.3,633.2 L455.3,632.4 L456.3,632.4 L456.3,632.9 L457.3,632.9 L457.3,632.7 L458.3,632.7 L458.3,632.4 L459.3,632.4 L459.3,631.8 L460.3,631.8 L460.3,631.6 L461.3,631.6 L461.3,631.0 L462.3,631.0 L462.3,631.3 L463.3,631.3 L463.3,631.2 L464.3,631.2 L464.3,631.9 L465.3,631.9 L465.3,633.1 L466.3,633.1 L466.3,633.4 L467.3,633.4 L467.3,634.0 L468.3,634.0 L468.3,634.2 L469.3,634.2 L469.3,634.3 L470.3,634.3 L470.3,632.9 L471.3,632.9 L471.3,632.0 L472.3,632.0 L472.3,631.3 L473.3,631.3 L473.3,630.6 L474.3,630.6 L474.3,630.0 L475.3,630.0 L475.3,627.9 L476.3,627.9 L476.3,627.1 L477.3,627.1 L477.3,627.2 L478.3,627.2 L478.3,627.0 L479.3,627.0 L479.3,627.3 L480.3,627.3 L480.3,627.9 L481.3,627.9 L481.3,628.5 L482.3,628.5 L482.3,629.2 L483.3,629.2 L483.3,629.1 L484.3,629.1 L484.3,629.2 L485.3,629.2 L485.3,629.5 L486.3,629.5 L486.3,629.7 L487.3,629.7 L487.3,630.0 L488.3,630.0 L488.3,630.6 L489.3,630.6 L489.3,630.5 L490.3,630.5 L490.3,629.7 L491.3,629.7 L491.3,629.2 L492.3,629.2 L492.3,627.3 L493.3,627.3 L493.3,627.3 L494.3,627.3 L494.3,627.4 L495.3,627.4 L495.3,626.8 L496.3,626.8 L496.3,627.5 L497.3,627.5 L497.3,628.2 L498.3,628.2 L498.3,628.9 L499.3,628.9 L499.3,627.9 L500.3,627.9 L500.3,628.2 L501.3,628.2 L501.3,627.2 L502.3,627.2 L502.3,626.9 L503.3,626.9 L503.3,627.8 L504.3,627.8 L504.3,628.0 L505.3,628.0 L505.3,627.2 L506.3,627.2 L506.3,625.9 L507.3,625.9 L507.3,625.4 L508.3,625.4 L508.3,624.0 L509.3,624.0 L509.3,623.4 L510.3,623.4 L510.3,623.4 L511.3,623.4 L511.3,623.5 L512.3,623.5 L512.3,623.7 L513.3,623.7 L513.3,624.4 L514.3,624.4 L514.3,625.4 L515.3,625.4 L515.3,624.1 L516.3,624.1 L516.3,622.8 L517.3,622.8 L517.3,622.4 L518.3,622.4 L518.3,622.2 L519.3,622.2 L519.3,622.8 L520.3,622.8 L520.3,625.0 L521.3,625.0 L521.3,627.2 L522.3,627.2 L522.3,628.9 L523.3,628.9 L523.3,630.2 L524.3,630.2 L524.3,628.5 L525.3,628.5 L525.3,626.6 L526.3,626.6 L526.3,625.1 L527.3,625.1 L527.3,624.0 L528.3,624.0 L528.3,622.8 L529.3,622.8 L529.3,622.3 L530.3,622.3 L530.3,624.5 L531.3,624.5 L531.3,626.5 L532.3,626.5 L532.3,627.0 L533.3,627.0 L533.3,625.9 L534.3,625.9 L534.3,624.5 L535.3,624.5 L535.3,623.7 L536.3,623.7 L536.3,624.5 L537.3,624.5 L537.3,624.0 L538.3,624.0 L538.3,625.3 L539.3,625.3 L539.3,625.9 L540.3,625.9 L540.3,627.2 L541.3,627.2 L541.3,627.0 L542.3,627.0 L542.3,625.9 L543.3,625.9 L543.3,624.7 L544.3,624.7 L544.3,623.3 L545.3,623.3 L545.3,625.2 L546.3,625.2 L546.3,626.5 L547.3,626.5 L547.3,623.9 L548.3,623.9 L548.3,621.5 L549.3,621.5 L549.3,620.6 L550.3,620.6 L550.3,621.6 L551.3,621.6 L551.3,622.8 L552.3,622.8 L552.3,624.7 L553.3,624.7 L553.3,625.5 L554.3,625.5 L554.3,627.7 L555.3,627.7 L555.3,628.1 L556.3,628.1 L556.3,626.9 L557.3,626.9 L557.3,625.4 L558.3,625.4 L558.3,623.8 L559.3,623.8 L559.3,625.0 L560.3,625.0 L560.3,627.6 L561.3,627.6 L561.3,626.9 L562.3,626.9 L562.3,623.5 L563.3,623.5 L563.3,623.3 L564.3,623.3 L564.3,625.5 L565.3,625.5 L565.3,626.3 L566.3,626.3 L566.3,625.4 L567.3,625.4 L567.3,621.4 L568.3,621.4 L568.3,620.6 L569.3,620.6 L569.3,619.3 L570.3,619.3 L570.3,617.6 L571.3,617.6 L571.3,617.4 L572.3,617.4 L572.3,616.6 L573.3,616.6 L573.3,613.8 L574.3,613.8 L574.3,609.9 L575.3,609.9 L575.3,611.0 L576.3,611.0 L576.3,615.5 L577.3,615.5 L577.3,621.7 L578.3,621.7 L578.3,623.1 L579.3,623.1 L579.3,623.4 L580.3,623.4 L580.3,621.2 L581.3,621.2 L581.3,619.9 L582.3,619.9 L582.3,619.3 L583.3,619.3 L583.3,620.0 L584.3,620.0 L584.3,619.0 L585.3,619.0 L585.3,616.3 L586.3,616.3 L586.3,616.3 L587.3,616.3 L587.3,623.7 L588.3,623.7 L588.3,623.5 L589.3,623.5 L589.3,619.3 L590.3,619.3 L590.3,618.8 L591.3,618.8 L591.3,619.3 L592.3,619.3 L592.3,618.1 L593.3,618.1 L593.3,617.7 L594.3,617.7 L594.3,615.4 L595.3,615.4 L595.3,613.6 L596.3,613.6 L596.3,610.5 L597.3,610.5 L597.3,607.0 L598.3,607.0 L598.3,612.3 L599.3,612.3 L599.3,615.0 L600.3,615.0 L600.3,610.5 L601.3,610.5 L601.3,611.3 L602.3,611.3 L602.3,613.5 L603.3,613.5 L603.3,617.8 L604.3,617.8 L604.3,617.6 L605.3,617.6 L605.3,612.0 L606.3,612.0 L606.3,606.2 L607.3,606.2 L607.3,608.2 L608.3,608.2 L608.3,609.9 L609.3,609.9 L609.3,611.6 L610.3,611.6 L610.3,609.0 L611.3,609.0 L611.3,607.7 L612.3,607.7 L612.3,609.8 L613.3,609.8 L613.3,613.1 L614.3,613.1 L614.3,610.9 L615.3,610.9 L615.3,605.8 L616.3,605.8 L616.3,603.9 L617.3,603.9 L617.3,599.2 L618.3,599.2 L618.3,600.0 L619.3,600.0 L619.3,600.6 L620.3,600.6 L620.3,604.0 L621.3,604.0 L621.3,608.4 L622.3,608.4 L622.3,610.7 L623.3,610.7 L623.3,611.8 L624.3,611.8 L624.3,611.4 L625.3,611.4 L625.3,610.7 L626.3,610.7 L626.3,612.5 L627.3,612.5 L627.3,611.2 L628.3,611.2 L628.3,611.1 L629.3,611.1 L629.3,611.8 L630.3,611.8 L630.3,613.4 L631.3,613.4 L631.3,613.6 L632.3,613.6 L632.3,614.4 L633.3,614.4 L633.3,615.2 L634.3,615.2 L634.3,615.9 L635.3,615.9 L635.3,614.7 L636.3,614.7 L636.3,614.7 L637.3,614.7 L637.3,615.4 L638.3,615.4 L638.3,616.0 L639.3,616.0 L639.3,619.6 L640.3,619.6 L640.3,621.6 L641.3,621.6 L641.3,624.0 L642.3,624.0 L642.3,626.9 L643.3,626.9 L643.3,627.7 L644.3,627.7 L644.3,621.2 L645.3,621.2 L645.3,619.4 L646.3,619.4 L646.3,618.8 L647.3,618.8 L647.3,617.9 L648.3,617.9 L648.3,613.4 L649.3,613.4 L649.3,609.3 L650.3,609.3 L650.3,608.8 L651.3,608.8 L651.3,604.1 L652.3,604.1 L652.3,600.5 L653.3,600.5 L653.3,598.4 L654.3,598.4 L654.3,604.2 L655.3,604.2 L655.3,611.5 L656.3,611.5 L656.3,615.3 L657.3,615.3 L657.3,617.0 L658.3,617.0 L658.3,618.7 L659.3,618.7 L659.3,620.8 L660.3,620.8 L660.3,622.0 L661.3,622.0 L661.3,623.1 L662.3,623.1 L662.3,623.9 L663.3,623.9 L663.3,626.9 L664.3,626.9 L664.3,630.1 L665.3,630.1 L665.3,632.3 L666.3,632.3 L666.3,632.1 L667.3,632.1 L667.3,629.9 L668.3,629.9 L668.3,625.5 L669.3,625.5 L669.3,624.3 L670.3,624.3 L670.3,628.8 L671.3,628.8 L671.3,630.6 L672.3,630.6 L672.3,630.7 L673.3,630.7 L673.3,633.2 L674.0,633.2 L674.0,635.1 Z" fill="#6426b2" stroke="none"/>
<line x1="384.3" y1="635.0999999999999" x2="674" y2="635.0999999999999" stroke="#3b1670" stroke-width="1.0" />
<line x1="384.3" y1="656.5" x2="384.3" y2="706.5" stroke="#8a8a8a" stroke-width="0.9" />
<line x1="381.3" y1="656.5" x2="384.3" y2="656.5" stroke="#8a8a8a" stroke-width="0.9" />
<line x1="381.8" y1="706.5" x2="674" y2="706.5" stroke="#666" stroke-width="1.0" />
<line x1="440.4" y1="706.5" x2="440.4" y2="709.7" stroke="#555" stroke-width="1.0" />
<line x1="534.3" y1="706.5" x2="534.3" y2="709.7" stroke="#555" stroke-width="1.0" />
<line x1="627.8" y1="706.5" x2="627.8" y2="709.7" stroke="#555" stroke-width="1.0" />
<text x="376.5" y="660.6" font-size="11.15" text-anchor="end" fill="#000" style="" >60</text>
<text x="376.5" y="710.6" font-size="11.15" text-anchor="end" fill="#000" style="" >0</text>
<path d="M384.3,706.3 L384.3,705.0 L385.3,705.0 L385.3,704.7 L386.3,704.7 L386.3,704.3 L387.3,704.3 L387.3,704.7 L388.3,704.7 L388.3,704.5 L389.3,704.5 L389.3,704.3 L390.3,704.3 L390.3,704.5 L391.3,704.5 L391.3,704.7 L392.3,704.7 L392.3,704.4 L393.3,704.4 L393.3,704.9 L394.3,704.9 L394.3,704.6 L395.3,704.6 L395.3,704.8 L396.3,704.8 L396.3,704.2 L397.3,704.2 L397.3,704.7 L398.3,704.7 L398.3,704.9 L399.3,704.9 L399.3,704.9 L400.3,704.9 L400.3,704.5 L401.3,704.5 L401.3,704.8 L402.3,704.8 L402.3,705.2 L403.3,705.2 L403.3,705.4 L404.3,705.4 L404.3,705.1 L405.3,705.1 L405.3,705.2 L406.3,705.2 L406.3,705.2 L407.3,705.2 L407.3,705.1 L408.3,705.1 L408.3,704.9 L409.3,704.9 L409.3,704.5 L410.3,704.5 L410.3,704.8 L411.3,704.8 L411.3,705.1 L412.3,705.1 L412.3,704.5 L413.3,704.5 L413.3,704.7 L414.3,704.7 L414.3,705.0 L415.3,705.0 L415.3,704.4 L416.3,704.4 L416.3,704.7 L417.3,704.7 L417.3,704.9 L418.3,704.9 L418.3,705.3 L419.3,705.3 L419.3,704.7 L420.3,704.7 L420.3,704.9 L421.3,704.9 L421.3,705.0 L422.3,705.0 L422.3,704.7 L423.3,704.7 L423.3,704.7 L424.3,704.7 L424.3,705.2 L425.3,705.2 L425.3,705.0 L426.3,705.0 L426.3,704.9 L427.3,704.9 L427.3,705.0 L428.3,705.0 L428.3,704.8 L429.3,704.8 L429.3,704.1 L430.3,704.1 L430.3,704.8 L431.3,704.8 L431.3,704.5 L432.3,704.5 L432.3,704.9 L433.3,704.9 L433.3,704.4 L434.3,704.4 L434.3,704.4 L435.3,704.4 L435.3,704.2 L436.3,704.2 L436.3,704.3 L437.3,704.3 L437.3,704.6 L438.3,704.6 L438.3,704.7 L439.3,704.7 L439.3,705.0 L440.3,705.0 L440.3,704.7 L441.3,704.7 L441.3,704.4 L442.3,704.4 L442.3,705.2 L443.3,705.2 L443.3,705.3 L444.3,705.3 L444.3,705.1 L445.3,705.1 L445.3,704.8 L446.3,704.8 L446.3,705.0 L447.3,705.0 L447.3,704.1 L448.3,704.1 L448.3,704.5 L449.3,704.5 L449.3,704.6 L450.3,704.6 L450.3,704.7 L451.3,704.7 L451.3,704.7 L452.3,704.7 L452.3,705.2 L453.3,705.2 L453.3,704.5 L454.3,704.5 L454.3,704.5 L455.3,704.5 L455.3,704.6 L456.3,704.6 L456.3,704.5 L457.3,704.5 L457.3,704.8 L458.3,704.8 L458.3,704.4 L459.3,704.4 L459.3,704.5 L460.3,704.5 L460.3,704.5 L461.3,704.5 L461.3,704.7 L462.3,704.7 L462.3,704.8 L463.3,704.8 L463.3,704.7 L464.3,704.7 L464.3,704.4 L465.3,704.4 L465.3,704.7 L466.3,704.7 L466.3,704.8 L467.3,704.8 L467.3,704.2 L468.3,704.2 L468.3,704.4 L469.3,704.4 L469.3,704.5 L470.3,704.5 L470.3,704.6 L471.3,704.6 L471.3,704.6 L472.3,704.6 L472.3,704.2 L473.3,704.2 L473.3,704.3 L474.3,704.3 L474.3,704.4 L475.3,704.4 L475.3,704.6 L476.3,704.6 L476.3,704.5 L477.3,704.5 L477.3,703.9 L478.3,703.9 L478.3,704.4 L479.3,704.4 L479.3,704.6 L480.3,704.6 L480.3,704.1 L481.3,704.1 L481.3,704.3 L482.3,704.3 L482.3,704.0 L483.3,704.0 L483.3,704.7 L484.3,704.7 L484.3,704.7 L485.3,704.7 L485.3,704.1 L486.3,704.1 L486.3,704.4 L487.3,704.4 L487.3,704.2 L488.3,704.2 L488.3,704.1 L489.3,704.1 L489.3,704.3 L490.3,704.3 L490.3,704.3 L491.3,704.3 L491.3,704.1 L492.3,704.1 L492.3,703.9 L493.3,703.9 L493.3,703.8 L494.3,703.8 L494.3,704.0 L495.3,704.0 L495.3,704.1 L496.3,704.1 L496.3,703.9 L497.3,703.9 L497.3,704.4 L498.3,704.4 L498.3,704.2 L499.3,704.2 L499.3,704.0 L500.3,704.0 L500.3,703.8 L501.3,703.8 L501.3,704.2 L502.3,704.2 L502.3,704.0 L503.3,704.0 L503.3,704.1 L504.3,704.1 L504.3,704.2 L505.3,704.2 L505.3,703.9 L506.3,703.9 L506.3,704.0 L507.3,704.0 L507.3,703.9 L508.3,703.9 L508.3,704.0 L509.3,704.0 L509.3,704.0 L510.3,704.0 L510.3,704.1 L511.3,704.1 L511.3,703.8 L512.3,703.8 L512.3,703.7 L513.3,703.7 L513.3,703.6 L514.3,703.6 L514.3,703.5 L515.3,703.5 L515.3,703.4 L516.3,703.4 L516.3,703.4 L517.3,703.4 L517.3,703.8 L518.3,703.8 L518.3,703.8 L519.3,703.8 L519.3,703.7 L520.3,703.7 L520.3,704.1 L521.3,704.1 L521.3,704.0 L522.3,704.0 L522.3,704.1 L523.3,704.1 L523.3,704.0 L524.3,704.0 L524.3,704.2 L525.3,704.2 L525.3,704.3 L526.3,704.3 L526.3,704.5 L527.3,704.5 L527.3,704.0 L528.3,704.0 L528.3,703.9 L529.3,703.9 L529.3,704.2 L530.3,704.2 L530.3,703.7 L531.3,703.7 L531.3,703.5 L532.3,703.5 L532.3,703.6 L533.3,703.6 L533.3,703.7 L534.3,703.7 L534.3,703.4 L535.3,703.4 L535.3,703.5 L536.3,703.5 L536.3,703.4 L537.3,703.4 L537.3,703.4 L538.3,703.4 L538.3,703.2 L539.3,703.2 L539.3,703.3 L540.3,703.3 L540.3,703.4 L541.3,703.4 L541.3,703.4 L542.3,703.4 L542.3,703.0 L543.3,703.0 L543.3,702.8 L544.3,702.8 L544.3,702.4 L545.3,702.4 L545.3,702.4 L546.3,702.4 L546.3,702.2 L547.3,702.2 L547.3,701.9 L548.3,701.9 L548.3,702.1 L549.3,702.1 L549.3,702.1 L550.3,702.1 L550.3,702.1 L551.3,702.1 L551.3,702.2 L552.3,702.2 L552.3,702.3 L553.3,702.3 L553.3,702.2 L554.3,702.2 L554.3,702.1 L555.3,702.1 L555.3,701.7 L556.3,701.7 L556.3,701.6 L557.3,701.6 L557.3,701.0 L558.3,701.0 L558.3,700.2 L559.3,700.2 L559.3,699.1 L560.3,699.1 L560.3,699.0 L561.3,699.0 L561.3,697.9 L562.3,697.9 L562.3,697.1 L563.3,697.1 L563.3,696.1 L564.3,696.1 L564.3,695.6 L565.3,695.6 L565.3,694.3 L566.3,694.3 L566.3,690.9 L567.3,690.9 L567.3,688.8 L568.3,688.8 L568.3,690.0 L569.3,690.0 L569.3,692.4 L570.3,692.4 L570.3,692.8 L571.3,692.8 L571.3,693.7 L572.3,693.7 L572.3,694.1 L573.3,694.1 L573.3,685.4 L574.3,685.4 L574.3,675.1 L575.3,675.1 L575.3,689.0 L576.3,689.0 L576.3,697.0 L577.3,697.0 L577.3,693.3 L578.3,693.3 L578.3,686.4 L579.3,686.4 L579.3,684.2 L580.3,684.2 L580.3,684.2 L581.3,684.2 L581.3,683.2 L582.3,683.2 L582.3,682.8 L583.3,682.8 L583.3,680.6 L584.3,680.6 L584.3,679.1 L585.3,679.1 L585.3,681.7 L586.3,681.7 L586.3,685.0 L587.3,685.0 L587.3,687.7 L588.3,687.7 L588.3,686.7 L589.3,686.7 L589.3,684.5 L590.3,684.5 L590.3,683.4 L591.3,683.4 L591.3,680.7 L592.3,680.7 L592.3,676.1 L593.3,676.1 L593.3,675.5 L594.3,675.5 L594.3,678.6 L595.3,678.6 L595.3,679.5 L596.3,679.5 L596.3,676.8 L597.3,676.8 L597.3,671.2 L598.3,671.2 L598.3,661.9 L599.3,661.9 L599.3,666.5 L600.3,666.5 L600.3,667.5 L601.3,667.5 L601.3,668.8 L602.3,668.8 L602.3,664.9 L603.3,664.9 L603.3,666.9 L604.3,666.9 L604.3,668.1 L605.3,668.1 L605.3,674.9 L606.3,674.9 L606.3,668.0 L607.3,668.0 L607.3,671.2 L608.3,671.2 L608.3,673.6 L609.3,673.6 L609.3,679.6 L610.3,679.6 L610.3,679.1 L611.3,679.1 L611.3,677.7 L612.3,677.7 L612.3,669.3 L613.3,669.3 L613.3,669.9 L614.3,669.9 L614.3,669.7 L615.3,669.7 L615.3,664.9 L616.3,664.9 L616.3,665.0 L617.3,665.0 L617.3,665.2 L618.3,665.2 L618.3,670.1 L619.3,670.1 L619.3,667.6 L620.3,667.6 L620.3,670.0 L621.3,670.0 L621.3,670.6 L622.3,670.6 L622.3,676.2 L623.3,676.2 L623.3,680.7 L624.3,680.7 L624.3,680.9 L625.3,680.9 L625.3,682.2 L626.3,682.2 L626.3,679.8 L627.3,679.8 L627.3,679.1 L628.3,679.1 L628.3,678.2 L629.3,678.2 L629.3,679.0 L630.3,679.0 L630.3,680.2 L631.3,680.2 L631.3,681.1 L632.3,681.1 L632.3,679.0 L633.3,679.0 L633.3,681.4 L634.3,681.4 L634.3,681.0 L635.3,681.0 L635.3,680.1 L636.3,680.1 L636.3,679.7 L637.3,679.7 L637.3,680.3 L638.3,680.3 L638.3,680.6 L639.3,680.6 L639.3,680.4 L640.3,680.4 L640.3,687.5 L641.3,687.5 L641.3,692.8 L642.3,692.8 L642.3,697.5 L643.3,697.5 L643.3,693.0 L644.3,693.0 L644.3,687.4 L645.3,687.4 L645.3,685.1 L646.3,685.1 L646.3,683.9 L647.3,683.9 L647.3,680.4 L648.3,680.4 L648.3,678.7 L649.3,678.7 L649.3,676.1 L650.3,676.1 L650.3,674.5 L651.3,674.5 L651.3,676.7 L652.3,676.7 L652.3,677.9 L653.3,677.9 L653.3,679.1 L654.3,679.1 L654.3,682.3 L655.3,682.3 L655.3,682.3 L656.3,682.3 L656.3,686.0 L657.3,686.0 L657.3,690.7 L658.3,690.7 L658.3,691.8 L659.3,691.8 L659.3,694.2 L660.3,694.2 L660.3,694.5 L661.3,694.5 L661.3,693.6 L662.3,693.6 L662.3,694.9 L663.3,694.9 L663.3,696.7 L664.3,696.7 L664.3,701.3 L665.3,701.3 L665.3,701.4 L666.3,701.4 L666.3,700.4 L667.3,700.4 L667.3,699.4 L668.3,699.4 L668.3,699.3 L669.3,699.3 L669.3,697.1 L670.3,697.1 L670.3,691.5 L671.3,691.5 L671.3,689.0 L672.3,689.0 L672.3,688.9 L673.3,688.9 L673.3,691.8 L674.0,691.8 L674.0,706.3 Z" fill="#92194f" stroke="none"/>
<line x1="384.3" y1="706.3" x2="674" y2="706.3" stroke="#55102e" stroke-width="1.0" />
<text x="392.5" y="463.2" font-size="11.15" text-anchor="start" fill="#000" style="" >WT</text>
<text x="392" y="528.5" font-size="11.15" text-anchor="start" fill="#000" style="font-style:italic;">raf1<tspan font-size="6.4" dx="0.5" dy="-3.8">R576H</tspan></text>
<text x="392" y="589.8" font-size="11.15" text-anchor="start" fill="#000" style="font-style:italic;">raf1<tspan font-size="6.4" dx="0.5" dy="-3.8">R576H</tspan></text>
<text x="392" y="602.9" font-size="11.15" text-anchor="start" fill="#000" style="font-style:italic;" >raf1-oe</text>
<text x="392" y="655.8" font-size="11.15" text-anchor="start" fill="#000" style="font-style:italic;">raf1<tspan font-size="6.4" dx="0.5" dy="-3.8">R576H</tspan></text>
<text x="392" y="668.6" font-size="11.15" text-anchor="start" fill="#000" style="font-style:italic;">raf1<tspan font-size="6.4" dx="0.5" dy="-3.8">R576H</tspan><tspan dx="0.3" dy="3.8">-oe</tspan></text>
<text x="439.7" y="723.5" font-size="11.15" text-anchor="middle" fill="#000" style="" >4490</text>
<text x="533.9" y="723.5" font-size="11.15" text-anchor="middle" fill="#000" style="" >4510</text>
<text x="628" y="723.5" font-size="11.15" text-anchor="middle" fill="#000" style="" >4530</text>
<text x="532.3" y="741.5" font-size="11.15" text-anchor="middle" fill="#000" style="" >Chromosome position (kb)</text>
<text x="0" y="0" font-size="11.15" text-anchor="middle" fill="#000" style="" transform="translate(354.9,573.6) rotate(-90)">H3K9me3 fold enrichment</text>
</svg></body></html>
